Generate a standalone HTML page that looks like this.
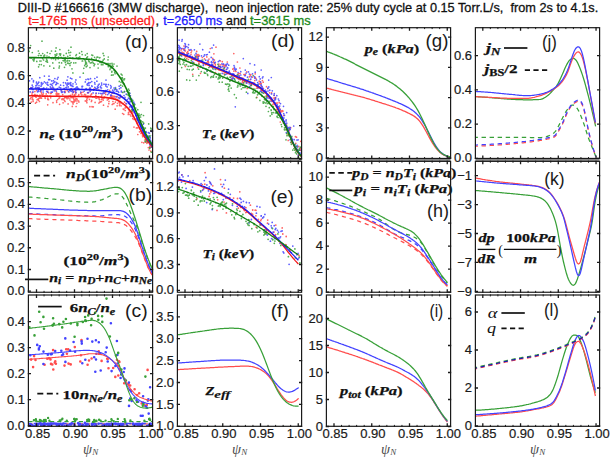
<!DOCTYPE html><html><head><meta charset="utf-8"><style>html,body{margin:0;padding:0;background:#fff;overflow:hidden}svg{display:block}</style></head><body>
<svg width="616" height="458" viewBox="0 0 616 458">
<rect width="616" height="458" fill="#fff"/>
<text x="17.8" y="12.4" font-size="13" textLength="580.4" lengthAdjust="spacingAndGlyphs" fill="#111" stroke="#111" stroke-width="0.3" style='font-family:"Liberation Sans",sans-serif'>DIII-D #166616 (3MW discharge),&#160; neon injection rate: 25% duty cycle at 0.15 Torr.L/s,&#160; from 2s to 4.1s.</text>
<text x="28.2" y="25.3" font-size="13" textLength="126.8" lengthAdjust="spacingAndGlyphs" fill="#ff1a1a" stroke="#ff1a1a" stroke-width="0.3" style='font-family:"Liberation Sans",sans-serif'>t=1765 ms (unseeded)</text>
<text x="155.60" y="25.30" font-size="13.00" text-anchor="start" fill="#111" style='font-family:"Liberation Sans",sans-serif' stroke="#111" stroke-width="0.3">,</text>
<text x="163.3" y="25.3" font-size="13" textLength="59.1" lengthAdjust="spacingAndGlyphs" fill="#1a1aff" stroke="#1a1aff" stroke-width="0.3" style='font-family:"Liberation Sans",sans-serif'>t=2650 ms</text>
<text x="226.0" y="25.3" font-size="13" textLength="20.7" lengthAdjust="spacingAndGlyphs" fill="#111" stroke="#111" stroke-width="0.3" style='font-family:"Liberation Sans",sans-serif'>and</text>
<text x="250.0" y="25.3" font-size="13" textLength="60.8" lengthAdjust="spacingAndGlyphs" fill="#1a8a1a" stroke="#1a8a1a" stroke-width="0.3" style='font-family:"Liberation Sans",sans-serif'>t=3615 ms</text>
<clipPath id="c00"><rect x="28.40" y="27.70" width="124.20" height="130.90"/></clipPath>
<g clip-path="url(#c00)">
<path d="M145.5,142.2h0M73.1,104.0h0M125.8,103.6h0M101.8,95.1h0M65.0,101.4h0M142.9,133.7h0M136.3,118.9h0M73.7,101.6h0M149.2,141.4h0M56.3,94.8h0M128.4,112.8h0M112.9,101.5h0M86.9,100.3h0M32.3,92.4h0M139.5,131.8h0M99.6,99.7h0M76.9,103.3h0M72.5,96.6h0M109.3,97.8h0M71.5,97.1h0M91.4,101.5h0M74.5,94.6h0M35.3,96.3h0M59.6,104.3h0M132.8,118.7h0M130.0,114.3h0M111.2,97.5h0M86.9,100.7h0M148.8,139.2h0M132.7,110.4h0M58.9,93.9h0M98.9,103.1h0M147.0,141.7h0M125.9,103.7h0M74.3,96.2h0M86.8,99.2h0M92.7,106.8h0M140.3,124.9h0M117.1,105.8h0M77.9,100.8h0M85.8,95.1h0M39.9,95.5h0M89.5,99.4h0M56.9,96.2h0M40.0,97.5h0M39.8,89.0h0M55.3,90.7h0M115.2,109.2h0M50.7,97.8h0M99.0,98.8h0M103.2,100.1h0M148.3,147.6h0M85.3,100.9h0M124.5,102.2h0M32.8,96.4h0M108.4,99.2h0M150.1,147.8h0M34.4,94.7h0M141.0,133.4h0M47.8,98.0h0M112.2,104.5h0M31.6,87.8h0M36.1,97.2h0M45.2,98.3h0M140.3,123.7h0M125.6,106.8h0M110.6,96.3h0M109.0,101.4h0M64.9,97.6h0M94.0,88.8h0M88.3,92.7h0M146.4,142.3h0M84.8,94.4h0M121.1,105.8h0M73.0,102.9h0M143.3,136.2h0M134.2,119.4h0M151.5,147.2h0M56.7,102.3h0M136.4,127.9h0M87.6,97.9h0M91.7,100.4h0M95.7,98.0h0M39.9,95.2h0M137.8,134.5h0M103.4,98.0h0M41.6,93.9h0M120.1,97.4h0M42.6,94.7h0M75.8,94.0h0M111.5,95.4h0M86.2,96.6h0M36.6,102.2h0M105.7,92.3h0M74.0,99.7h0M75.8,98.9h0M48.7,92.8h0M51.3,93.1h0M151.6,146.3h0M103.5,105.2h0M101.3,97.2h0M125.3,110.5h0M76.1,100.9h0M47.6,91.4h0M103.8,98.3h0M78.7,101.1h0M78.5,95.7h0M39.4,101.4h0M80.7,93.6h0M34.9,91.6h0M140.3,129.2h0M75.0,99.8h0M117.2,99.7h0M101.5,101.5h0M83.1,92.0h0M70.5,95.3h0M32.5,98.0h0M109.7,90.3h0M40.8,98.1h0M57.6,94.1h0M147.4,138.9h0M75.1,96.3h0M73.4,92.2h0M114.0,103.5h0M61.9,99.4h0M74.2,101.9h0M66.6,98.0h0M114.7,96.9h0M38.1,87.9h0M75.7,92.7h0M152.2,144.3h0M108.0,106.4h0M87.4,97.9h0M64.4,100.3h0M31.3,102.1h0M141.3,131.4h0M142.7,136.7h0M149.8,141.8h0M88.0,96.4h0M102.1,98.5h0M64.3,89.0h0M131.2,111.1h0M100.7,101.9h0M65.3,97.4h0M65.1,91.1h0M72.7,90.3h0M111.7,97.0h0M123.9,109.4h0M41.4,98.0h0M143.7,142.8h0M121.9,96.6h0M128.3,114.4h0M53.0,102.7h0M46.2,93.9h0M119.5,105.0h0M144.9,135.5h0M71.5,88.6h0M40.9,90.5h0M69.0,96.0h0M132.4,116.2h0M130.6,115.8h0M57.6,99.5h0M47.7,104.8h0M89.9,90.6h0M68.2,96.8h0M134.0,127.1h0M86.2,96.5h0M56.6,92.8h0M81.9,94.9h0M56.1,93.8h0M115.8,98.9h0M149.0,150.0h0M103.9,93.3h0M58.0,94.8h0M129.2,109.9h0M73.7,98.6h0M39.4,98.2h0M47.6,95.9h0M74.5,100.9h0M132.0,111.2h0M56.6,100.8h0M125.5,107.3h0M38.7,96.3h0M132.6,116.4h0M117.2,96.7h0M39.4,98.3h0M33.8,95.5h0M59.7,97.8h0M50.7,93.5h0M108.8,103.7h0M86.9,102.7h0M99.6,102.2h0M63.9,98.5h0M149.8,146.7h0M41.2,92.2h0M110.7,98.1h0M94.4,97.0h0M151.2,146.1h0M146.9,143.3h0M88.0,96.1h0M84.1,95.0h0M72.7,101.9h0M49.8,96.2h0M113.0,97.6h0M138.5,119.8h0M87.5,92.8h0M142.3,133.3h0M58.9,98.4h0M61.6,91.0h0M146.9,141.0h0M142.5,135.6h0M92.0,106.7h0M96.8,98.2h0M72.3,106.4h0M32.0,94.2h0M75.0,91.4h0M150.7,144.5h0M91.5,94.6h0M128.6,109.6h0M48.5,99.7h0M119.5,105.6h0M101.7,99.4h0M150.8,151.2h0M67.2,98.7h0M86.3,101.3h0M62.2,98.7h0M119.9,103.7h0M37.0,95.1h0M119.2,102.2h0M132.0,105.7h0M59.3,96.3h0M73.0,97.8h0M71.3,101.6h0M137.2,123.5h0M47.8,99.4h0M141.9,142.3h0M40.0,96.0h0M33.1,101.4h0M129.2,111.8h0M36.6,90.4h0M99.0,97.9h0M92.7,96.9h0M138.3,122.5h0M112.1,93.2h0M150.3,141.9h0M113.0,96.0h0M70.0,100.0h0M144.7,140.0h0M38.3,100.1h0M113.1,103.8h0M41.9,89.2h0M50.7,96.3h0M76.4,98.7h0M90.5,95.3h0M35.1,94.6h0M78.8,94.7h0M95.1,102.4h0M63.1,102.8h0M78.9,102.0h0M125.2,107.9h0M52.1,88.2h0M66.8,97.3h0M62.7,94.6h0M59.4,97.8h0M33.1,99.8h0M147.1,143.0h0M91.6,93.9h0M69.0,92.0h0M137.7,127.9h0M31.2,97.5h0M41.6,98.1h0M30.8,87.8h0M32.3,99.5h0M28.8,100.0h0M104.0,97.5h0M117.5,103.3h0M72.4,94.2h0M143.6,130.8h0M122.2,97.1h0M151.0,145.3h0M123.8,114.3h0M93.3,106.8h0M35.5,103.2h0M43.3,93.8h0M69.0,98.4h0M45.4,98.0h0M107.5,97.5h0M37.1,99.7h0M95.8,95.4h0M73.5,97.8h0M76.1,106.5h0M38.3,98.9h0M117.7,99.7h0M123.2,109.0h0M68.1,103.9h0M75.2,96.7h0M114.4,96.4h0M44.9,96.7h0M104.7,97.0h0M70.9,97.8h0M115.4,102.1h0M107.3,100.0h0M67.2,90.4h0M63.2,99.4h0M77.1,99.2h0M65.2,92.3h0M122.6,113.5h0M126.5,107.5h0M89.9,106.7h0M57.9,93.5h0M89.6,88.7h0M122.3,103.6h0M96.1,93.5h0M30.4,98.7h0M39.4,96.0h0M76.2,99.0h0M133.0,112.7h0M81.5,92.6h0M105.8,94.4h0M98.5,90.2h0" stroke="#ff4d4d" stroke-width="1.70" stroke-linecap="round" opacity="0.85"/>
<path d="M47.5,82.3h0M65.6,82.8h0M121.3,91.1h0M150.4,140.1h0M151.6,131.5h0M63.4,82.6h0M119.2,86.2h0M48.6,89.4h0M36.5,82.2h0M104.5,93.0h0M78.2,88.4h0M101.7,84.9h0M71.9,85.8h0M29.5,80.8h0M53.5,80.7h0M32.4,89.5h0M129.3,103.4h0M38.9,89.1h0M47.7,92.2h0M36.5,85.6h0M129.7,98.8h0M103.4,91.9h0M52.1,85.6h0M54.1,90.8h0M52.8,83.6h0M47.8,85.1h0M82.0,86.4h0M143.3,124.2h0M146.3,135.1h0M148.5,136.0h0M41.3,83.1h0M124.3,92.0h0M71.7,85.4h0M94.8,87.3h0M66.4,87.4h0M114.2,92.4h0M69.1,83.1h0M137.3,119.9h0M54.9,81.8h0M74.5,88.8h0M121.4,91.9h0M43.1,90.0h0M35.9,85.7h0M41.4,82.7h0M114.0,88.0h0M147.8,136.5h0M86.0,79.6h0M82.1,86.9h0M39.8,77.7h0M41.0,86.3h0M53.9,82.5h0M91.8,81.5h0M65.9,83.6h0M71.0,88.8h0M102.6,93.7h0M138.9,117.0h0M40.2,91.3h0M44.4,76.1h0M52.3,92.2h0M130.3,101.7h0M78.9,89.0h0M134.6,104.6h0M90.2,91.3h0M49.0,76.2h0M108.9,93.4h0M51.1,92.2h0M130.0,99.7h0M51.1,88.4h0M54.9,78.6h0M133.3,102.9h0M129.5,95.5h0M104.8,91.1h0M86.1,88.7h0M113.2,91.3h0M58.1,77.4h0M32.8,92.0h0M72.5,89.8h0M105.8,86.0h0M52.0,92.2h0M118.5,97.7h0M135.8,115.4h0M76.2,87.6h0M70.8,82.7h0M43.9,88.0h0M128.5,98.1h0M75.9,79.9h0M148.1,137.1h0M87.5,83.6h0M99.2,84.1h0M68.6,84.1h0M93.1,92.9h0M119.4,88.7h0M61.1,90.7h0M105.7,84.4h0M150.8,143.5h0M75.1,88.5h0M50.9,87.9h0M142.4,127.5h0M38.1,83.3h0M149.0,139.4h0M146.4,136.1h0M71.7,91.3h0M90.5,88.2h0M46.7,88.0h0M101.6,83.1h0M31.9,78.8h0M132.8,106.3h0M42.0,84.4h0M142.6,126.4h0M56.3,84.2h0M73.3,91.9h0M31.9,87.9h0M75.3,82.1h0M36.5,83.0h0M143.5,129.4h0M129.9,93.3h0M149.7,144.8h0M84.2,91.1h0M106.3,90.7h0M92.1,86.3h0M149.4,133.2h0M96.9,88.5h0M127.5,99.7h0M67.9,76.8h0M119.5,98.4h0M120.3,95.2h0M80.7,92.1h0M55.8,84.7h0M47.1,84.3h0M128.7,101.8h0M145.9,131.5h0M53.6,88.0h0M96.1,93.1h0M107.1,86.9h0M43.0,83.3h0M137.2,118.9h0M52.9,87.2h0M110.6,85.5h0M94.8,78.5h0M116.3,96.8h0M101.0,93.5h0M48.1,85.2h0M35.6,87.7h0M112.6,90.2h0M140.5,124.4h0M88.6,92.6h0M140.3,123.8h0M152.4,142.1h0M97.4,88.4h0M68.3,86.9h0M53.8,89.0h0M100.5,86.3h0M141.6,131.3h0M33.1,92.0h0M91.7,89.8h0M150.9,144.0h0M126.6,103.7h0M117.9,91.3h0M63.6,85.5h0M33.5,80.5h0M124.4,91.7h0M131.3,99.4h0M44.4,81.8h0M43.1,88.5h0M49.7,79.7h0M98.4,87.4h0M97.6,86.5h0M76.0,92.4h0M149.4,136.7h0M120.6,96.7h0M93.5,90.1h0M51.3,84.3h0M37.5,91.8h0M88.6,79.3h0M140.4,121.2h0M115.6,89.0h0M141.9,132.1h0M62.1,91.5h0M76.3,84.0h0M87.8,92.6h0M56.4,91.1h0M106.0,80.1h0M46.7,91.4h0M94.7,82.6h0M87.8,92.6h0M67.7,83.2h0M35.3,88.2h0M65.9,87.5h0M77.1,86.9h0M64.1,88.4h0M73.0,86.4h0M70.6,90.9h0M77.5,89.0h0M57.3,79.1h0M39.6,89.5h0M43.1,92.1h0M80.0,77.1h0M116.9,91.1h0M73.0,83.8h0M57.9,83.5h0M106.2,84.4h0M62.2,92.3h0M75.8,90.6h0M131.5,99.0h0M82.0,89.2h0M68.1,87.0h0M64.5,92.4h0M101.5,88.0h0M152.5,135.5h0M98.8,93.3h0M129.8,106.9h0M30.2,91.9h0M151.3,147.1h0M90.5,78.7h0M131.9,99.4h0M150.3,137.9h0M100.6,87.6h0M133.9,105.4h0M37.3,87.6h0M133.8,102.2h0M45.8,82.9h0M33.4,81.8h0M67.1,84.6h0M87.8,79.0h0M107.7,94.6h0M51.7,80.9h0M104.0,84.2h0M32.9,86.8h0M148.4,132.7h0M141.2,127.3h0M79.7,89.3h0M70.8,85.4h0M88.8,82.5h0M147.0,140.4h0M111.3,86.8h0M126.2,94.2h0M110.8,88.1h0M152.1,142.2h0M41.3,84.9h0M138.5,115.1h0M69.6,90.2h0M38.2,90.2h0M64.3,89.0h0M39.0,87.6h0M125.0,97.4h0M110.7,95.2h0M88.8,83.5h0M130.4,95.8h0M70.5,84.9h0M91.8,85.9h0M98.2,85.2h0M87.1,84.7h0M50.4,84.4h0M118.7,92.3h0M56.6,82.6h0M38.5,88.7h0M60.6,85.2h0M76.6,87.8h0M116.1,89.3h0M96.9,81.2h0M143.3,127.7h0M95.0,84.1h0M66.3,87.7h0M138.9,116.4h0M32.2,85.2h0M52.6,89.5h0M124.0,95.5h0M67.1,85.5h0M146.3,132.2h0M38.8,82.2h0M39.2,87.8h0M67.1,80.2h0M115.5,87.5h0M134.4,103.9h0M60.7,87.8h0M73.1,92.4h0M120.9,87.7h0M105.3,90.5h0M97.5,86.6h0M111.4,95.4h0M97.0,77.2h0M40.7,90.5h0M43.4,88.2h0M82.6,86.3h0M31.1,87.5h0M71.9,78.8h0M87.5,85.1h0M150.6,140.7h0M100.7,93.5h0M48.7,79.7h0M89.7,88.2h0M89.1,85.4h0M116.0,96.6h0M116.3,91.2h0M68.5,91.6h0M131.0,98.7h0M90.4,82.5h0M33.2,89.6h0M85.3,81.9h0M47.7,82.6h0M107.8,89.8h0M116.9,89.8h0M108.4,84.6h0M70.5,78.2h0M57.4,88.7h0M39.0,85.6h0M70.4,84.1h0M95.7,88.3h0M37.1,84.7h0M130.0,99.5h0M77.2,87.8h0M38.3,91.4h0M64.2,91.5h0M50.2,86.8h0M61.6,92.3h0M72.5,86.3h0M59.2,87.2h0M36.1,88.5h0M134.0,106.8h0M114.4,89.8h0" stroke="#4343ff" stroke-width="1.70" stroke-linecap="round" opacity="0.85"/>
<path d="M76.5,57.9h0M31.1,58.0h0M53.3,58.6h0M147.7,141.9h0M134.5,104.5h0M134.1,109.8h0M114.1,70.3h0M63.7,55.4h0M108.0,59.8h0M147.1,140.7h0M104.3,58.9h0M64.1,60.9h0M70.2,58.2h0M71.1,62.5h0M141.4,114.5h0M28.7,48.8h0M123.2,83.4h0M85.9,62.0h0M66.0,61.0h0M52.4,57.6h0M144.4,129.5h0M79.6,57.1h0M152.0,146.0h0M87.2,53.6h0M148.7,123.9h0M101.2,62.5h0M65.9,64.7h0M128.9,103.2h0M66.3,53.4h0M132.7,110.1h0M112.0,68.1h0M71.0,47.2h0M97.8,57.2h0M81.7,51.6h0M38.4,55.6h0M151.2,128.9h0M42.0,41.2h0M90.4,63.0h0M122.3,77.5h0M123.5,83.4h0M68.6,50.3h0M114.0,64.0h0M60.3,55.2h0M91.7,58.4h0M65.3,62.5h0M114.7,72.2h0M61.6,62.9h0M115.4,88.7h0M106.3,64.0h0M70.6,52.3h0M59.4,66.1h0M135.8,108.0h0M130.9,99.3h0M145.2,135.1h0M111.6,66.4h0M137.8,109.7h0M42.7,53.5h0M68.9,52.7h0M119.3,81.4h0M43.9,56.1h0M110.3,68.1h0M56.1,47.9h0M131.8,111.3h0M113.1,74.9h0M98.4,60.6h0M134.6,104.4h0M56.5,55.3h0M141.1,120.9h0M82.2,54.6h0M122.6,86.1h0M44.6,56.0h0M106.6,63.5h0M132.7,100.6h0M135.9,113.7h0M70.0,55.3h0M85.4,60.9h0M86.7,64.0h0M140.6,117.0h0M89.2,61.7h0M86.4,62.8h0M148.4,140.1h0M72.9,72.9h0M111.9,71.4h0M138.9,113.8h0M129.4,95.6h0M41.2,55.6h0M151.9,146.3h0M30.6,45.5h0M90.0,67.6h0M122.8,92.4h0M46.0,61.3h0M59.5,53.9h0M147.3,138.1h0M83.3,73.2h0M110.1,63.7h0M120.7,85.2h0M86.2,66.8h0M149.9,136.6h0M121.3,78.1h0M124.6,78.8h0M94.1,65.7h0M46.7,61.6h0M121.0,82.3h0M47.3,52.6h0M131.5,101.2h0M130.3,98.5h0M40.5,55.5h0M72.0,68.8h0M70.0,65.4h0M68.4,63.4h0M103.1,53.4h0M150.0,135.7h0M42.6,58.6h0M133.9,105.9h0M33.0,59.7h0M149.6,148.5h0M101.8,62.6h0M84.7,65.6h0M59.2,62.7h0M64.5,59.1h0M146.9,135.7h0M67.6,61.0h0M36.8,61.4h0M61.1,57.4h0M144.8,128.2h0M108.3,57.0h0M43.9,65.8h0M84.8,59.7h0M144.3,130.6h0M73.8,62.9h0M108.3,66.6h0M99.9,57.5h0M38.6,66.8h0M102.9,64.7h0M85.5,64.2h0M138.4,115.6h0M69.5,58.2h0M115.1,73.7h0M88.6,60.8h0M58.2,58.8h0M75.8,62.8h0M101.4,64.7h0M129.4,92.9h0M143.7,123.2h0M78.8,58.6h0M32.3,52.5h0M91.7,55.0h0M85.4,55.1h0M122.1,75.1h0M58.6,57.2h0M103.9,55.6h0M150.7,128.0h0M79.7,57.6h0M138.5,117.7h0M83.8,68.3h0M51.4,58.6h0M29.0,51.2h0M52.8,62.9h0M49.8,66.1h0M29.2,51.5h0M55.1,54.6h0M78.4,58.3h0M108.4,63.5h0M124.6,91.5h0M97.0,57.2h0M92.6,62.0h0M55.6,59.7h0M56.9,53.9h0M64.9,60.1h0M102.4,61.6h0M109.9,65.3h0M58.6,58.1h0M47.5,62.2h0M34.1,59.7h0M145.1,141.6h0M65.5,57.7h0M122.8,78.8h0M98.0,64.1h0M59.9,49.6h0M131.8,109.3h0M53.8,68.2h0M39.3,64.6h0M91.4,62.7h0M124.2,84.1h0M39.9,61.0h0M94.6,57.3h0M63.1,60.5h0M135.4,111.0h0M33.8,61.0h0M50.0,53.5h0M67.7,60.4h0M92.7,55.4h0M99.5,57.8h0M112.3,65.0h0M34.2,58.7h0M82.2,61.0h0M143.5,115.5h0M87.5,56.8h0M41.3,64.6h0M111.5,75.2h0M82.6,61.0h0M128.3,92.3h0M44.6,55.0h0M145.5,141.4h0M101.2,61.7h0M140.8,126.0h0M67.5,63.1h0M75.9,55.6h0M98.2,68.0h0M93.4,63.4h0M99.9,62.4h0M55.5,51.2h0M128.5,95.6h0M47.1,60.3h0M138.0,120.9h0M79.5,53.2h0M139.9,115.3h0M111.0,67.0h0M136.3,111.9h0M86.7,57.9h0M122.1,78.6h0M67.7,56.4h0M53.3,57.8h0M145.4,128.1h0M43.6,56.0h0M69.5,60.8h0M128.5,89.1h0M107.7,63.6h0M64.5,67.3h0M142.7,121.8h0M113.2,66.3h0M143.8,130.5h0M145.8,139.8h0M76.4,54.6h0M144.7,137.3h0M123.9,79.9h0M64.9,58.4h0M103.1,60.2h0M110.0,69.6h0M141.4,125.0h0M111.8,72.1h0M79.9,57.0h0M126.8,91.1h0M85.6,62.8h0M117.0,66.1h0M46.6,59.1h0M64.5,58.5h0M55.3,56.2h0M129.5,93.5h0M141.0,102.3h0M38.4,51.0h0M72.5,58.1h0M132.8,100.4h0M127.1,94.6h0M60.7,53.9h0M112.0,63.4h0M94.7,64.2h0M138.9,117.5h0M138.4,120.5h0M51.5,51.0h0M129.2,90.4h0M69.9,63.5h0M41.0,61.0h0M121.1,74.1h0M47.0,56.0h0M59.1,67.9h0M65.3,59.2h0M151.3,152.2h0M149.8,147.5h0M145.0,132.2h0M43.6,60.0h0M131.3,106.4h0M122.2,81.3h0M78.2,57.8h0M49.0,56.8h0M96.2,59.2h0M39.2,53.5h0M87.2,65.8h0M140.7,124.8h0M148.9,137.1h0" stroke="#38a038" stroke-width="1.70" stroke-linecap="round" opacity="0.85"/>
<path d="M28.4,95.7 L29.4,95.7 L30.4,95.8 L31.4,95.8 L32.4,95.8 L33.4,95.8 L34.4,95.9 L35.4,95.9 L36.4,95.9 L37.4,95.9 L38.4,96.0 L39.4,96.0 L40.4,96.0 L41.4,96.0 L42.4,96.1 L43.4,96.1 L44.4,96.1 L45.4,96.1 L46.4,96.1 L47.4,96.2 L48.4,96.2 L49.4,96.2 L50.4,96.2 L51.4,96.2 L52.4,96.2 L53.4,96.2 L54.4,96.3 L55.4,96.3 L56.4,96.3 L57.4,96.3 L58.4,96.3 L59.4,96.3 L60.4,96.3 L61.4,96.3 L62.4,96.3 L63.4,96.3 L64.4,96.4 L65.4,96.4 L66.4,96.4 L67.4,96.4 L68.4,96.4 L69.4,96.4 L70.4,96.4 L71.4,96.4 L72.4,96.4 L73.4,96.4 L74.4,96.4 L75.4,96.4 L76.4,96.5 L77.4,96.5 L78.4,96.5 L79.4,96.5 L80.4,96.5 L81.4,96.5 L82.4,96.5 L83.4,96.5 L84.4,96.5 L85.4,96.6 L86.4,96.6 L87.4,96.6 L88.4,96.6 L89.4,96.6 L90.4,96.7 L91.4,96.7 L92.4,96.7 L93.4,96.7 L94.4,96.8 L95.4,96.8 L96.4,96.8 L97.4,96.9 L98.4,96.9 L99.4,97.0 L100.4,97.0 L101.4,97.1 L102.4,97.2 L103.4,97.3 L104.4,97.4 L105.4,97.5 L106.4,97.6 L107.4,97.7 L108.4,97.9 L109.4,98.0 L110.4,98.2 L111.4,98.4 L112.4,98.6 L113.4,98.9 L114.4,99.1 L115.4,99.4 L116.4,99.8 L117.4,100.2 L118.4,100.7 L119.4,101.2 L120.4,101.8 L121.4,102.5 L122.4,103.3 L123.4,104.0 L124.4,104.8 L125.4,105.6 L126.4,106.5 L127.4,107.5 L128.4,108.6 L129.4,109.8 L130.4,111.2 L131.4,112.7 L132.4,114.4 L133.4,116.1 L134.4,118.0 L135.4,119.9 L136.4,121.8 L137.4,123.8 L138.4,125.8 L139.4,127.8 L140.4,129.7 L141.4,131.5 L142.4,133.2 L143.4,134.8 L144.4,136.4 L145.4,137.8 L146.4,139.2 L147.4,140.6 L148.4,141.9 L149.4,143.2 L150.4,144.4 L151.4,145.6 L152.4,146.8 L152.9,147.3" fill="none" stroke="#f21818" stroke-width="1.60" stroke-linejoin="round" opacity="1.00" />
<path d="M28.4,88.9 L29.4,88.9 L30.4,88.9 L31.4,88.9 L32.4,89.0 L33.4,89.0 L34.4,89.0 L35.4,89.0 L36.4,89.0 L37.4,89.0 L38.4,89.0 L39.4,89.1 L40.4,89.1 L41.4,89.1 L42.4,89.1 L43.4,89.1 L44.4,89.1 L45.4,89.1 L46.4,89.2 L47.4,89.2 L48.4,89.2 L49.4,89.2 L50.4,89.2 L51.4,89.2 L52.4,89.2 L53.4,89.2 L54.4,89.2 L55.4,89.3 L56.4,89.3 L57.4,89.3 L58.4,89.3 L59.4,89.3 L60.4,89.3 L61.4,89.3 L62.4,89.3 L63.4,89.3 L64.4,89.3 L65.4,89.3 L66.4,89.3 L67.4,89.3 L68.4,89.4 L69.4,89.4 L70.4,89.4 L71.4,89.4 L72.4,89.4 L73.4,89.4 L74.4,89.4 L75.4,89.4 L76.4,89.4 L77.4,89.4 L78.4,89.4 L79.4,89.5 L80.4,89.5 L81.4,89.5 L82.4,89.5 L83.4,89.5 L84.4,89.5 L85.4,89.6 L86.4,89.6 L87.4,89.6 L88.4,89.6 L89.4,89.7 L90.4,89.7 L91.4,89.7 L92.4,89.8 L93.4,89.9 L94.4,89.9 L95.4,90.0 L96.4,90.1 L97.4,90.2 L98.4,90.3 L99.4,90.4 L100.4,90.5 L101.4,90.6 L102.4,90.7 L103.4,90.8 L104.4,91.0 L105.4,91.1 L106.4,91.3 L107.4,91.5 L108.4,91.7 L109.4,91.9 L110.4,92.1 L111.4,92.4 L112.4,92.6 L113.4,92.9 L114.4,93.2 L115.4,93.5 L116.4,93.8 L117.4,94.2 L118.4,94.7 L119.4,95.2 L120.4,95.8 L121.4,96.5 L122.4,97.3 L123.4,98.0 L124.4,98.8 L125.4,99.7 L126.4,100.6 L127.4,101.5 L128.4,102.5 L129.4,103.7 L130.4,105.0 L131.4,106.5 L132.4,108.2 L133.4,110.0 L134.4,111.9 L135.4,114.0 L136.4,116.2 L137.4,118.5 L138.4,120.8 L139.4,123.1 L140.4,125.4 L141.4,127.6 L142.4,129.7 L143.4,131.7 L144.4,133.5 L145.4,135.2 L146.4,136.9 L147.4,138.5 L148.4,140.0 L149.4,141.4 L150.4,142.9 L151.4,144.3 L152.4,145.7 L152.9,146.4" fill="none" stroke="#1a1af0" stroke-width="1.60" stroke-linejoin="round" opacity="1.00" />
<path d="M28.4,57.6 L29.4,57.6 L30.4,57.6 L31.4,57.6 L32.4,57.6 L33.4,57.6 L34.4,57.6 L35.4,57.6 L36.4,57.6 L37.4,57.7 L38.4,57.7 L39.4,57.7 L40.4,57.7 L41.4,57.7 L42.4,57.7 L43.4,57.7 L44.4,57.7 L45.4,57.7 L46.4,57.8 L47.4,57.8 L48.4,57.8 L49.4,57.8 L50.4,57.8 L51.4,57.8 L52.4,57.8 L53.4,57.9 L54.4,57.9 L55.4,57.9 L56.4,57.9 L57.4,57.9 L58.4,58.0 L59.4,58.0 L60.4,58.0 L61.4,58.0 L62.4,58.1 L63.4,58.1 L64.4,58.1 L65.4,58.2 L66.4,58.2 L67.4,58.2 L68.4,58.2 L69.4,58.3 L70.4,58.3 L71.4,58.3 L72.4,58.4 L73.4,58.4 L74.4,58.5 L75.4,58.5 L76.4,58.5 L77.4,58.6 L78.4,58.6 L79.4,58.7 L80.4,58.7 L81.4,58.8 L82.4,58.8 L83.4,58.9 L84.4,59.0 L85.4,59.0 L86.4,59.1 L87.4,59.2 L88.4,59.3 L89.4,59.4 L90.4,59.5 L91.4,59.6 L92.4,59.7 L93.4,59.9 L94.4,60.1 L95.4,60.3 L96.4,60.5 L97.4,60.7 L98.4,61.0 L99.4,61.2 L100.4,61.5 L101.4,61.9 L102.4,62.2 L103.4,62.7 L104.4,63.1 L105.4,63.5 L106.4,64.0 L107.4,64.5 L108.4,65.0 L109.4,65.6 L110.4,66.3 L111.4,67.0 L112.4,67.8 L113.4,68.8 L114.4,69.8 L115.4,71.0 L116.4,72.3 L117.4,73.7 L118.4,75.1 L119.4,76.5 L120.4,78.1 L121.4,79.7 L122.4,81.3 L123.4,83.1 L124.4,84.9 L125.4,86.8 L126.4,88.9 L127.4,91.0 L128.4,93.2 L129.4,95.5 L130.4,97.9 L131.4,100.2 L132.4,102.6 L133.4,105.0 L134.4,107.4 L135.4,109.7 L136.4,112.0 L137.4,114.4 L138.4,116.7 L139.4,119.1 L140.4,121.6 L141.4,124.0 L142.4,126.4 L143.4,128.7 L144.4,131.0 L145.4,133.1 L146.4,135.1 L147.4,137.0 L148.4,138.7 L149.4,140.4 L150.4,142.0 L151.4,143.6 L152.4,145.1 L152.9,145.8" fill="none" stroke="#118011" stroke-width="1.60" stroke-linejoin="round" opacity="1.00" />
</g>
<text x="125.10" y="47.55" font-size="17.5" textLength="22.80" lengthAdjust="spacingAndGlyphs" fill="#1a1a1a" style='font-family:"Liberation Sans",sans-serif'>(ɑ)</text>
<clipPath id="c10"><rect x="177.40" y="27.70" width="124.20" height="130.90"/></clipPath>
<g clip-path="url(#c10)">
<path d="M197.3,56.4h0M250.2,79.7h0M279.7,111.9h0M214.4,60.1h0M262.4,80.5h0M235.0,76.5h0M288.0,134.7h0M247.5,81.1h0M300.7,149.0h0M207.6,61.8h0M191.1,52.6h0M220.3,60.8h0M274.1,95.4h0M244.4,74.7h0M292.1,140.8h0M300.8,148.0h0M291.9,142.8h0M197.6,57.8h0M250.7,85.4h0M267.5,96.4h0M291.5,137.6h0M195.7,57.5h0M253.5,82.8h0M184.2,53.7h0M269.6,97.7h0M248.5,87.5h0M193.2,59.0h0M191.6,62.6h0M242.5,81.0h0M238.8,73.6h0M244.3,79.7h0M298.7,146.4h0M298.9,154.7h0M214.2,63.1h0M186.8,58.4h0M213.7,61.9h0M278.4,106.6h0M210.2,66.0h0M195.1,57.7h0M252.4,77.1h0M263.2,82.2h0M199.1,56.2h0M184.7,49.5h0M197.8,67.6h0M206.8,56.9h0M222.3,61.7h0M247.2,88.5h0M290.7,127.7h0M220.8,64.8h0M256.1,85.2h0M259.7,86.8h0M212.6,65.4h0M246.2,82.9h0M299.4,162.0h0M301.1,154.6h0M230.2,73.1h0M279.7,108.6h0M218.9,64.2h0M277.1,102.9h0M224.3,67.3h0M274.1,97.8h0M187.2,54.8h0M202.3,57.5h0M255.4,77.4h0M204.5,58.9h0M214.5,63.4h0M261.3,83.7h0M214.1,62.4h0M217.0,67.9h0M279.2,102.7h0M192.1,59.4h0M182.3,48.6h0M280.5,110.5h0M289.3,130.7h0M261.4,90.3h0M255.2,73.8h0M288.0,129.5h0M243.3,82.7h0M191.7,50.8h0M224.1,66.4h0M232.1,78.0h0M283.0,111.1h0M253.3,88.9h0M185.6,46.6h0M259.2,81.2h0M281.8,111.7h0M187.8,51.6h0M291.3,139.6h0M185.4,66.5h0M263.4,88.5h0M223.0,69.0h0M239.9,68.0h0M199.3,55.3h0M199.0,62.9h0M212.7,58.3h0M276.4,109.8h0M281.2,111.8h0M275.6,97.6h0M219.2,69.9h0M219.7,66.6h0M232.8,69.2h0M196.9,54.6h0M225.5,65.2h0M245.4,74.6h0M213.9,53.8h0M198.1,54.6h0M188.4,59.5h0M233.8,53.6h0M243.2,78.3h0M215.5,72.6h0M178.5,50.5h0M236.0,71.5h0M295.8,143.3h0M249.3,76.8h0M236.9,75.6h0M233.8,71.1h0M218.5,69.6h0M251.0,88.1h0M201.3,61.4h0M288.2,140.4h0M233.8,74.4h0M260.1,84.2h0M185.4,50.9h0M222.9,64.8h0M196.2,55.9h0M200.5,73.3h0M256.9,97.3h0M259.2,92.5h0M256.0,78.6h0M218.1,66.9h0M283.5,123.2h0M274.1,98.6h0M251.5,83.2h0M224.0,73.7h0M269.0,102.9h0M210.5,71.5h0M206.6,62.9h0M181.1,50.0h0M269.6,92.8h0M197.4,58.3h0M218.7,65.9h0M237.1,77.9h0M236.6,75.6h0M276.7,103.2h0M193.9,62.9h0M254.8,80.5h0M242.2,79.1h0M205.3,63.1h0M216.0,47.2h0M226.2,69.5h0M192.4,56.7h0M183.7,49.5h0M196.7,51.4h0M227.3,62.0h0M283.6,115.6h0M214.2,63.0h0M279.2,107.6h0M286.6,125.0h0M205.4,64.7h0M279.5,112.9h0M235.5,70.9h0M241.9,77.8h0M274.0,102.7h0M238.1,73.9h0M256.9,88.2h0M195.6,58.0h0M185.3,56.8h0M282.1,110.5h0M243.1,84.8h0M183.7,52.8h0M271.7,98.0h0M271.6,92.9h0M209.0,59.1h0M264.7,90.9h0M296.5,137.2h0M250.1,75.8h0M286.1,129.3h0M191.0,54.6h0M188.7,49.8h0M222.9,69.3h0M193.8,57.8h0M300.7,141.3h0M198.4,56.2h0M239.0,79.5h0M186.8,52.9h0M182.8,53.4h0M271.1,100.4h0M260.2,81.8h0M225.9,66.2h0M280.3,122.0h0M267.8,88.6h0M242.4,82.4h0M272.9,104.4h0M254.5,83.1h0M187.8,53.2h0M208.6,62.7h0M243.9,74.6h0M215.2,65.9h0M246.8,71.9h0M259.8,83.5h0M215.4,64.3h0M251.1,84.8h0M212.9,64.9h0M261.6,86.4h0M178.9,59.6h0M297.6,149.4h0M243.7,80.6h0M224.2,65.1h0M231.9,80.0h0M198.0,60.9h0M291.5,141.9h0M237.4,62.0h0M239.0,79.0h0M192.7,74.3h0M239.4,76.2h0M211.2,66.9h0M233.2,68.7h0M264.6,91.5h0M266.5,86.7h0M208.4,61.7h0M238.4,73.9h0M286.9,127.1h0M250.8,74.7h0M210.3,48.5h0M197.5,59.8h0M198.7,63.8h0M220.8,67.5h0M197.4,60.4h0M274.9,98.9h0M295.4,136.6h0M300.6,150.5h0M264.5,96.9h0M240.1,73.4h0M276.8,111.8h0M231.9,79.1h0M182.0,52.2h0M297.8,149.9h0M189.9,56.8h0M183.9,46.0h0M271.5,105.9h0" stroke="#ff4d4d" stroke-width="1.70" stroke-linecap="round" opacity="0.85"/>
<path d="M241.8,83.5h0M227.4,67.7h0M255.2,72.2h0M200.2,66.9h0M249.7,86.5h0M245.3,70.1h0M276.7,112.8h0M189.8,50.2h0M184.9,43.6h0M226.8,69.3h0M234.9,69.5h0M245.9,81.6h0M286.3,132.7h0M178.3,45.4h0M294.2,139.7h0M284.5,115.3h0M298.8,153.7h0M213.4,59.6h0M271.5,93.9h0M266.3,91.7h0M252.0,82.5h0M204.9,63.3h0M249.4,74.1h0M261.0,85.2h0M280.2,109.5h0M249.4,82.2h0M240.8,71.7h0M292.7,143.1h0M234.8,68.5h0M262.1,86.7h0M272.3,90.8h0M260.4,91.2h0M245.3,75.5h0M214.6,62.8h0M198.3,58.4h0M279.7,106.0h0M268.7,80.1h0M257.2,85.9h0M292.4,139.1h0M274.8,100.2h0M290.2,127.7h0M275.6,99.1h0M229.3,71.2h0M265.4,90.0h0M271.3,77.5h0M228.6,72.4h0M212.6,67.2h0M236.3,69.1h0M188.2,47.7h0M224.7,67.6h0M274.3,93.5h0M252.5,73.8h0M276.8,95.7h0M226.5,74.0h0M297.6,147.0h0M254.6,64.9h0M279.0,100.6h0M190.0,55.6h0M212.9,59.8h0M183.9,48.5h0M180.2,47.9h0M203.8,56.3h0M287.9,127.9h0M227.5,73.4h0M185.4,44.2h0M186.8,46.5h0M258.3,84.2h0M260.2,78.9h0M222.2,73.4h0M298.3,155.0h0M177.8,50.4h0M203.3,63.7h0M246.8,82.4h0M209.7,66.5h0M278.4,106.9h0M192.7,61.8h0M223.6,64.1h0M261.2,70.0h0M192.3,57.2h0M204.5,54.9h0M220.7,66.5h0M254.9,78.2h0M238.1,78.6h0M297.0,149.3h0M293.7,126.0h0M235.4,69.9h0M202.7,49.7h0M214.0,69.1h0M262.4,77.9h0M191.0,49.6h0M185.3,45.9h0M209.4,52.2h0M249.2,83.8h0M296.9,140.0h0M218.6,66.1h0M188.5,53.7h0M275.5,97.9h0M286.0,121.1h0M221.9,63.8h0M240.2,77.9h0M262.5,92.6h0M261.8,91.6h0M267.7,100.5h0M259.3,76.7h0M179.4,46.2h0M220.7,67.5h0M186.8,55.3h0M184.3,50.5h0M211.3,62.2h0M277.7,108.4h0M208.0,60.3h0M238.1,72.5h0M263.0,76.8h0M234.5,78.8h0M262.7,88.2h0M289.1,127.4h0M290.2,129.4h0M211.2,65.7h0M233.0,77.1h0M215.3,62.3h0M278.4,99.0h0M212.2,64.6h0M226.2,64.4h0M196.0,53.4h0M201.4,60.3h0M248.5,71.9h0M181.6,56.0h0M280.5,103.6h0M203.3,65.4h0M211.2,57.4h0M179.3,47.6h0M299.7,150.2h0M298.1,139.8h0M268.8,86.9h0M266.4,98.4h0M178.0,47.6h0M232.1,79.1h0M203.3,63.1h0M261.3,85.0h0M274.1,95.2h0M233.6,74.0h0M227.8,67.9h0M246.1,73.1h0M194.9,55.0h0M183.0,54.2h0M251.2,84.7h0M269.3,98.3h0M244.9,75.7h0M254.4,76.7h0M207.3,54.5h0M256.5,79.9h0M195.4,56.9h0M181.4,48.7h0M212.0,47.9h0M193.6,59.3h0M247.8,93.4h0M286.7,112.6h0M205.7,60.2h0M267.8,88.2h0M242.5,79.8h0M234.0,65.6h0M250.9,79.1h0M232.8,73.9h0M243.3,58.6h0M207.0,70.7h0M283.7,113.7h0M240.8,75.0h0M260.7,82.1h0M201.5,55.9h0M234.5,67.2h0M185.3,47.7h0M181.9,41.1h0M235.3,106.8h0M286.7,123.2h0M247.5,77.2h0M179.2,49.2h0M222.7,66.7h0M211.4,71.7h0M257.7,82.5h0M211.5,61.5h0M258.2,85.1h0M267.9,97.7h0M225.3,74.3h0M227.4,63.9h0M283.5,106.3h0M206.3,54.8h0M289.2,134.6h0M213.6,45.1h0M261.4,88.6h0M219.5,60.6h0M297.0,146.1h0M198.2,56.6h0M258.0,87.9h0M228.7,65.2h0M199.9,44.1h0M250.0,63.6h0M289.0,128.7h0M202.8,68.0h0M182.2,39.6h0M277.2,106.1h0M230.3,74.1h0M277.3,104.8h0M230.6,77.4h0M179.5,51.4h0M268.0,91.0h0M290.1,139.8h0M269.7,90.0h0M274.9,102.5h0M283.9,117.9h0M286.1,119.9h0M251.5,84.4h0M212.1,62.6h0M271.1,99.2h0M292.3,140.4h0M226.9,72.6h0M297.1,145.4h0M242.4,85.2h0M194.4,49.8h0M257.7,84.6h0M246.9,83.1h0M260.5,87.8h0M271.2,101.3h0M288.5,130.8h0M211.7,62.2h0M180.0,55.0h0M188.6,44.7h0M187.3,54.7h0M251.3,76.9h0M223.4,64.1h0M210.9,66.0h0M238.9,75.6h0M233.2,78.1h0M211.7,64.4h0M179.1,40.1h0M226.1,65.4h0M300.0,152.9h0M181.1,53.6h0M269.8,90.3h0M233.9,74.5h0M218.3,61.6h0" stroke="#4343ff" stroke-width="1.70" stroke-linecap="round" opacity="0.85"/>
<path d="M215.8,69.5h0M228.2,89.6h0M281.3,124.5h0M284.8,130.0h0M266.9,101.6h0M291.2,138.2h0M179.7,54.9h0M219.3,66.5h0M189.8,80.3h0M298.2,150.2h0M286.5,125.3h0M241.4,89.0h0M299.5,148.5h0M192.9,65.4h0M213.4,77.2h0M280.3,117.8h0M180.3,64.4h0M261.9,96.0h0M237.9,86.5h0M179.2,56.8h0M269.3,107.7h0M219.3,82.2h0M178.4,59.4h0M297.9,158.2h0M213.5,75.8h0M239.7,84.5h0M198.6,69.2h0M268.2,95.8h0M276.5,112.8h0M291.0,139.5h0M217.9,64.3h0M219.8,75.0h0M266.6,102.0h0M187.2,69.3h0M185.2,59.7h0M286.6,129.6h0M204.6,73.2h0M212.5,72.0h0M183.2,60.0h0M210.8,70.5h0M210.3,70.6h0M220.1,73.9h0M245.0,80.2h0M183.0,64.1h0M299.6,155.1h0M257.3,91.4h0M295.0,144.4h0M196.3,80.1h0M240.1,83.2h0M271.1,109.8h0M277.0,116.4h0M255.8,91.3h0M251.1,85.5h0M244.9,85.4h0M190.7,63.2h0M267.2,103.6h0M206.6,69.2h0M271.2,110.4h0M235.1,80.4h0M204.3,72.4h0M196.8,64.7h0M243.5,85.1h0M299.9,163.6h0M296.1,151.7h0M288.7,133.6h0M179.7,61.8h0M279.1,114.8h0M224.6,74.9h0M207.7,75.4h0M219.4,76.4h0M224.0,70.2h0M228.3,72.9h0M236.3,97.9h0M239.2,83.7h0M229.9,81.2h0M210.8,77.6h0M184.8,65.0h0M186.5,64.7h0M178.9,63.4h0M177.6,60.8h0M284.5,127.8h0M244.7,81.6h0M245.6,87.3h0M214.5,74.3h0M230.0,77.1h0M259.9,100.4h0M287.0,135.7h0M226.6,84.4h0M195.3,59.2h0M272.9,100.5h0M293.9,148.5h0M228.6,88.9h0M188.2,66.3h0M208.9,67.5h0M290.7,139.4h0M231.2,88.1h0M256.4,97.7h0M255.6,91.4h0M286.0,139.8h0M196.0,56.8h0M227.4,77.4h0M263.7,93.2h0M229.5,84.4h0M288.7,135.7h0M279.7,115.0h0M228.0,78.3h0M225.5,84.1h0M284.4,129.6h0M222.7,78.1h0M179.2,60.6h0M192.9,76.1h0M237.6,74.9h0M294.1,159.8h0M286.7,133.6h0M248.3,79.4h0M252.7,92.6h0M286.8,126.7h0M183.9,62.4h0M267.0,101.1h0M271.7,112.8h0M234.4,94.6h0M264.5,99.6h0M228.6,86.7h0M246.4,92.2h0M273.2,112.6h0M180.1,59.6h0M301.1,162.3h0M271.9,114.3h0M282.6,119.3h0M229.1,91.2h0M258.2,93.1h0M298.6,157.1h0M263.1,101.9h0M218.1,78.9h0M239.5,84.0h0M231.7,76.1h0M202.7,60.0h0M288.2,133.0h0M300.3,147.2h0M265.3,103.0h0M266.3,95.9h0M251.4,85.3h0M242.9,87.6h0M298.5,160.5h0M218.6,77.5h0M186.1,60.2h0M189.3,69.6h0M205.8,69.0h0M281.7,118.1h0M261.9,92.6h0M218.7,73.6h0M205.7,73.2h0M266.3,96.9h0M240.4,86.0h0M212.7,68.7h0M219.6,78.4h0M289.3,128.9h0M220.4,77.3h0M237.4,87.0h0M177.8,51.9h0M200.8,66.1h0M234.5,79.2h0M296.0,149.6h0M212.9,76.9h0M277.9,112.1h0M240.4,79.6h0M179.3,71.2h0M284.7,125.0h0M259.0,93.8h0M254.9,92.8h0M270.2,115.9h0M184.5,58.5h0M237.9,85.3h0M253.2,75.6h0M290.7,142.4h0M269.5,101.4h0M238.5,81.8h0M296.8,146.7h0M207.5,74.3h0M287.4,131.1h0M278.8,110.1h0M183.1,60.6h0M198.9,75.6h0M295.2,144.9h0M253.3,91.2h0M263.3,103.2h0M273.3,106.5h0M213.2,76.5h0M292.8,150.1h0M224.0,68.4h0M291.8,136.4h0M278.2,114.9h0M230.1,80.0h0M257.5,94.8h0M296.7,153.9h0M226.1,71.8h0M295.5,152.7h0M216.2,76.9h0M199.0,64.3h0M190.3,66.2h0M291.4,144.3h0M298.3,151.5h0M193.4,62.8h0M275.3,112.8h0M186.7,79.9h0M181.7,67.6h0M191.3,60.7h0M297.8,169.4h0M177.6,56.5h0M281.8,126.6h0M264.0,102.2h0M268.4,111.5h0M181.0,55.3h0M281.7,117.6h0M273.9,109.5h0M222.2,82.2h0M278.3,111.0h0M244.3,87.5h0M207.1,71.2h0M266.0,100.2h0M269.0,103.5h0M278.0,117.5h0M211.3,76.6h0M259.6,92.3h0M193.3,69.2h0M277.3,117.1h0M191.2,66.1h0M243.7,83.0h0M284.9,129.9h0M254.9,89.0h0M246.4,86.0h0M266.0,106.3h0M229.8,85.6h0M201.3,71.6h0M294.7,150.1h0M192.1,70.0h0M254.0,92.9h0M227.9,83.9h0M299.3,150.2h0M257.4,85.4h0" stroke="#38a038" stroke-width="1.70" stroke-linecap="round" opacity="0.85"/>
<path d="M177.4,52.5 L178.4,52.9 L179.4,53.3 L180.4,53.7 L181.4,54.1 L182.4,54.5 L183.4,54.9 L184.4,55.3 L185.4,55.7 L186.4,56.1 L187.4,56.5 L188.4,56.9 L189.4,57.3 L190.4,57.7 L191.4,58.1 L192.4,58.5 L193.4,58.9 L194.4,59.3 L195.4,59.8 L196.4,60.2 L197.4,60.6 L198.4,61.0 L199.4,61.4 L200.4,61.8 L201.4,62.2 L202.4,62.6 L203.4,63.0 L204.4,63.4 L205.4,63.9 L206.4,64.3 L207.4,64.7 L208.4,65.1 L209.4,65.5 L210.4,65.9 L211.4,66.3 L212.4,66.7 L213.4,67.1 L214.4,67.6 L215.4,68.0 L216.4,68.4 L217.4,68.8 L218.4,69.2 L219.4,69.6 L220.4,70.1 L221.4,70.5 L222.4,70.9 L223.4,71.3 L224.4,71.8 L225.4,72.2 L226.4,72.6 L227.4,73.0 L228.4,73.5 L229.4,73.9 L230.4,74.4 L231.4,74.8 L232.4,75.3 L233.4,75.7 L234.4,76.2 L235.4,76.6 L236.4,77.0 L237.4,77.5 L238.4,77.9 L239.4,78.3 L240.4,78.7 L241.4,79.1 L242.4,79.5 L243.4,79.9 L244.4,80.3 L245.4,80.7 L246.4,81.1 L247.4,81.5 L248.4,81.9 L249.4,82.4 L250.4,82.8 L251.4,83.3 L252.4,83.7 L253.4,84.2 L254.4,84.8 L255.4,85.3 L256.4,85.9 L257.4,86.5 L258.4,87.1 L259.4,87.8 L260.4,88.5 L261.4,89.3 L262.4,90.1 L263.4,91.0 L264.4,91.9 L265.4,92.8 L266.4,93.8 L267.4,94.9 L268.4,95.9 L269.4,97.0 L270.4,98.2 L271.4,99.4 L272.4,100.7 L273.4,102.0 L274.4,103.5 L275.4,105.0 L276.4,106.7 L277.4,108.4 L278.4,110.3 L279.4,112.3 L280.4,114.3 L281.4,116.5 L282.4,118.7 L283.4,121.0 L284.4,123.2 L285.4,125.4 L286.4,127.7 L287.4,130.0 L288.4,132.3 L289.4,134.7 L290.4,137.2 L291.4,139.6 L292.4,142.0 L293.4,144.3 L294.4,146.4 L295.4,148.3 L296.4,150.0 L297.4,151.6 L298.4,153.0 L299.4,154.3 L300.4,155.5 L301.4,156.6 L301.9,157.1" fill="none" stroke="#f21818" stroke-width="1.50" stroke-linejoin="round" opacity="1.00" />
<path d="M177.4,51.7 L178.4,52.1 L179.4,52.5 L180.4,52.9 L181.4,53.3 L182.4,53.7 L183.4,54.1 L184.4,54.5 L185.4,54.9 L186.4,55.3 L187.4,55.7 L188.4,56.1 L189.4,56.5 L190.4,56.9 L191.4,57.3 L192.4,57.7 L193.4,58.1 L194.4,58.5 L195.4,59.0 L196.4,59.4 L197.4,59.8 L198.4,60.2 L199.4,60.6 L200.4,61.0 L201.4,61.4 L202.4,61.8 L203.4,62.2 L204.4,62.6 L205.4,63.1 L206.4,63.5 L207.4,63.9 L208.4,64.3 L209.4,64.7 L210.4,65.1 L211.4,65.5 L212.4,65.9 L213.4,66.3 L214.4,66.8 L215.4,67.2 L216.4,67.6 L217.4,68.0 L218.4,68.4 L219.4,68.8 L220.4,69.3 L221.4,69.7 L222.4,70.1 L223.4,70.5 L224.4,71.0 L225.4,71.4 L226.4,71.8 L227.4,72.2 L228.4,72.7 L229.4,73.1 L230.4,73.6 L231.4,74.0 L232.4,74.5 L233.4,74.9 L234.4,75.4 L235.4,75.8 L236.4,76.2 L237.4,76.7 L238.4,77.1 L239.4,77.5 L240.4,77.9 L241.4,78.3 L242.4,78.7 L243.4,79.1 L244.4,79.5 L245.4,79.9 L246.4,80.3 L247.4,80.7 L248.4,81.1 L249.4,81.6 L250.4,82.0 L251.4,82.5 L252.4,82.9 L253.4,83.4 L254.4,84.0 L255.4,84.5 L256.4,85.1 L257.4,85.7 L258.4,86.3 L259.4,87.0 L260.4,87.7 L261.4,88.5 L262.4,89.3 L263.4,90.2 L264.4,91.1 L265.4,92.0 L266.4,93.0 L267.4,94.1 L268.4,95.1 L269.4,96.2 L270.4,97.4 L271.4,98.6 L272.4,99.9 L273.4,101.2 L274.4,102.7 L275.4,104.2 L276.4,105.9 L277.4,107.6 L278.4,109.5 L279.4,111.5 L280.4,113.5 L281.4,115.7 L282.4,117.9 L283.4,120.2 L284.4,122.4 L285.4,124.6 L286.4,126.9 L287.4,129.2 L288.4,131.5 L289.4,133.9 L290.4,136.4 L291.4,138.8 L292.4,141.2 L293.4,143.5 L294.4,145.6 L295.4,147.5 L296.4,149.2 L297.4,150.8 L298.4,152.2 L299.4,153.5 L300.4,154.7 L301.4,155.8 L301.9,156.3" fill="none" stroke="#1a1af0" stroke-width="1.50" stroke-linejoin="round" opacity="1.00" />
<path d="M177.4,57.5 L178.4,57.9 L179.4,58.3 L180.4,58.7 L181.4,59.1 L182.4,59.5 L183.4,59.9 L184.4,60.3 L185.4,60.7 L186.4,61.1 L187.4,61.5 L188.4,61.9 L189.4,62.3 L190.4,62.7 L191.4,63.1 L192.4,63.5 L193.4,63.9 L194.4,64.3 L195.4,64.7 L196.4,65.2 L197.4,65.6 L198.4,66.0 L199.4,66.4 L200.4,66.8 L201.4,67.2 L202.4,67.7 L203.4,68.1 L204.4,68.5 L205.4,68.9 L206.4,69.4 L207.4,69.8 L208.4,70.2 L209.4,70.7 L210.4,71.1 L211.4,71.6 L212.4,72.0 L213.4,72.5 L214.4,72.9 L215.4,73.4 L216.4,73.8 L217.4,74.3 L218.4,74.8 L219.4,75.2 L220.4,75.7 L221.4,76.1 L222.4,76.6 L223.4,77.0 L224.4,77.4 L225.4,77.9 L226.4,78.3 L227.4,78.7 L228.4,79.2 L229.4,79.6 L230.4,80.0 L231.4,80.4 L232.4,80.8 L233.4,81.2 L234.4,81.6 L235.4,82.0 L236.4,82.4 L237.4,82.8 L238.4,83.2 L239.4,83.6 L240.4,84.0 L241.4,84.3 L242.4,84.7 L243.4,85.1 L244.4,85.6 L245.4,86.0 L246.4,86.4 L247.4,86.8 L248.4,87.3 L249.4,87.7 L250.4,88.1 L251.4,88.6 L252.4,89.1 L253.4,89.6 L254.4,90.2 L255.4,90.7 L256.4,91.4 L257.4,92.0 L258.4,92.7 L259.4,93.5 L260.4,94.3 L261.4,95.1 L262.4,96.1 L263.4,97.0 L264.4,98.0 L265.4,99.0 L266.4,100.0 L267.4,101.0 L268.4,102.1 L269.4,103.2 L270.4,104.4 L271.4,105.5 L272.4,106.7 L273.4,107.9 L274.4,109.1 L275.4,110.3 L276.4,111.6 L277.4,112.8 L278.4,114.2 L279.4,115.7 L280.4,117.2 L281.4,118.8 L282.4,120.5 L283.4,122.3 L284.4,124.2 L285.4,126.2 L286.4,128.3 L287.4,130.4 L288.4,132.6 L289.4,134.9 L290.4,137.2 L291.4,139.5 L292.4,141.8 L293.4,144.0 L294.4,146.1 L295.4,148.0 L296.4,149.7 L297.4,151.2 L298.4,152.6 L299.4,153.9 L300.4,155.1 L301.4,156.3 L301.9,156.8" fill="none" stroke="#118011" stroke-width="1.50" stroke-linejoin="round" opacity="1.00" />
</g>
<text x="270.90" y="47.35" font-size="17.5" textLength="23.90" lengthAdjust="spacingAndGlyphs" fill="#1a1a1a" style='font-family:"Liberation Sans",sans-serif'>(d)</text>
<clipPath id="c20"><rect x="326.40" y="27.70" width="124.20" height="130.90"/></clipPath>
<g clip-path="url(#c20)">
<path d="M326.4,88.0 L327.4,88.3 L328.4,88.5 L329.4,88.8 L330.4,89.0 L331.4,89.3 L332.4,89.6 L333.4,89.8 L334.4,90.1 L335.4,90.3 L336.4,90.6 L337.4,90.8 L338.4,91.1 L339.4,91.4 L340.4,91.6 L341.4,91.9 L342.4,92.1 L343.4,92.4 L344.4,92.6 L345.4,92.9 L346.4,93.1 L347.4,93.3 L348.4,93.6 L349.4,93.8 L350.4,94.1 L351.4,94.3 L352.4,94.6 L353.4,94.8 L354.4,95.1 L355.4,95.3 L356.4,95.6 L357.4,95.8 L358.4,96.1 L359.4,96.3 L360.4,96.6 L361.4,96.9 L362.4,97.1 L363.4,97.4 L364.4,97.7 L365.4,98.0 L366.4,98.3 L367.4,98.6 L368.4,98.9 L369.4,99.2 L370.4,99.5 L371.4,99.8 L372.4,100.1 L373.4,100.4 L374.4,100.7 L375.4,101.1 L376.4,101.4 L377.4,101.7 L378.4,102.0 L379.4,102.3 L380.4,102.6 L381.4,102.9 L382.4,103.3 L383.4,103.6 L384.4,103.9 L385.4,104.2 L386.4,104.5 L387.4,104.9 L388.4,105.2 L389.4,105.5 L390.4,105.9 L391.4,106.2 L392.4,106.5 L393.4,106.9 L394.4,107.2 L395.4,107.6 L396.4,108.0 L397.4,108.3 L398.4,108.7 L399.4,109.1 L400.4,109.5 L401.4,109.9 L402.4,110.3 L403.4,110.8 L404.4,111.2 L405.4,111.6 L406.4,112.1 L407.4,112.6 L408.4,113.1 L409.4,113.5 L410.4,114.1 L411.4,114.6 L412.4,115.1 L413.4,115.7 L414.4,116.4 L415.4,117.1 L416.4,117.9 L417.4,118.8 L418.4,119.8 L419.4,120.9 L420.4,122.2 L421.4,123.6 L422.4,125.1 L423.4,126.7 L424.4,128.4 L425.4,130.2 L426.4,132.0 L427.4,133.9 L428.4,135.8 L429.4,137.6 L430.4,139.4 L431.4,141.2 L432.4,142.9 L433.4,144.4 L434.4,145.9 L435.4,147.3 L436.4,148.6 L437.4,149.8 L438.4,150.9 L439.4,151.9 L440.4,152.8 L441.4,153.6 L442.4,154.2 L443.4,154.8 L444.4,155.3 L445.4,155.7 L446.4,156.0 L447.4,156.3 L448.4,156.5 L449.4,156.7 L450.4,156.8" fill="none" stroke="#ff4d4d" stroke-width="1.30" stroke-linejoin="round" opacity="1.00" />
<path d="M326.4,78.4 L327.4,78.7 L328.4,79.0 L329.4,79.3 L330.4,79.6 L331.4,79.9 L332.4,80.2 L333.4,80.5 L334.4,80.8 L335.4,81.1 L336.4,81.4 L337.4,81.7 L338.4,82.0 L339.4,82.4 L340.4,82.7 L341.4,83.0 L342.4,83.3 L343.4,83.6 L344.4,83.9 L345.4,84.2 L346.4,84.5 L347.4,84.8 L348.4,85.1 L349.4,85.4 L350.4,85.7 L351.4,86.0 L352.4,86.3 L353.4,86.6 L354.4,86.9 L355.4,87.2 L356.4,87.5 L357.4,87.8 L358.4,88.1 L359.4,88.4 L360.4,88.8 L361.4,89.1 L362.4,89.4 L363.4,89.7 L364.4,90.1 L365.4,90.4 L366.4,90.8 L367.4,91.1 L368.4,91.4 L369.4,91.8 L370.4,92.1 L371.4,92.5 L372.4,92.8 L373.4,93.2 L374.4,93.6 L375.4,93.9 L376.4,94.3 L377.4,94.6 L378.4,95.0 L379.4,95.4 L380.4,95.7 L381.4,96.1 L382.4,96.5 L383.4,96.9 L384.4,97.2 L385.4,97.6 L386.4,98.0 L387.4,98.4 L388.4,98.8 L389.4,99.2 L390.4,99.6 L391.4,100.0 L392.4,100.4 L393.4,100.8 L394.4,101.2 L395.4,101.6 L396.4,102.0 L397.4,102.4 L398.4,102.8 L399.4,103.3 L400.4,103.7 L401.4,104.2 L402.4,104.6 L403.4,105.1 L404.4,105.6 L405.4,106.1 L406.4,106.6 L407.4,107.2 L408.4,107.7 L409.4,108.3 L410.4,109.0 L411.4,109.6 L412.4,110.3 L413.4,111.0 L414.4,111.8 L415.4,112.7 L416.4,113.6 L417.4,114.6 L418.4,115.7 L419.4,116.9 L420.4,118.2 L421.4,119.6 L422.4,121.1 L423.4,122.8 L424.4,124.5 L425.4,126.3 L426.4,128.2 L427.4,130.2 L428.4,132.1 L429.4,134.1 L430.4,136.1 L431.4,138.1 L432.4,140.0 L433.4,141.9 L434.4,143.7 L435.4,145.3 L436.4,146.9 L437.4,148.3 L438.4,149.7 L439.4,150.9 L440.4,151.9 L441.4,152.8 L442.4,153.6 L443.4,154.3 L444.4,154.9 L445.4,155.4 L446.4,155.8 L447.4,156.1 L448.4,156.4 L449.4,156.6 L450.4,156.8" fill="none" stroke="#4343ff" stroke-width="1.30" stroke-linejoin="round" opacity="1.00" />
<path d="M326.4,51.3 L327.4,51.7 L328.4,52.1 L329.4,52.4 L330.4,52.8 L331.4,53.2 L332.4,53.6 L333.4,54.0 L334.4,54.4 L335.4,54.8 L336.4,55.2 L337.4,55.7 L338.4,56.1 L339.4,56.5 L340.4,57.0 L341.4,57.4 L342.4,57.8 L343.4,58.3 L344.4,58.8 L345.4,59.2 L346.4,59.7 L347.4,60.2 L348.4,60.7 L349.4,61.2 L350.4,61.7 L351.4,62.2 L352.4,62.7 L353.4,63.2 L354.4,63.7 L355.4,64.3 L356.4,64.8 L357.4,65.3 L358.4,65.8 L359.4,66.3 L360.4,66.8 L361.4,67.3 L362.4,67.8 L363.4,68.3 L364.4,68.8 L365.4,69.3 L366.4,69.8 L367.4,70.3 L368.4,70.8 L369.4,71.3 L370.4,71.8 L371.4,72.3 L372.4,72.8 L373.4,73.3 L374.4,73.8 L375.4,74.3 L376.4,74.8 L377.4,75.3 L378.4,75.8 L379.4,76.3 L380.4,76.8 L381.4,77.3 L382.4,77.8 L383.4,78.3 L384.4,78.8 L385.4,79.3 L386.4,79.9 L387.4,80.4 L388.4,81.0 L389.4,81.6 L390.4,82.2 L391.4,82.8 L392.4,83.4 L393.4,84.0 L394.4,84.7 L395.4,85.4 L396.4,86.1 L397.4,86.9 L398.4,87.7 L399.4,88.5 L400.4,89.3 L401.4,90.2 L402.4,91.1 L403.4,92.0 L404.4,93.0 L405.4,94.0 L406.4,95.0 L407.4,96.1 L408.4,97.2 L409.4,98.4 L410.4,99.6 L411.4,100.9 L412.4,102.2 L413.4,103.5 L414.4,104.9 L415.4,106.4 L416.4,108.0 L417.4,109.7 L418.4,111.4 L419.4,113.2 L420.4,115.2 L421.4,117.2 L422.4,119.2 L423.4,121.4 L424.4,123.6 L425.4,125.8 L426.4,128.1 L427.4,130.3 L428.4,132.6 L429.4,134.8 L430.4,136.9 L431.4,138.9 L432.4,140.9 L433.4,142.8 L434.4,144.5 L435.4,146.1 L436.4,147.6 L437.4,148.9 L438.4,150.1 L439.4,151.2 L440.4,152.2 L441.4,153.0 L442.4,153.7 L443.4,154.4 L444.4,154.9 L445.4,155.4 L446.4,155.8 L447.4,156.1 L448.4,156.4 L449.4,156.6 L450.4,156.8" fill="none" stroke="#38a038" stroke-width="1.30" stroke-linejoin="round" opacity="1.00" />
</g>
<text x="425.50" y="47.30" font-size="17.5" textLength="22.90" lengthAdjust="spacingAndGlyphs" fill="#1a1a1a" style='font-family:"Liberation Sans",sans-serif'>(g)</text>
<clipPath id="c30"><rect x="475.40" y="27.70" width="124.20" height="130.90"/></clipPath>
<g clip-path="url(#c30)">
<path d="M475.4,137.3 L476.4,137.3 L477.4,137.3 L478.4,137.3 L479.4,137.3 L480.4,137.3 L481.4,137.3 L482.4,137.3 L483.4,137.3 L484.4,137.3 L485.4,137.3 L486.4,137.3 L487.4,137.3 L488.4,137.3 L489.4,137.3 L490.4,137.3 L491.4,137.3 L492.4,137.3 L493.4,137.3 L494.4,137.3 L495.4,137.3 L496.4,137.3 L497.4,137.3 L498.4,137.3 L499.4,137.3 L500.4,137.3 L501.4,137.3 L502.4,137.3 L503.4,137.3 L504.4,137.3 L505.4,137.3 L506.4,137.3 L507.4,137.3 L508.4,137.3 L509.4,137.3 L510.4,137.3 L511.4,137.3 L512.4,137.3 L513.4,137.3 L514.4,137.3 L515.4,137.3 L516.4,137.3 L517.4,137.3 L518.4,137.3 L519.4,137.3 L520.4,137.4 L521.4,137.4 L522.4,137.4 L523.4,137.4 L524.4,137.4 L525.4,137.4 L526.4,137.4 L527.4,137.4 L528.4,137.4 L529.4,137.4 L530.4,137.5 L531.4,137.5 L532.4,137.5 L533.4,137.5 L534.4,137.5 L535.4,137.5 L536.4,137.5 L537.4,137.5 L538.4,137.5 L539.4,137.5 L540.4,137.5 L541.4,137.5 L542.4,137.4 L543.4,137.3 L544.4,137.2 L545.4,137.0 L546.4,136.7 L547.4,136.3 L548.4,135.9 L549.4,135.5 L550.4,135.0 L551.4,134.5 L552.4,133.9 L553.4,133.2 L554.4,132.4 L555.4,131.4 L556.4,130.0 L557.4,128.2 L558.4,126.3 L559.4,124.4 L560.4,122.4 L561.4,120.3 L562.4,118.2 L563.4,116.2 L564.4,114.3 L565.4,112.6 L566.4,110.9 L567.4,109.5 L568.4,108.2 L569.4,107.1 L570.4,106.1 L571.4,105.4 L572.4,105.0 L573.4,105.0 L574.4,105.5 L575.4,106.3 L576.4,107.4 L577.4,108.7 L578.4,110.4 L579.4,112.4 L580.4,114.7 L581.4,117.2 L582.4,119.7 L583.4,122.5 L584.4,125.4 L585.4,128.5 L586.4,131.7 L587.4,134.8 L588.4,137.7 L589.4,140.5 L590.4,143.0 L591.4,145.5 L592.4,147.9 L593.4,150.4 L594.4,152.9 L595.4,155.5 L595.6,156.1" fill="none" stroke="#38a038" stroke-width="1.25" stroke-dasharray="4.4,3.65" stroke-linejoin="round" opacity="1.00" stroke-dashoffset="1.9"/>
<path d="M475.4,146.2 L476.4,146.2 L477.4,146.1 L478.4,146.1 L479.4,146.1 L480.4,146.0 L481.4,146.0 L482.4,145.9 L483.4,145.9 L484.4,145.8 L485.4,145.8 L486.4,145.7 L487.4,145.7 L488.4,145.6 L489.4,145.6 L490.4,145.5 L491.4,145.4 L492.4,145.4 L493.4,145.3 L494.4,145.3 L495.4,145.2 L496.4,145.1 L497.4,145.1 L498.4,145.0 L499.4,144.9 L500.4,144.8 L501.4,144.8 L502.4,144.7 L503.4,144.6 L504.4,144.5 L505.4,144.5 L506.4,144.4 L507.4,144.3 L508.4,144.2 L509.4,144.1 L510.4,144.1 L511.4,144.0 L512.4,143.9 L513.4,143.8 L514.4,143.7 L515.4,143.6 L516.4,143.5 L517.4,143.4 L518.4,143.3 L519.4,143.2 L520.4,143.1 L521.4,143.0 L522.4,142.9 L523.4,142.8 L524.4,142.7 L525.4,142.6 L526.4,142.4 L527.4,142.3 L528.4,142.2 L529.4,142.1 L530.4,141.9 L531.4,141.8 L532.4,141.7 L533.4,141.5 L534.4,141.4 L535.4,141.2 L536.4,141.1 L537.4,140.9 L538.4,140.8 L539.4,140.6 L540.4,140.5 L541.4,140.3 L542.4,140.1 L543.4,139.9 L544.4,139.7 L545.4,139.5 L546.4,139.3 L547.4,139.0 L548.4,138.8 L549.4,138.6 L550.4,138.3 L551.4,138.1 L552.4,137.8 L553.4,137.4 L554.4,136.9 L555.4,136.1 L556.4,134.9 L557.4,133.3 L558.4,131.5 L559.4,129.7 L560.4,128.0 L561.4,126.2 L562.4,124.3 L563.4,122.2 L564.4,119.8 L565.4,117.2 L566.4,114.8 L567.4,112.6 L568.4,110.7 L569.4,108.9 L570.4,107.2 L571.4,105.8 L572.4,104.7 L573.4,103.8 L574.4,103.1 L575.4,102.5 L576.4,101.9 L577.4,101.5 L578.4,101.2 L579.4,101.3 L580.4,101.9 L581.4,103.2 L582.4,105.1 L583.4,107.9 L584.4,111.5 L585.4,116.0 L586.4,120.9 L587.4,125.9 L588.4,130.7 L589.4,135.0 L590.4,139.0 L591.4,142.7 L592.4,146.1 L593.4,149.4 L594.4,152.6 L595.4,155.8 L595.6,156.5" fill="none" stroke="#ff4d4d" stroke-width="1.25" stroke-dasharray="4.4,3.65" stroke-linejoin="round" opacity="1.00" stroke-dashoffset="1.9"/>
<path d="M475.4,145.0 L476.4,145.0 L477.4,144.9 L478.4,144.9 L479.4,144.9 L480.4,144.8 L481.4,144.8 L482.4,144.7 L483.4,144.7 L484.4,144.6 L485.4,144.6 L486.4,144.5 L487.4,144.5 L488.4,144.4 L489.4,144.4 L490.4,144.3 L491.4,144.2 L492.4,144.2 L493.4,144.1 L494.4,144.1 L495.4,144.0 L496.4,143.9 L497.4,143.9 L498.4,143.8 L499.4,143.7 L500.4,143.6 L501.4,143.6 L502.4,143.5 L503.4,143.4 L504.4,143.3 L505.4,143.3 L506.4,143.2 L507.4,143.1 L508.4,143.0 L509.4,142.9 L510.4,142.9 L511.4,142.8 L512.4,142.7 L513.4,142.6 L514.4,142.5 L515.4,142.4 L516.4,142.3 L517.4,142.2 L518.4,142.1 L519.4,142.0 L520.4,141.9 L521.4,141.8 L522.4,141.7 L523.4,141.6 L524.4,141.5 L525.4,141.4 L526.4,141.2 L527.4,141.1 L528.4,141.0 L529.4,140.9 L530.4,140.7 L531.4,140.6 L532.4,140.5 L533.4,140.3 L534.4,140.2 L535.4,140.0 L536.4,139.9 L537.4,139.7 L538.4,139.6 L539.4,139.4 L540.4,139.3 L541.4,139.1 L542.4,138.9 L543.4,138.7 L544.4,138.5 L545.4,138.3 L546.4,138.1 L547.4,137.8 L548.4,137.6 L549.4,137.4 L550.4,137.1 L551.4,136.9 L552.4,136.6 L553.4,136.2 L554.4,135.7 L555.4,134.9 L556.4,133.7 L557.4,132.1 L558.4,130.3 L559.4,128.5 L560.4,126.8 L561.4,125.0 L562.4,123.1 L563.4,121.0 L564.4,118.6 L565.4,116.0 L566.4,113.6 L567.4,111.4 L568.4,109.5 L569.4,107.8 L570.4,106.2 L571.4,104.8 L572.4,103.7 L573.4,102.8 L574.4,102.0 L575.4,101.4 L576.4,100.8 L577.4,100.3 L578.4,100.1 L579.4,100.1 L580.4,100.7 L581.4,102.1 L582.4,104.1 L583.4,106.9 L584.4,110.6 L585.4,115.2 L586.4,120.3 L587.4,125.4 L588.4,130.2 L589.4,134.5 L590.4,138.5 L591.4,142.2 L592.4,145.7 L593.4,149.1 L594.4,152.3 L595.4,155.5 L595.6,156.3" fill="none" stroke="#4343ff" stroke-width="1.25" stroke-dasharray="4.4,3.65" stroke-linejoin="round" opacity="1.00" stroke-dashoffset="1.9"/>
<path d="M475.4,96.6 L476.4,96.7 L477.4,96.7 L478.4,96.8 L479.4,96.9 L480.4,96.9 L481.4,97.0 L482.4,97.1 L483.4,97.1 L484.4,97.2 L485.4,97.3 L486.4,97.4 L487.4,97.4 L488.4,97.5 L489.4,97.6 L490.4,97.6 L491.4,97.7 L492.4,97.8 L493.4,97.9 L494.4,98.0 L495.4,98.0 L496.4,98.1 L497.4,98.2 L498.4,98.3 L499.4,98.4 L500.4,98.5 L501.4,98.6 L502.4,98.7 L503.4,98.7 L504.4,98.8 L505.4,98.9 L506.4,99.0 L507.4,99.1 L508.4,99.1 L509.4,99.2 L510.4,99.2 L511.4,99.3 L512.4,99.3 L513.4,99.4 L514.4,99.4 L515.4,99.5 L516.4,99.5 L517.4,99.6 L518.4,99.6 L519.4,99.6 L520.4,99.7 L521.4,99.7 L522.4,99.7 L523.4,99.8 L524.4,99.8 L525.4,99.8 L526.4,99.8 L527.4,99.8 L528.4,99.8 L529.4,99.8 L530.4,99.8 L531.4,99.8 L532.4,99.8 L533.4,99.7 L534.4,99.7 L535.4,99.7 L536.4,99.6 L537.4,99.6 L538.4,99.6 L539.4,99.5 L540.4,99.4 L541.4,99.2 L542.4,98.8 L543.4,98.4 L544.4,97.8 L545.4,97.2 L546.4,96.5 L547.4,95.8 L548.4,95.0 L549.4,94.1 L550.4,93.1 L551.4,92.0 L552.4,90.9 L553.4,89.8 L554.4,88.7 L555.4,87.6 L556.4,86.3 L557.4,84.7 L558.4,82.9 L559.4,80.9 L560.4,78.8 L561.4,76.6 L562.4,74.3 L563.4,71.9 L564.4,69.5 L565.4,67.3 L566.4,65.3 L567.4,63.4 L568.4,61.7 L569.4,60.4 L570.4,59.4 L571.4,58.7 L572.4,58.3 L573.4,58.3 L574.4,58.7 L575.4,59.5 L576.4,60.7 L577.4,62.3 L578.4,64.5 L579.4,66.8 L580.4,69.3 L581.4,72.0 L582.4,74.9 L583.4,78.0 L584.4,81.3 L585.4,84.8 L586.4,88.5 L587.4,92.3 L588.4,96.2 L589.4,100.1 L590.4,104.1 L591.4,108.2 L592.4,112.4 L593.4,116.6 L594.4,120.9 L595.4,125.3 L595.6,126.4" fill="none" stroke="#38a038" stroke-width="1.25" stroke-linejoin="round" opacity="1.00" />
<path d="M475.4,96.6 L476.4,96.7 L477.4,96.7 L478.4,96.8 L479.4,96.8 L480.4,96.9 L481.4,96.9 L482.4,97.0 L483.4,97.0 L484.4,97.1 L485.4,97.1 L486.4,97.2 L487.4,97.2 L488.4,97.3 L489.4,97.3 L490.4,97.4 L491.4,97.4 L492.4,97.5 L493.4,97.5 L494.4,97.6 L495.4,97.7 L496.4,97.7 L497.4,97.8 L498.4,97.8 L499.4,97.9 L500.4,98.0 L501.4,98.0 L502.4,98.1 L503.4,98.1 L504.4,98.2 L505.4,98.2 L506.4,98.2 L507.4,98.3 L508.4,98.3 L509.4,98.3 L510.4,98.3 L511.4,98.3 L512.4,98.3 L513.4,98.3 L514.4,98.3 L515.4,98.3 L516.4,98.3 L517.4,98.3 L518.4,98.3 L519.4,98.3 L520.4,98.3 L521.4,98.3 L522.4,98.3 L523.4,98.3 L524.4,98.3 L525.4,98.3 L526.4,98.3 L527.4,98.3 L528.4,98.3 L529.4,98.2 L530.4,98.1 L531.4,97.9 L532.4,97.7 L533.4,97.5 L534.4,97.3 L535.4,97.0 L536.4,96.7 L537.4,96.5 L538.4,96.2 L539.4,95.9 L540.4,95.6 L541.4,95.3 L542.4,94.9 L543.4,94.5 L544.4,94.1 L545.4,93.7 L546.4,93.2 L547.4,92.7 L548.4,92.2 L549.4,91.7 L550.4,91.1 L551.4,90.5 L552.4,89.9 L553.4,89.3 L554.4,88.7 L555.4,88.0 L556.4,87.3 L557.4,86.5 L558.4,85.7 L559.4,84.8 L560.4,83.7 L561.4,82.6 L562.4,81.4 L563.4,80.0 L564.4,78.5 L565.4,76.8 L566.4,74.9 L567.4,72.8 L568.4,70.4 L569.4,67.5 L570.4,64.6 L571.4,61.8 L572.4,59.3 L573.4,57.1 L574.4,55.3 L575.4,53.8 L576.4,52.7 L577.4,52.0 L578.4,51.9 L579.4,52.4 L580.4,53.6 L581.4,55.3 L582.4,57.8 L583.4,61.1 L584.4,65.0 L585.4,69.3 L586.4,74.1 L587.4,79.1 L588.4,84.4 L589.4,89.9 L590.4,95.5 L591.4,101.2 L592.4,106.8 L593.4,112.4 L594.4,117.9 L595.4,123.4" fill="none" stroke="#ff4d4d" stroke-width="1.25" stroke-linejoin="round" opacity="1.00" />
<path d="M475.4,91.4 L476.4,91.5 L477.4,91.5 L478.4,91.6 L479.4,91.6 L480.4,91.7 L481.4,91.8 L482.4,91.8 L483.4,91.9 L484.4,92.0 L485.4,92.1 L486.4,92.1 L487.4,92.2 L488.4,92.3 L489.4,92.4 L490.4,92.4 L491.4,92.5 L492.4,92.6 L493.4,92.7 L494.4,92.8 L495.4,92.9 L496.4,93.0 L497.4,93.0 L498.4,93.1 L499.4,93.3 L500.4,93.4 L501.4,93.5 L502.4,93.6 L503.4,93.7 L504.4,93.8 L505.4,93.9 L506.4,94.0 L507.4,94.1 L508.4,94.2 L509.4,94.3 L510.4,94.3 L511.4,94.4 L512.4,94.5 L513.4,94.6 L514.4,94.7 L515.4,94.9 L516.4,95.0 L517.4,95.1 L518.4,95.2 L519.4,95.3 L520.4,95.4 L521.4,95.4 L522.4,95.5 L523.4,95.6 L524.4,95.6 L525.4,95.7 L526.4,95.7 L527.4,95.7 L528.4,95.7 L529.4,95.6 L530.4,95.6 L531.4,95.5 L532.4,95.4 L533.4,95.3 L534.4,95.1 L535.4,95.0 L536.4,94.8 L537.4,94.7 L538.4,94.5 L539.4,94.3 L540.4,94.1 L541.4,93.9 L542.4,93.6 L543.4,93.4 L544.4,93.1 L545.4,92.7 L546.4,92.4 L547.4,92.0 L548.4,91.5 L549.4,91.1 L550.4,90.5 L551.4,89.9 L552.4,89.3 L553.4,88.7 L554.4,87.9 L555.4,87.2 L556.4,86.4 L557.4,85.5 L558.4,84.6 L559.4,83.5 L560.4,82.4 L561.4,81.1 L562.4,79.8 L563.4,78.3 L564.4,76.6 L565.4,74.8 L566.4,72.8 L567.4,70.5 L568.4,68.0 L569.4,65.1 L570.4,62.0 L571.4,58.9 L572.4,56.0 L573.4,53.2 L574.4,50.8 L575.4,49.0 L576.4,47.7 L577.4,46.9 L578.4,46.8 L579.4,47.4 L580.4,48.7 L581.4,50.9 L582.4,54.2 L583.4,58.1 L584.4,62.7 L585.4,67.8 L586.4,73.2 L587.4,78.7 L588.4,84.1 L589.4,89.6 L590.4,95.0 L591.4,100.3 L592.4,105.7 L593.4,111.1 L594.4,116.7 L595.4,122.4" fill="none" stroke="#4343ff" stroke-width="1.25" stroke-linejoin="round" opacity="1.00" />
</g>
<text x="542.00" y="48.00" font-size="17.5" textLength="15.00" lengthAdjust="spacingAndGlyphs" fill="#1a1a1a" style='font-family:"Liberation Sans",sans-serif'>(j)</text>
<clipPath id="c01"><rect x="28.40" y="161.20" width="124.20" height="131.20"/></clipPath>
<g clip-path="url(#c01)">
<path d="M28.4,218.6 L29.4,218.6 L30.4,218.7 L31.4,218.7 L32.4,218.8 L33.4,218.8 L34.4,218.8 L35.4,218.9 L36.4,218.9 L37.4,219.0 L38.4,219.0 L39.4,219.0 L40.4,219.1 L41.4,219.1 L42.4,219.1 L43.4,219.2 L44.4,219.2 L45.4,219.3 L46.4,219.3 L47.4,219.3 L48.4,219.4 L49.4,219.4 L50.4,219.5 L51.4,219.5 L52.4,219.5 L53.4,219.6 L54.4,219.6 L55.4,219.7 L56.4,219.7 L57.4,219.7 L58.4,219.8 L59.4,219.8 L60.4,219.8 L61.4,219.9 L62.4,219.9 L63.4,219.9 L64.4,220.0 L65.4,220.0 L66.4,220.0 L67.4,220.1 L68.4,220.1 L69.4,220.1 L70.4,220.2 L71.4,220.2 L72.4,220.2 L73.4,220.3 L74.4,220.3 L75.4,220.4 L76.4,220.4 L77.4,220.4 L78.4,220.5 L79.4,220.5 L80.4,220.5 L81.4,220.6 L82.4,220.6 L83.4,220.6 L84.4,220.7 L85.4,220.7 L86.4,220.8 L87.4,220.8 L88.4,220.8 L89.4,220.9 L90.4,220.9 L91.4,221.0 L92.4,221.0 L93.4,221.1 L94.4,221.1 L95.4,221.2 L96.4,221.2 L97.4,221.3 L98.4,221.3 L99.4,221.4 L100.4,221.4 L101.4,221.5 L102.4,221.6 L103.4,221.7 L104.4,221.7 L105.4,221.8 L106.4,221.9 L107.4,222.0 L108.4,222.0 L109.4,222.1 L110.4,222.2 L111.4,222.2 L112.4,222.3 L113.4,222.4 L114.4,222.4 L115.4,222.5 L116.4,222.6 L117.4,222.6 L118.4,222.7 L119.4,222.9 L120.4,223.1 L121.4,223.3 L122.4,223.6 L123.4,224.0 L124.4,224.5 L125.4,225.1 L126.4,225.8 L127.4,226.7 L128.4,227.7 L129.4,228.7 L130.4,229.9 L131.4,231.2 L132.4,232.5 L133.4,234.0 L134.4,235.5 L135.4,237.2 L136.4,238.9 L137.4,240.8 L138.4,242.9 L139.4,245.3 L140.4,247.8 L141.4,250.5 L142.4,253.2 L143.4,255.8 L144.4,258.4 L145.4,261.0 L146.4,263.5 L147.4,265.9 L148.4,268.2 L149.4,270.3 L150.4,272.2 L151.4,273.8 L152.4,275.2 L152.9,275.8" fill="none" stroke="#ff4d4d" stroke-width="1.25" stroke-dasharray="4.1,3.9" stroke-linejoin="round" opacity="1.00" />
<path d="M28.4,213.4 L29.4,213.5 L30.4,213.5 L31.4,213.6 L32.4,213.6 L33.4,213.7 L34.4,213.7 L35.4,213.8 L36.4,213.9 L37.4,213.9 L38.4,214.0 L39.4,214.0 L40.4,214.1 L41.4,214.1 L42.4,214.2 L43.4,214.2 L44.4,214.3 L45.4,214.3 L46.4,214.4 L47.4,214.4 L48.4,214.5 L49.4,214.5 L50.4,214.5 L51.4,214.6 L52.4,214.6 L53.4,214.7 L54.4,214.7 L55.4,214.8 L56.4,214.8 L57.4,214.8 L58.4,214.9 L59.4,214.9 L60.4,215.0 L61.4,215.0 L62.4,215.0 L63.4,215.1 L64.4,215.1 L65.4,215.2 L66.4,215.2 L67.4,215.2 L68.4,215.3 L69.4,215.3 L70.4,215.3 L71.4,215.4 L72.4,215.4 L73.4,215.4 L74.4,215.4 L75.4,215.5 L76.4,215.5 L77.4,215.5 L78.4,215.6 L79.4,215.6 L80.4,215.6 L81.4,215.6 L82.4,215.7 L83.4,215.7 L84.4,215.7 L85.4,215.7 L86.4,215.8 L87.4,215.8 L88.4,215.8 L89.4,215.8 L90.4,215.9 L91.4,215.9 L92.4,215.9 L93.4,215.9 L94.4,215.9 L95.4,216.0 L96.4,216.0 L97.4,216.0 L98.4,216.0 L99.4,216.0 L100.4,215.9 L101.4,215.9 L102.4,215.8 L103.4,215.7 L104.4,215.6 L105.4,215.4 L106.4,215.3 L107.4,215.2 L108.4,215.0 L109.4,214.9 L110.4,214.8 L111.4,214.8 L112.4,214.7 L113.4,214.7 L114.4,214.7 L115.4,214.7 L116.4,214.7 L117.4,214.7 L118.4,214.7 L119.4,214.8 L120.4,214.9 L121.4,215.1 L122.4,215.3 L123.4,215.6 L124.4,216.0 L125.4,216.5 L126.4,217.2 L127.4,218.0 L128.4,218.9 L129.4,220.0 L130.4,221.3 L131.4,222.7 L132.4,224.2 L133.4,225.9 L134.4,227.7 L135.4,229.7 L136.4,232.0 L137.4,234.5 L138.4,237.1 L139.4,239.9 L140.4,242.8 L141.4,245.7 L142.4,248.7 L143.4,251.6 L144.4,254.4 L145.4,257.1 L146.4,259.8 L147.4,262.4 L148.4,264.8 L149.4,267.2 L150.4,269.4 L151.4,271.5 L152.4,273.4 L152.9,274.3" fill="none" stroke="#4343ff" stroke-width="1.25" stroke-dasharray="4.1,3.9" stroke-linejoin="round" opacity="1.00" />
<path d="M28.4,197.0 L29.4,197.1 L30.4,197.2 L31.4,197.2 L32.4,197.3 L33.4,197.4 L34.4,197.5 L35.4,197.6 L36.4,197.6 L37.4,197.7 L38.4,197.8 L39.4,197.9 L40.4,198.0 L41.4,198.1 L42.4,198.2 L43.4,198.2 L44.4,198.3 L45.4,198.4 L46.4,198.5 L47.4,198.6 L48.4,198.7 L49.4,198.8 L50.4,198.9 L51.4,199.0 L52.4,199.1 L53.4,199.1 L54.4,199.2 L55.4,199.3 L56.4,199.4 L57.4,199.6 L58.4,199.7 L59.4,199.8 L60.4,199.9 L61.4,200.0 L62.4,200.1 L63.4,200.2 L64.4,200.4 L65.4,200.5 L66.4,200.6 L67.4,200.7 L68.4,200.8 L69.4,201.0 L70.4,201.1 L71.4,201.2 L72.4,201.3 L73.4,201.4 L74.4,201.5 L75.4,201.6 L76.4,201.6 L77.4,201.7 L78.4,201.8 L79.4,201.9 L80.4,201.9 L81.4,202.0 L82.4,202.0 L83.4,202.1 L84.4,202.1 L85.4,202.2 L86.4,202.2 L87.4,202.2 L88.4,202.3 L89.4,202.3 L90.4,202.2 L91.4,202.2 L92.4,202.1 L93.4,201.9 L94.4,201.8 L95.4,201.6 L96.4,201.3 L97.4,201.1 L98.4,200.8 L99.4,200.5 L100.4,200.2 L101.4,199.9 L102.4,199.6 L103.4,199.2 L104.4,198.8 L105.4,198.3 L106.4,197.8 L107.4,197.3 L108.4,196.8 L109.4,196.2 L110.4,195.7 L111.4,195.2 L112.4,194.8 L113.4,194.5 L114.4,194.1 L115.4,193.9 L116.4,193.8 L117.4,193.8 L118.4,193.9 L119.4,194.3 L120.4,194.9 L121.4,195.7 L122.4,196.8 L123.4,198.2 L124.4,199.8 L125.4,201.6 L126.4,203.7 L127.4,205.8 L128.4,208.0 L129.4,210.3 L130.4,212.6 L131.4,214.8 L132.4,217.0 L133.4,219.1 L134.4,221.2 L135.4,223.4 L136.4,225.7 L137.4,228.2 L138.4,231.0 L139.4,234.0 L140.4,237.1 L141.4,240.2 L142.4,243.4 L143.4,246.5 L144.4,249.5 L145.4,252.4 L146.4,255.2 L147.4,257.9 L148.4,260.4 L149.4,262.9 L150.4,265.3 L151.4,267.6 L152.4,269.8 L152.9,270.9" fill="none" stroke="#38a038" stroke-width="1.25" stroke-dasharray="4.1,3.9" stroke-linejoin="round" opacity="1.00" />
<path d="M28.4,214.1 L29.4,214.1 L30.4,214.2 L31.4,214.2 L32.4,214.2 L33.4,214.3 L34.4,214.3 L35.4,214.3 L36.4,214.4 L37.4,214.4 L38.4,214.4 L39.4,214.5 L40.4,214.5 L41.4,214.5 L42.4,214.6 L43.4,214.6 L44.4,214.7 L45.4,214.7 L46.4,214.7 L47.4,214.8 L48.4,214.8 L49.4,214.8 L50.4,214.9 L51.4,214.9 L52.4,214.9 L53.4,215.0 L54.4,215.0 L55.4,215.0 L56.4,215.1 L57.4,215.1 L58.4,215.2 L59.4,215.2 L60.4,215.2 L61.4,215.3 L62.4,215.3 L63.4,215.3 L64.4,215.3 L65.4,215.4 L66.4,215.4 L67.4,215.4 L68.4,215.5 L69.4,215.5 L70.4,215.5 L71.4,215.6 L72.4,215.6 L73.4,215.6 L74.4,215.7 L75.4,215.7 L76.4,215.7 L77.4,215.8 L78.4,215.8 L79.4,215.8 L80.4,215.9 L81.4,215.9 L82.4,216.0 L83.4,216.0 L84.4,216.0 L85.4,216.1 L86.4,216.1 L87.4,216.2 L88.4,216.2 L89.4,216.2 L90.4,216.3 L91.4,216.3 L92.4,216.4 L93.4,216.4 L94.4,216.5 L95.4,216.6 L96.4,216.6 L97.4,216.7 L98.4,216.7 L99.4,216.8 L100.4,216.9 L101.4,217.0 L102.4,217.1 L103.4,217.2 L104.4,217.3 L105.4,217.4 L106.4,217.5 L107.4,217.6 L108.4,217.7 L109.4,217.8 L110.4,217.9 L111.4,218.0 L112.4,218.1 L113.4,218.2 L114.4,218.3 L115.4,218.3 L116.4,218.4 L117.4,218.5 L118.4,218.6 L119.4,218.8 L120.4,219.0 L121.4,219.3 L122.4,219.7 L123.4,220.1 L124.4,220.6 L125.4,221.3 L126.4,222.1 L127.4,222.9 L128.4,223.9 L129.4,225.1 L130.4,226.3 L131.4,227.7 L132.4,229.2 L133.4,230.8 L134.4,232.5 L135.4,234.4 L136.4,236.6 L137.4,238.9 L138.4,241.4 L139.4,244.1 L140.4,246.8 L141.4,249.6 L142.4,252.4 L143.4,255.2 L144.4,257.9 L145.4,260.5 L146.4,263.1 L147.4,265.5 L148.4,267.9 L149.4,270.0 L150.4,272.0 L151.4,273.6 L152.4,275.0 L152.9,275.6" fill="none" stroke="#ff4d4d" stroke-width="1.25" stroke-linejoin="round" opacity="1.00" />
<path d="M28.4,208.2 L29.4,208.2 L30.4,208.3 L31.4,208.3 L32.4,208.4 L33.4,208.4 L34.4,208.5 L35.4,208.5 L36.4,208.6 L37.4,208.6 L38.4,208.6 L39.4,208.7 L40.4,208.7 L41.4,208.8 L42.4,208.8 L43.4,208.9 L44.4,208.9 L45.4,208.9 L46.4,209.0 L47.4,209.0 L48.4,209.1 L49.4,209.1 L50.4,209.2 L51.4,209.2 L52.4,209.2 L53.4,209.3 L54.4,209.3 L55.4,209.4 L56.4,209.4 L57.4,209.4 L58.4,209.5 L59.4,209.5 L60.4,209.6 L61.4,209.6 L62.4,209.7 L63.4,209.7 L64.4,209.8 L65.4,209.8 L66.4,209.8 L67.4,209.9 L68.4,209.9 L69.4,210.0 L70.4,210.0 L71.4,210.0 L72.4,210.1 L73.4,210.1 L74.4,210.1 L75.4,210.2 L76.4,210.2 L77.4,210.2 L78.4,210.3 L79.4,210.3 L80.4,210.3 L81.4,210.3 L82.4,210.4 L83.4,210.4 L84.4,210.4 L85.4,210.4 L86.4,210.4 L87.4,210.5 L88.4,210.5 L89.4,210.5 L90.4,210.5 L91.4,210.5 L92.4,210.5 L93.4,210.6 L94.4,210.6 L95.4,210.6 L96.4,210.6 L97.4,210.6 L98.4,210.6 L99.4,210.6 L100.4,210.6 L101.4,210.6 L102.4,210.6 L103.4,210.6 L104.4,210.6 L105.4,210.6 L106.4,210.5 L107.4,210.5 L108.4,210.5 L109.4,210.5 L110.4,210.5 L111.4,210.5 L112.4,210.5 L113.4,210.5 L114.4,210.5 L115.4,210.5 L116.4,210.5 L117.4,210.5 L118.4,210.5 L119.4,210.6 L120.4,210.7 L121.4,210.8 L122.4,211.1 L123.4,211.4 L124.4,211.9 L125.4,212.4 L126.4,213.1 L127.4,214.0 L128.4,215.0 L129.4,216.2 L130.4,217.5 L131.4,218.9 L132.4,220.6 L133.4,222.4 L134.4,224.4 L135.4,226.8 L136.4,229.3 L137.4,232.2 L138.4,235.2 L139.4,238.3 L140.4,241.5 L141.4,244.6 L142.4,247.7 L143.4,250.7 L144.4,253.7 L145.4,256.5 L146.4,259.3 L147.4,261.9 L148.4,264.4 L149.4,266.8 L150.4,269.1 L151.4,271.2 L152.4,273.2 L152.9,274.1" fill="none" stroke="#4343ff" stroke-width="1.25" stroke-linejoin="round" opacity="1.00" />
<path d="M28.4,186.5 L29.4,186.6 L30.4,186.7 L31.4,186.8 L32.4,186.9 L33.4,187.0 L34.4,187.1 L35.4,187.1 L36.4,187.2 L37.4,187.3 L38.4,187.4 L39.4,187.5 L40.4,187.6 L41.4,187.7 L42.4,187.8 L43.4,187.9 L44.4,188.0 L45.4,188.0 L46.4,188.1 L47.4,188.2 L48.4,188.3 L49.4,188.4 L50.4,188.5 L51.4,188.6 L52.4,188.7 L53.4,188.7 L54.4,188.8 L55.4,188.9 L56.4,189.0 L57.4,189.1 L58.4,189.2 L59.4,189.3 L60.4,189.4 L61.4,189.5 L62.4,189.6 L63.4,189.7 L64.4,189.8 L65.4,189.9 L66.4,190.0 L67.4,190.1 L68.4,190.2 L69.4,190.3 L70.4,190.4 L71.4,190.4 L72.4,190.5 L73.4,190.6 L74.4,190.7 L75.4,190.7 L76.4,190.8 L77.4,190.9 L78.4,190.9 L79.4,191.0 L80.4,191.0 L81.4,191.1 L82.4,191.1 L83.4,191.1 L84.4,191.2 L85.4,191.2 L86.4,191.2 L87.4,191.3 L88.4,191.3 L89.4,191.3 L90.4,191.2 L91.4,191.2 L92.4,191.1 L93.4,191.0 L94.4,190.9 L95.4,190.8 L96.4,190.6 L97.4,190.5 L98.4,190.3 L99.4,190.1 L100.4,189.9 L101.4,189.7 L102.4,189.6 L103.4,189.4 L104.4,189.2 L105.4,189.0 L106.4,188.8 L107.4,188.6 L108.4,188.4 L109.4,188.2 L110.4,188.0 L111.4,187.8 L112.4,187.7 L113.4,187.5 L114.4,187.4 L115.4,187.3 L116.4,187.3 L117.4,187.4 L118.4,187.6 L119.4,187.9 L120.4,188.4 L121.4,189.0 L122.4,189.9 L123.4,190.9 L124.4,192.2 L125.4,193.7 L126.4,195.5 L127.4,197.6 L128.4,199.8 L129.4,202.2 L130.4,204.8 L131.4,207.5 L132.4,210.3 L133.4,213.2 L134.4,216.2 L135.4,219.3 L136.4,222.4 L137.4,225.7 L138.4,228.9 L139.4,232.2 L140.4,235.5 L141.4,238.8 L142.4,242.1 L143.4,245.3 L144.4,248.4 L145.4,251.4 L146.4,254.3 L147.4,257.0 L148.4,259.6 L149.4,262.1 L150.4,264.5 L151.4,266.8 L152.4,269.1 L152.9,270.2" fill="none" stroke="#38a038" stroke-width="1.25" stroke-linejoin="round" opacity="1.00" />
</g>
<text x="128.50" y="201.00" font-size="17.5" textLength="23.70" lengthAdjust="spacingAndGlyphs" fill="#1a1a1a" style='font-family:"Liberation Sans",sans-serif'>(b)</text>
<clipPath id="c11"><rect x="177.40" y="161.20" width="124.20" height="131.20"/></clipPath>
<g clip-path="url(#c11)">
<path d="M255.9,215.8h0M299.0,255.5h0M189.8,180.6h0M239.8,204.3h0M226.4,212.9h0M203.1,189.4h0M285.8,244.7h0M243.9,209.5h0M252.7,214.8h0M212.8,185.8h0M245.8,212.6h0M267.5,223.2h0M202.3,184.6h0M210.3,183.1h0M217.7,199.8h0M240.7,207.3h0M233.6,198.1h0M238.3,208.2h0M251.4,213.4h0M274.0,232.1h0M267.7,220.1h0M251.9,213.9h0M275.8,225.1h0M224.4,188.2h0M220.9,184.3h0M204.8,184.2h0M266.3,233.3h0M224.0,202.1h0M224.0,195.1h0M256.0,210.3h0M220.5,179.6h0M260.7,220.7h0M252.7,210.0h0M239.8,191.8h0M256.2,227.2h0M255.2,210.2h0M219.2,193.9h0M258.4,219.3h0M205.1,172.7h0M209.8,193.8h0M245.9,207.7h0M198.3,184.9h0M250.4,205.2h0M282.8,234.0h0M282.2,227.9h0M217.0,210.4h0M197.0,198.8h0M210.9,192.0h0M261.3,219.3h0M246.7,212.1h0M244.4,210.5h0M275.7,234.6h0M181.9,174.8h0M286.2,236.5h0M237.5,198.5h0M229.8,197.6h0M266.4,230.4h0M209.1,196.4h0M290.2,250.9h0M252.5,214.2h0" stroke="#ff4d4d" stroke-width="1.80" stroke-linecap="round" opacity="0.85"/>
<path d="M272.2,222.4h0M240.0,198.2h0M223.3,199.7h0M251.4,219.5h0M261.2,216.0h0M243.4,201.3h0M298.1,253.3h0M241.0,199.3h0M232.4,200.0h0M200.7,191.9h0M289.7,249.3h0M237.2,206.3h0M249.3,202.8h0M296.7,254.7h0M283.1,251.8h0M180.5,179.6h0M188.2,175.9h0M248.9,222.9h0M211.3,184.5h0M230.3,194.3h0M181.5,182.1h0M274.2,225.7h0M277.4,230.3h0M220.1,151.8h0M260.8,224.9h0M178.1,180.9h0M222.3,186.7h0M208.5,190.9h0M204.3,180.6h0M225.9,198.1h0M182.8,140.7h0M275.2,229.5h0M214.9,192.8h0M232.4,205.3h0M210.4,182.9h0M225.3,180.1h0M280.0,243.3h0M280.5,236.8h0M275.2,236.2h0M289.1,264.3h0M201.1,183.7h0M298.8,258.1h0M278.5,232.1h0M193.1,180.7h0M271.2,225.8h0M236.6,202.8h0M242.3,206.5h0M179.5,177.4h0M257.0,206.4h0M181.9,175.0h0M259.9,207.1h0M241.2,202.4h0M221.6,193.3h0M263.7,216.9h0M268.6,224.1h0M244.5,206.9h0M246.4,202.5h0M264.4,230.5h0M291.3,252.6h0M256.4,213.2h0M206.7,202.6h0M205.9,177.5h0M292.8,246.1h0M274.8,238.5h0M213.8,193.4h0M262.7,218.0h0M273.1,232.2h0M279.7,237.9h0M267.3,235.0h0M209.3,186.9h0M283.8,246.2h0M261.1,215.9h0M283.8,252.9h0M206.9,185.0h0M278.7,237.8h0M264.9,214.4h0M214.5,168.9h0M270.4,241.2h0M192.4,187.1h0M186.1,188.4h0M275.8,228.5h0M179.2,172.1h0M209.6,181.6h0M183.0,176.8h0M281.0,231.3h0M212.2,209.6h0M266.2,229.8h0M271.7,227.8h0M271.6,238.7h0M202.5,190.3h0M178.7,172.8h0M228.6,189.2h0M223.6,184.4h0M203.9,188.7h0M282.1,230.9h0" stroke="#4343ff" stroke-width="1.80" stroke-linecap="round" opacity="0.85"/>
<path d="M225.8,206.2h0M201.7,198.0h0M286.1,245.3h0M232.5,203.8h0M274.3,243.3h0M266.0,233.9h0M274.9,241.1h0M248.8,219.6h0M257.9,231.8h0M193.4,194.1h0M247.3,223.3h0M254.1,224.5h0M268.1,239.3h0M202.0,200.9h0M224.0,206.2h0M279.0,241.0h0M263.9,235.1h0M193.7,192.7h0M248.0,224.8h0M194.1,201.2h0M249.1,225.4h0M294.9,248.9h0M234.2,217.5h0M225.6,203.9h0M220.3,205.0h0M260.0,224.8h0M236.7,212.7h0M196.3,199.7h0M188.7,198.2h0M299.9,262.9h0M179.3,188.8h0M204.3,201.0h0M182.3,187.6h0M199.4,196.9h0M207.9,198.8h0M200.4,200.8h0M191.3,190.6h0M263.6,230.1h0M220.2,206.4h0M183.0,193.2h0M214.2,199.6h0M178.3,187.1h0M236.7,209.1h0M272.8,239.8h0M254.4,223.8h0M179.0,189.1h0M295.3,257.8h0M200.2,201.7h0M218.3,206.1h0M202.5,196.2h0M210.1,204.0h0M178.6,191.6h0M284.9,245.9h0M221.9,202.4h0M288.4,256.7h0M246.0,221.3h0M192.2,194.5h0M283.0,244.4h0M187.4,195.6h0M185.4,183.6h0M234.6,218.8h0M215.7,202.6h0M220.8,203.5h0M259.7,230.7h0M186.9,195.0h0M286.5,247.2h0M222.1,204.3h0M231.8,214.8h0M264.5,232.3h0M191.3,190.1h0M264.6,229.8h0M193.3,195.4h0M222.3,201.9h0M185.6,195.2h0M194.5,194.8h0M272.9,239.3h0M235.8,214.5h0M223.0,209.1h0M265.4,233.0h0M230.7,211.4h0M224.3,204.4h0M212.4,205.6h0M266.6,232.2h0M221.1,203.2h0M217.1,197.3h0M241.7,216.2h0M228.2,192.8h0M239.9,211.3h0M189.3,195.0h0M219.3,205.3h0M204.8,197.7h0M226.1,208.0h0M210.1,199.0h0M194.4,196.2h0M287.4,246.9h0M188.1,195.9h0M274.1,236.0h0M263.9,232.1h0M249.2,222.4h0M213.4,197.6h0M198.2,205.2h0M196.5,197.3h0M257.0,227.9h0M280.8,245.4h0M272.5,228.5h0M212.5,208.7h0M226.5,203.1h0M187.6,192.5h0M203.5,198.8h0M277.9,233.9h0M184.1,192.4h0M211.0,202.5h0M251.8,228.7h0M299.4,257.1h0M241.4,218.5h0M237.3,210.3h0M200.7,190.8h0M242.9,214.4h0M268.6,233.8h0M264.8,234.0h0" stroke="#38a038" stroke-width="1.80" stroke-linecap="round" opacity="0.85"/>
<path d="M177.4,179.8 L178.4,180.0 L179.4,180.2 L180.4,180.4 L181.4,180.6 L182.4,180.9 L183.4,181.1 L184.4,181.3 L185.4,181.6 L186.4,181.8 L187.4,182.1 L188.4,182.3 L189.4,182.6 L190.4,182.9 L191.4,183.2 L192.4,183.4 L193.4,183.7 L194.4,184.0 L195.4,184.4 L196.4,184.7 L197.4,185.0 L198.4,185.3 L199.4,185.7 L200.4,186.0 L201.4,186.4 L202.4,186.8 L203.4,187.1 L204.4,187.5 L205.4,187.9 L206.4,188.3 L207.4,188.7 L208.4,189.1 L209.4,189.5 L210.4,189.9 L211.4,190.3 L212.4,190.7 L213.4,191.2 L214.4,191.6 L215.4,192.0 L216.4,192.5 L217.4,193.0 L218.4,193.4 L219.4,193.9 L220.4,194.4 L221.4,194.9 L222.4,195.4 L223.4,195.9 L224.4,196.5 L225.4,197.0 L226.4,197.6 L227.4,198.1 L228.4,198.7 L229.4,199.3 L230.4,199.9 L231.4,200.5 L232.4,201.1 L233.4,201.7 L234.4,202.4 L235.4,203.0 L236.4,203.7 L237.4,204.4 L238.4,205.0 L239.4,205.7 L240.4,206.5 L241.4,207.2 L242.4,207.9 L243.4,208.7 L244.4,209.5 L245.4,210.3 L246.4,211.1 L247.4,211.9 L248.4,212.8 L249.4,213.7 L250.4,214.6 L251.4,215.5 L252.4,216.4 L253.4,217.3 L254.4,218.3 L255.4,219.2 L256.4,220.1 L257.4,221.0 L258.4,221.9 L259.4,222.8 L260.4,223.7 L261.4,224.6 L262.4,225.5 L263.4,226.3 L264.4,227.2 L265.4,228.1 L266.4,229.0 L267.4,229.9 L268.4,230.8 L269.4,231.7 L270.4,232.5 L271.4,233.4 L272.4,234.3 L273.4,235.3 L274.4,236.2 L275.4,237.2 L276.4,238.2 L277.4,239.2 L278.4,240.3 L279.4,241.4 L280.4,242.5 L281.4,243.7 L282.4,244.9 L283.4,246.1 L284.4,247.3 L285.4,248.6 L286.4,249.9 L287.4,251.2 L288.4,252.5 L289.4,253.7 L290.4,254.9 L291.4,256.1 L292.4,257.3 L293.4,258.5 L294.4,259.6 L295.4,260.8 L296.4,261.9 L297.4,263.0 L298.4,264.1" fill="none" stroke="#f21818" stroke-width="1.25" stroke-linejoin="round" opacity="1.00" />
<path d="M177.4,179.0 L178.4,179.2 L179.4,179.4 L180.4,179.6 L181.4,179.8 L182.4,180.1 L183.4,180.3 L184.4,180.5 L185.4,180.8 L186.4,181.0 L187.4,181.3 L188.4,181.5 L189.4,181.8 L190.4,182.1 L191.4,182.4 L192.4,182.6 L193.4,182.9 L194.4,183.2 L195.4,183.6 L196.4,183.9 L197.4,184.2 L198.4,184.5 L199.4,184.9 L200.4,185.2 L201.4,185.6 L202.4,186.0 L203.4,186.3 L204.4,186.7 L205.4,187.1 L206.4,187.5 L207.4,187.9 L208.4,188.3 L209.4,188.7 L210.4,189.1 L211.4,189.5 L212.4,189.9 L213.4,190.4 L214.4,190.8 L215.4,191.2 L216.4,191.7 L217.4,192.2 L218.4,192.6 L219.4,193.1 L220.4,193.6 L221.4,194.1 L222.4,194.6 L223.4,195.1 L224.4,195.7 L225.4,196.2 L226.4,196.8 L227.4,197.3 L228.4,197.9 L229.4,198.5 L230.4,199.1 L231.4,199.7 L232.4,200.3 L233.4,200.9 L234.4,201.6 L235.4,202.2 L236.4,202.9 L237.4,203.6 L238.4,204.2 L239.4,204.9 L240.4,205.7 L241.4,206.4 L242.4,207.1 L243.4,207.9 L244.4,208.7 L245.4,209.5 L246.4,210.3 L247.4,211.1 L248.4,212.0 L249.4,212.9 L250.4,213.8 L251.4,214.7 L252.4,215.6 L253.4,216.5 L254.4,217.5 L255.4,218.4 L256.4,219.3 L257.4,220.2 L258.4,221.1 L259.4,222.0 L260.4,222.9 L261.4,223.8 L262.4,224.7 L263.4,225.5 L264.4,226.4 L265.4,227.3 L266.4,228.2 L267.4,229.1 L268.4,230.0 L269.4,230.9 L270.4,231.8 L271.4,232.7 L272.4,233.6 L273.4,234.5 L274.4,235.4 L275.4,236.4 L276.4,237.4 L277.4,238.4 L278.4,239.4 L279.4,240.5 L280.4,241.6 L281.4,242.6 L282.4,243.7 L283.4,244.8 L284.4,245.8 L285.4,246.8 L286.4,247.9 L287.4,248.9 L288.4,249.9 L289.4,251.0 L290.4,252.0 L291.4,253.0 L292.4,254.1 L293.4,255.1 L294.4,256.1 L295.4,257.1 L296.4,258.2 L297.4,259.2 L298.4,260.2" fill="none" stroke="#1a1af0" stroke-width="1.25" stroke-linejoin="round" opacity="1.00" />
<path d="M177.4,188.7 L178.4,189.1 L179.4,189.4 L180.4,189.8 L181.4,190.1 L182.4,190.5 L183.4,190.8 L184.4,191.2 L185.4,191.5 L186.4,191.9 L187.4,192.3 L188.4,192.6 L189.4,193.0 L190.4,193.3 L191.4,193.7 L192.4,194.0 L193.4,194.4 L194.4,194.7 L195.4,195.1 L196.4,195.4 L197.4,195.8 L198.4,196.1 L199.4,196.5 L200.4,196.8 L201.4,197.2 L202.4,197.5 L203.4,197.9 L204.4,198.3 L205.4,198.6 L206.4,199.0 L207.4,199.4 L208.4,199.7 L209.4,200.1 L210.4,200.5 L211.4,200.9 L212.4,201.2 L213.4,201.6 L214.4,202.0 L215.4,202.4 L216.4,202.8 L217.4,203.2 L218.4,203.6 L219.4,204.0 L220.4,204.4 L221.4,204.9 L222.4,205.4 L223.4,205.8 L224.4,206.3 L225.4,206.9 L226.4,207.4 L227.4,208.0 L228.4,208.6 L229.4,209.2 L230.4,209.8 L231.4,210.4 L232.4,211.0 L233.4,211.6 L234.4,212.3 L235.4,212.9 L236.4,213.5 L237.4,214.1 L238.4,214.7 L239.4,215.2 L240.4,215.8 L241.4,216.4 L242.4,217.0 L243.4,217.5 L244.4,218.1 L245.4,218.7 L246.4,219.3 L247.4,219.9 L248.4,220.4 L249.4,221.0 L250.4,221.6 L251.4,222.2 L252.4,222.8 L253.4,223.4 L254.4,224.0 L255.4,224.7 L256.4,225.3 L257.4,225.9 L258.4,226.6 L259.4,227.3 L260.4,228.0 L261.4,228.6 L262.4,229.3 L263.4,230.0 L264.4,230.7 L265.4,231.4 L266.4,232.1 L267.4,232.8 L268.4,233.5 L269.4,234.2 L270.4,234.9 L271.4,235.7 L272.4,236.4 L273.4,237.1 L274.4,237.8 L275.4,238.5 L276.4,239.2 L277.4,239.8 L278.4,240.5 L279.4,241.2 L280.4,241.9 L281.4,242.6 L282.4,243.3 L283.4,244.0 L284.4,244.8 L285.4,245.5 L286.4,246.3 L287.4,247.0 L288.4,247.8 L289.4,248.5 L290.4,249.3 L291.4,250.0 L292.4,250.7 L293.4,251.4 L294.4,252.2 L295.4,252.9 L296.4,253.6 L297.4,254.3 L298.4,255.0" fill="none" stroke="#118011" stroke-width="1.25" stroke-linejoin="round" opacity="1.00" />
</g>
<text x="270.40" y="202.95" font-size="17.5" textLength="23.60" lengthAdjust="spacingAndGlyphs" fill="#1a1a1a" style='font-family:"Liberation Sans",sans-serif'>(e)</text>
<clipPath id="c21"><rect x="326.40" y="161.20" width="124.20" height="131.20"/></clipPath>
<g clip-path="url(#c21)">
<path d="M326.4,212.3 L327.4,212.5 L328.4,212.8 L329.4,213.0 L330.4,213.2 L331.4,213.5 L332.4,213.7 L333.4,214.0 L334.4,214.2 L335.4,214.5 L336.4,214.7 L337.4,215.0 L338.4,215.2 L339.4,215.5 L340.4,215.8 L341.4,216.0 L342.4,216.3 L343.4,216.6 L344.4,216.9 L345.4,217.1 L346.4,217.4 L347.4,217.7 L348.4,218.0 L349.4,218.3 L350.4,218.6 L351.4,218.9 L352.4,219.2 L353.4,219.5 L354.4,219.8 L355.4,220.1 L356.4,220.4 L357.4,220.7 L358.4,221.1 L359.4,221.4 L360.4,221.8 L361.4,222.1 L362.4,222.5 L363.4,222.9 L364.4,223.3 L365.4,223.7 L366.4,224.1 L367.4,224.5 L368.4,224.9 L369.4,225.4 L370.4,225.8 L371.4,226.3 L372.4,226.7 L373.4,227.2 L374.4,227.6 L375.4,228.1 L376.4,228.6 L377.4,229.1 L378.4,229.5 L379.4,230.0 L380.4,230.5 L381.4,231.0 L382.4,231.5 L383.4,232.0 L384.4,232.5 L385.4,233.1 L386.4,233.6 L387.4,234.1 L388.4,234.6 L389.4,235.2 L390.4,235.7 L391.4,236.2 L392.4,236.7 L393.4,237.2 L394.4,237.8 L395.4,238.3 L396.4,238.8 L397.4,239.3 L398.4,239.8 L399.4,240.3 L400.4,240.8 L401.4,241.3 L402.4,241.9 L403.4,242.4 L404.4,242.9 L405.4,243.5 L406.4,244.1 L407.4,244.6 L408.4,245.2 L409.4,245.8 L410.4,246.4 L411.4,247.0 L412.4,247.6 L413.4,248.2 L414.4,248.9 L415.4,249.6 L416.4,250.3 L417.4,251.1 L418.4,251.9 L419.4,252.8 L420.4,253.7 L421.4,254.6 L422.4,255.6 L423.4,256.7 L424.4,257.7 L425.4,258.9 L426.4,260.1 L427.4,261.3 L428.4,262.6 L429.4,263.9 L430.4,265.2 L431.4,266.6 L432.4,268.0 L433.4,269.4 L434.4,270.9 L435.4,272.3 L436.4,273.7 L437.4,275.1 L438.4,276.5 L439.4,277.8 L440.4,279.1 L441.4,280.4 L442.4,281.5 L443.4,282.7 L444.4,283.7 L445.4,284.6 L446.4,285.5 L447.4,286.3" fill="none" stroke="#ff4d4d" stroke-width="1.25" stroke-dasharray="4.1,3.9" stroke-linejoin="round" opacity="1.00" />
<path d="M326.4,207.6 L327.4,207.8 L328.4,208.0 L329.4,208.2 L330.4,208.4 L331.4,208.6 L332.4,208.8 L333.4,209.0 L334.4,209.3 L335.4,209.5 L336.4,209.7 L337.4,209.9 L338.4,210.2 L339.4,210.4 L340.4,210.6 L341.4,210.9 L342.4,211.1 L343.4,211.4 L344.4,211.7 L345.4,211.9 L346.4,212.2 L347.4,212.5 L348.4,212.7 L349.4,213.0 L350.4,213.3 L351.4,213.6 L352.4,213.9 L353.4,214.2 L354.4,214.5 L355.4,214.8 L356.4,215.1 L357.4,215.4 L358.4,215.8 L359.4,216.1 L360.4,216.5 L361.4,216.8 L362.4,217.2 L363.4,217.6 L364.4,218.0 L365.4,218.4 L366.4,218.8 L367.4,219.2 L368.4,219.6 L369.4,220.1 L370.4,220.5 L371.4,221.0 L372.4,221.4 L373.4,221.9 L374.4,222.4 L375.4,222.9 L376.4,223.4 L377.4,223.9 L378.4,224.4 L379.4,224.9 L380.4,225.5 L381.4,226.1 L382.4,226.6 L383.4,227.2 L384.4,227.8 L385.4,228.5 L386.4,229.1 L387.4,229.7 L388.4,230.3 L389.4,230.9 L390.4,231.5 L391.4,232.1 L392.4,232.7 L393.4,233.2 L394.4,233.8 L395.4,234.3 L396.4,234.8 L397.4,235.3 L398.4,235.7 L399.4,236.2 L400.4,236.6 L401.4,237.1 L402.4,237.5 L403.4,237.9 L404.4,238.4 L405.4,238.8 L406.4,239.2 L407.4,239.7 L408.4,240.2 L409.4,240.6 L410.4,241.1 L411.4,241.6 L412.4,242.2 L413.4,242.7 L414.4,243.3 L415.4,244.0 L416.4,244.7 L417.4,245.5 L418.4,246.4 L419.4,247.3 L420.4,248.3 L421.4,249.4 L422.4,250.6 L423.4,251.9 L424.4,253.2 L425.4,254.6 L426.4,256.0 L427.4,257.5 L428.4,259.0 L429.4,260.4 L430.4,261.9 L431.4,263.5 L432.4,265.0 L433.4,266.6 L434.4,268.2 L435.4,269.8 L436.4,271.4 L437.4,272.9 L438.4,274.5 L439.4,276.0 L440.4,277.4 L441.4,278.8 L442.4,280.1 L443.4,281.3 L444.4,282.4 L445.4,283.4 L446.4,284.4 L447.4,285.2" fill="none" stroke="#4343ff" stroke-width="1.25" stroke-dasharray="4.1,3.9" stroke-linejoin="round" opacity="1.00" />
<path d="M326.4,198.3 L327.4,198.6 L328.4,198.9 L329.4,199.2 L330.4,199.4 L331.4,199.7 L332.4,200.0 L333.4,200.3 L334.4,200.6 L335.4,200.9 L336.4,201.3 L337.4,201.6 L338.4,201.9 L339.4,202.2 L340.4,202.6 L341.4,202.9 L342.4,203.3 L343.4,203.6 L344.4,204.0 L345.4,204.3 L346.4,204.7 L347.4,205.1 L348.4,205.4 L349.4,205.8 L350.4,206.2 L351.4,206.6 L352.4,207.0 L353.4,207.4 L354.4,207.8 L355.4,208.2 L356.4,208.6 L357.4,209.0 L358.4,209.5 L359.4,209.9 L360.4,210.3 L361.4,210.7 L362.4,211.1 L363.4,211.6 L364.4,212.0 L365.4,212.4 L366.4,212.9 L367.4,213.3 L368.4,213.7 L369.4,214.2 L370.4,214.6 L371.4,215.1 L372.4,215.6 L373.4,216.0 L374.4,216.5 L375.4,217.0 L376.4,217.6 L377.4,218.1 L378.4,218.7 L379.4,219.3 L380.4,219.9 L381.4,220.5 L382.4,221.2 L383.4,221.9 L384.4,222.6 L385.4,223.4 L386.4,224.1 L387.4,224.9 L388.4,225.6 L389.4,226.4 L390.4,227.1 L391.4,227.8 L392.4,228.5 L393.4,229.2 L394.4,229.8 L395.4,230.4 L396.4,230.9 L397.4,231.4 L398.4,231.9 L399.4,232.3 L400.4,232.7 L401.4,233.0 L402.4,233.3 L403.4,233.6 L404.4,233.8 L405.4,234.1 L406.4,234.3 L407.4,234.6 L408.4,234.9 L409.4,235.2 L410.4,235.5 L411.4,235.9 L412.4,236.3 L413.4,236.7 L414.4,237.2 L415.4,237.8 L416.4,238.4 L417.4,239.1 L418.4,239.9 L419.4,240.8 L420.4,241.9 L421.4,243.1 L422.4,244.4 L423.4,245.9 L424.4,247.5 L425.4,249.2 L426.4,250.9 L427.4,252.6 L428.4,254.4 L429.4,256.1 L430.4,257.9 L431.4,259.6 L432.4,261.4 L433.4,263.1 L434.4,264.8 L435.4,266.5 L436.4,268.2 L437.4,269.8 L438.4,271.4 L439.4,272.9 L440.4,274.4 L441.4,275.8 L442.4,277.2 L443.4,278.5 L444.4,279.8 L445.4,281.0 L446.4,282.1 L447.4,283.2" fill="none" stroke="#38a038" stroke-width="1.25" stroke-dasharray="4.1,3.9" stroke-linejoin="round" opacity="1.00" />
<path d="M326.4,208.8 L327.4,209.0 L328.4,209.2 L329.4,209.3 L330.4,209.5 L331.4,209.7 L332.4,209.9 L333.4,210.1 L334.4,210.3 L335.4,210.5 L336.4,210.7 L337.4,210.9 L338.4,211.1 L339.4,211.4 L340.4,211.6 L341.4,211.8 L342.4,212.1 L343.4,212.3 L344.4,212.6 L345.4,212.8 L346.4,213.1 L347.4,213.3 L348.4,213.6 L349.4,213.9 L350.4,214.2 L351.4,214.4 L352.4,214.7 L353.4,215.0 L354.4,215.4 L355.4,215.7 L356.4,216.0 L357.4,216.3 L358.4,216.7 L359.4,217.0 L360.4,217.4 L361.4,217.8 L362.4,218.1 L363.4,218.5 L364.4,218.9 L365.4,219.4 L366.4,219.8 L367.4,220.2 L368.4,220.7 L369.4,221.1 L370.4,221.6 L371.4,222.1 L372.4,222.6 L373.4,223.0 L374.4,223.5 L375.4,224.0 L376.4,224.5 L377.4,225.0 L378.4,225.5 L379.4,226.0 L380.4,226.6 L381.4,227.1 L382.4,227.6 L383.4,228.1 L384.4,228.7 L385.4,229.2 L386.4,229.8 L387.4,230.3 L388.4,230.9 L389.4,231.4 L390.4,232.0 L391.4,232.6 L392.4,233.1 L393.4,233.7 L394.4,234.3 L395.4,234.9 L396.4,235.4 L397.4,236.0 L398.4,236.6 L399.4,237.2 L400.4,237.8 L401.4,238.5 L402.4,239.1 L403.4,239.7 L404.4,240.4 L405.4,241.1 L406.4,241.7 L407.4,242.4 L408.4,243.1 L409.4,243.9 L410.4,244.6 L411.4,245.3 L412.4,246.1 L413.4,246.8 L414.4,247.5 L415.4,248.3 L416.4,249.1 L417.4,249.9 L418.4,250.7 L419.4,251.5 L420.4,252.4 L421.4,253.4 L422.4,254.4 L423.4,255.5 L424.4,256.6 L425.4,257.8 L426.4,259.1 L427.4,260.4 L428.4,261.7 L429.4,263.1 L430.4,264.5 L431.4,265.9 L432.4,267.4 L433.4,268.8 L434.4,270.3 L435.4,271.8 L436.4,273.2 L437.4,274.6 L438.4,276.0 L439.4,277.4 L440.4,278.7 L441.4,280.0 L442.4,281.2 L443.4,282.3 L444.4,283.3 L445.4,284.3 L446.4,285.2 L447.4,286.0" fill="none" stroke="#ff4d4d" stroke-width="1.25" stroke-linejoin="round" opacity="1.00" />
<path d="M326.4,201.8 L327.4,202.0 L328.4,202.3 L329.4,202.5 L330.4,202.7 L331.4,203.0 L332.4,203.2 L333.4,203.5 L334.4,203.7 L335.4,204.0 L336.4,204.2 L337.4,204.5 L338.4,204.8 L339.4,205.0 L340.4,205.3 L341.4,205.6 L342.4,205.9 L343.4,206.2 L344.4,206.5 L345.4,206.8 L346.4,207.1 L347.4,207.4 L348.4,207.8 L349.4,208.1 L350.4,208.4 L351.4,208.8 L352.4,209.1 L353.4,209.5 L354.4,209.8 L355.4,210.2 L356.4,210.6 L357.4,211.0 L358.4,211.4 L359.4,211.7 L360.4,212.1 L361.4,212.6 L362.4,213.0 L363.4,213.4 L364.4,213.8 L365.4,214.3 L366.4,214.7 L367.4,215.2 L368.4,215.6 L369.4,216.1 L370.4,216.6 L371.4,217.0 L372.4,217.5 L373.4,218.0 L374.4,218.5 L375.4,219.0 L376.4,219.5 L377.4,220.0 L378.4,220.5 L379.4,221.1 L380.4,221.6 L381.4,222.2 L382.4,222.7 L383.4,223.3 L384.4,223.8 L385.4,224.4 L386.4,225.0 L387.4,225.5 L388.4,226.1 L389.4,226.7 L390.4,227.2 L391.4,227.8 L392.4,228.3 L393.4,228.9 L394.4,229.4 L395.4,229.9 L396.4,230.5 L397.4,231.0 L398.4,231.5 L399.4,232.0 L400.4,232.5 L401.4,233.1 L402.4,233.6 L403.4,234.1 L404.4,234.7 L405.4,235.3 L406.4,235.8 L407.4,236.4 L408.4,237.0 L409.4,237.6 L410.4,238.3 L411.4,239.0 L412.4,239.6 L413.4,240.4 L414.4,241.1 L415.4,241.9 L416.4,242.8 L417.4,243.7 L418.4,244.6 L419.4,245.7 L420.4,246.8 L421.4,248.0 L422.4,249.3 L423.4,250.7 L424.4,252.1 L425.4,253.6 L426.4,255.1 L427.4,256.6 L428.4,258.1 L429.4,259.6 L430.4,261.2 L431.4,262.7 L432.4,264.3 L433.4,265.9 L434.4,267.5 L435.4,269.1 L436.4,270.7 L437.4,272.3 L438.4,273.9 L439.4,275.4 L440.4,276.9 L441.4,278.3 L442.4,279.6 L443.4,280.8 L444.4,281.9 L445.4,283.0 L446.4,283.9 L447.4,284.8" fill="none" stroke="#4343ff" stroke-width="1.25" stroke-linejoin="round" opacity="1.00" />
<path d="M326.4,187.9 L327.4,188.4 L328.4,188.9 L329.4,189.4 L330.4,189.9 L331.4,190.4 L332.4,190.9 L333.4,191.4 L334.4,191.9 L335.4,192.4 L336.4,192.9 L337.4,193.4 L338.4,193.9 L339.4,194.5 L340.4,195.0 L341.4,195.5 L342.4,196.0 L343.4,196.6 L344.4,197.1 L345.4,197.7 L346.4,198.2 L347.4,198.7 L348.4,199.3 L349.4,199.8 L350.4,200.4 L351.4,201.0 L352.4,201.5 L353.4,202.1 L354.4,202.6 L355.4,203.2 L356.4,203.7 L357.4,204.3 L358.4,204.8 L359.4,205.4 L360.4,205.9 L361.4,206.4 L362.4,206.9 L363.4,207.5 L364.4,208.0 L365.4,208.5 L366.4,209.0 L367.4,209.5 L368.4,210.0 L369.4,210.4 L370.4,210.9 L371.4,211.4 L372.4,211.9 L373.4,212.4 L374.4,212.9 L375.4,213.4 L376.4,213.9 L377.4,214.4 L378.4,214.9 L379.4,215.5 L380.4,216.0 L381.4,216.5 L382.4,217.0 L383.4,217.6 L384.4,218.1 L385.4,218.7 L386.4,219.2 L387.4,219.7 L388.4,220.3 L389.4,220.8 L390.4,221.3 L391.4,221.8 L392.4,222.3 L393.4,222.9 L394.4,223.3 L395.4,223.8 L396.4,224.3 L397.4,224.8 L398.4,225.2 L399.4,225.7 L400.4,226.1 L401.4,226.6 L402.4,227.0 L403.4,227.4 L404.4,227.9 L405.4,228.3 L406.4,228.8 L407.4,229.2 L408.4,229.7 L409.4,230.2 L410.4,230.8 L411.4,231.4 L412.4,232.0 L413.4,232.8 L414.4,233.6 L415.4,234.6 L416.4,235.6 L417.4,236.7 L418.4,237.9 L419.4,239.2 L420.4,240.6 L421.4,242.1 L422.4,243.6 L423.4,245.2 L424.4,246.8 L425.4,248.5 L426.4,250.2 L427.4,251.9 L428.4,253.6 L429.4,255.4 L430.4,257.1 L431.4,258.9 L432.4,260.6 L433.4,262.3 L434.4,264.0 L435.4,265.7 L436.4,267.4 L437.4,269.0 L438.4,270.6 L439.4,272.1 L440.4,273.6 L441.4,275.1 L442.4,276.4 L443.4,277.7 L444.4,279.0 L445.4,280.2 L446.4,281.4 L447.4,282.5" fill="none" stroke="#38a038" stroke-width="1.25" stroke-linejoin="round" opacity="1.00" />
</g>
<text x="426.90" y="216.70" font-size="17.5" textLength="22.00" lengthAdjust="spacingAndGlyphs" fill="#1a1a1a" style='font-family:"Liberation Sans",sans-serif'>(h)</text>
<clipPath id="c31"><rect x="475.40" y="161.20" width="124.20" height="131.20"/></clipPath>
<g clip-path="url(#c31)">
<path d="M475.4,190.5 L476.4,190.6 L477.4,190.7 L478.4,190.7 L479.4,190.8 L480.4,190.9 L481.4,191.0 L482.4,191.1 L483.4,191.1 L484.4,191.2 L485.4,191.3 L486.4,191.4 L487.4,191.5 L488.4,191.6 L489.4,191.7 L490.4,191.7 L491.4,191.8 L492.4,191.9 L493.4,192.0 L494.4,192.1 L495.4,192.2 L496.4,192.3 L497.4,192.4 L498.4,192.4 L499.4,192.5 L500.4,192.6 L501.4,192.7 L502.4,192.8 L503.4,192.9 L504.4,193.0 L505.4,193.1 L506.4,193.2 L507.4,193.3 L508.4,193.4 L509.4,193.4 L510.4,193.5 L511.4,193.6 L512.4,193.7 L513.4,193.8 L514.4,193.9 L515.4,194.0 L516.4,194.1 L517.4,194.2 L518.4,194.3 L519.4,194.4 L520.4,194.5 L521.4,194.6 L522.4,194.7 L523.4,194.8 L524.4,194.9 L525.4,195.0 L526.4,195.1 L527.4,195.2 L528.4,195.3 L529.4,195.4 L530.4,195.5 L531.4,195.7 L532.4,195.8 L533.4,196.0 L534.4,196.1 L535.4,196.3 L536.4,196.5 L537.4,196.8 L538.4,197.1 L539.4,197.5 L540.4,197.9 L541.4,198.4 L542.4,199.0 L543.4,199.6 L544.4,200.4 L545.4,201.3 L546.4,202.4 L547.4,203.7 L548.4,205.2 L549.4,206.8 L550.4,208.6 L551.4,210.7 L552.4,212.9 L553.4,215.5 L554.4,218.3 L555.4,221.4 L556.4,225.1 L557.4,229.6 L558.4,235.0 L559.4,240.8 L560.4,246.5 L561.4,251.9 L562.4,256.9 L563.4,261.5 L564.4,265.7 L565.4,269.6 L566.4,273.3 L567.4,276.5 L568.4,279.2 L569.4,281.3 L570.4,283.0 L571.4,284.2 L572.4,285.0 L573.4,285.3 L574.4,284.8 L575.4,283.6 L576.4,281.6 L577.4,279.0 L578.4,275.9 L579.4,272.6 L580.4,269.2 L581.4,265.6 L582.4,262.0 L583.4,258.3 L584.4,254.5 L585.4,250.6 L586.4,246.6 L587.4,242.6 L588.4,238.6 L589.4,234.7 L590.4,230.7 L591.4,226.1 L592.4,220.3 L593.4,213.3 L594.4,206.2 L595.4,200.1 L596.4,195.2 L597.4,191.1 L598.4,187.5 L599.4,184.2 L600.4,181.3" fill="none" stroke="#38a038" stroke-width="1.25" stroke-linejoin="round" opacity="1.00" />
<path d="M475.4,178.0 L476.4,178.2 L477.4,178.4 L478.4,178.6 L479.4,178.7 L480.4,178.9 L481.4,179.1 L482.4,179.3 L483.4,179.5 L484.4,179.6 L485.4,179.8 L486.4,180.0 L487.4,180.1 L488.4,180.3 L489.4,180.4 L490.4,180.6 L491.4,180.7 L492.4,180.9 L493.4,181.0 L494.4,181.2 L495.4,181.3 L496.4,181.5 L497.4,181.6 L498.4,181.7 L499.4,181.8 L500.4,182.0 L501.4,182.1 L502.4,182.2 L503.4,182.3 L504.4,182.4 L505.4,182.5 L506.4,182.6 L507.4,182.7 L508.4,182.8 L509.4,182.9 L510.4,183.0 L511.4,183.1 L512.4,183.2 L513.4,183.3 L514.4,183.4 L515.4,183.5 L516.4,183.6 L517.4,183.7 L518.4,183.8 L519.4,183.9 L520.4,184.0 L521.4,184.2 L522.4,184.3 L523.4,184.4 L524.4,184.5 L525.4,184.6 L526.4,184.7 L527.4,184.8 L528.4,184.9 L529.4,185.0 L530.4,185.1 L531.4,185.2 L532.4,185.4 L533.4,185.5 L534.4,185.6 L535.4,185.8 L536.4,186.0 L537.4,186.2 L538.4,186.4 L539.4,186.7 L540.4,187.0 L541.4,187.3 L542.4,187.7 L543.4,188.1 L544.4,188.6 L545.4,189.2 L546.4,189.8 L547.4,190.5 L548.4,191.3 L549.4,192.2 L550.4,193.2 L551.4,194.3 L552.4,195.6 L553.4,197.0 L554.4,198.5 L555.4,200.0 L556.4,201.6 L557.4,203.3 L558.4,205.1 L559.4,207.0 L560.4,209.0 L561.4,211.1 L562.4,213.4 L563.4,216.0 L564.4,218.9 L565.4,222.2 L566.4,225.8 L567.4,229.7 L568.4,233.6 L569.4,237.3 L570.4,241.0 L571.4,244.5 L572.4,248.0 L573.4,251.5 L574.4,255.0 L575.4,258.3 L576.4,261.2 L577.4,263.2 L578.4,264.0 L579.4,263.5 L580.4,261.7 L581.4,258.3 L582.4,254.0 L583.4,249.8 L584.4,245.7 L585.4,241.8 L586.4,237.8 L587.4,233.9 L588.4,229.9 L589.4,225.7 L590.4,221.1 L591.4,215.9 L592.4,210.2 L593.4,204.5 L594.4,199.4 L595.4,195.1 L596.4,191.2 L597.4,187.9 L598.4,184.9 L599.4,182.2 L600.4,179.8" fill="none" stroke="#ff4d4d" stroke-width="1.25" stroke-linejoin="round" opacity="1.00" />
<path d="M475.4,180.9 L476.4,181.0 L477.4,181.1 L478.4,181.2 L479.4,181.3 L480.4,181.4 L481.4,181.5 L482.4,181.6 L483.4,181.7 L484.4,181.8 L485.4,181.9 L486.4,182.0 L487.4,182.1 L488.4,182.2 L489.4,182.3 L490.4,182.4 L491.4,182.5 L492.4,182.6 L493.4,182.7 L494.4,182.8 L495.4,182.9 L496.4,183.0 L497.4,183.1 L498.4,183.1 L499.4,183.2 L500.4,183.3 L501.4,183.4 L502.4,183.5 L503.4,183.6 L504.4,183.6 L505.4,183.7 L506.4,183.8 L507.4,183.9 L508.4,183.9 L509.4,184.0 L510.4,184.1 L511.4,184.1 L512.4,184.2 L513.4,184.3 L514.4,184.4 L515.4,184.4 L516.4,184.5 L517.4,184.6 L518.4,184.7 L519.4,184.8 L520.4,184.8 L521.4,184.9 L522.4,185.0 L523.4,185.1 L524.4,185.1 L525.4,185.2 L526.4,185.3 L527.4,185.3 L528.4,185.4 L529.4,185.5 L530.4,185.6 L531.4,185.7 L532.4,185.8 L533.4,185.9 L534.4,186.0 L535.4,186.1 L536.4,186.3 L537.4,186.5 L538.4,186.7 L539.4,187.0 L540.4,187.3 L541.4,187.7 L542.4,188.1 L543.4,188.5 L544.4,189.0 L545.4,189.6 L546.4,190.2 L547.4,190.9 L548.4,191.7 L549.4,192.6 L550.4,193.7 L551.4,194.8 L552.4,196.1 L553.4,197.5 L554.4,199.0 L555.4,200.5 L556.4,202.2 L557.4,203.9 L558.4,205.7 L559.4,207.6 L560.4,209.7 L561.4,211.8 L562.4,214.2 L563.4,216.9 L564.4,220.3 L565.4,224.4 L566.4,228.6 L567.4,232.7 L568.4,236.8 L569.4,241.1 L570.4,245.5 L571.4,249.9 L572.4,254.5 L573.4,259.0 L574.4,263.4 L575.4,267.7 L576.4,271.5 L577.4,274.4 L578.4,275.7 L579.4,275.2 L580.4,272.9 L581.4,269.0 L582.4,264.5 L583.4,259.9 L584.4,255.4 L585.4,251.0 L586.4,246.6 L587.4,242.1 L588.4,237.5 L589.4,232.9 L590.4,228.1 L591.4,222.4 L592.4,215.6 L593.4,208.4 L594.4,201.8 L595.4,196.4 L596.4,192.0 L597.4,188.4 L598.4,185.2 L599.4,182.6 L600.4,180.3" fill="none" stroke="#4343ff" stroke-width="1.25" stroke-linejoin="round" opacity="1.00" />
</g>
<text x="544.20" y="184.85" font-size="17.5" textLength="20.40" lengthAdjust="spacingAndGlyphs" fill="#1a1a1a" style='font-family:"Liberation Sans",sans-serif'>(k)</text>
<clipPath id="c02"><rect x="28.40" y="295.20" width="124.20" height="131.10"/></clipPath>
<g clip-path="url(#c02)">
<path d="M28.40,421.60 L153.00,421.60" fill="none" stroke="#38a038" stroke-width="1.30" stroke-dasharray="4.2,3" stroke-linejoin="round" opacity="1.00" />
<path d="M28.40,423.80 L153.00,423.80" fill="none" stroke="#ff4d4d" stroke-width="1.30" stroke-dasharray="4.2,3" stroke-linejoin="round" opacity="1.00" />
<path d="M28.40,423.50 L153.00,423.50" fill="none" stroke="#4343ff" stroke-width="1.30" stroke-dasharray="4.2,3" stroke-linejoin="round" opacity="1.00" stroke-dashoffset="2"/>
<path d="M67.5,425.6h0M56.6,424.0h0M51.4,423.5h0M134.8,424.7h0M134.5,426.1h0M41.7,425.0h0M64.6,426.0h0M110.4,425.7h0M115.3,423.6h0M83.0,424.7h0M88.2,424.5h0M120.0,424.7h0M83.0,425.8h0M147.1,425.9h0M67.1,425.3h0M42.8,425.7h0M60.1,424.1h0M35.9,425.4h0M142.4,423.7h0M108.8,424.3h0M53.1,423.5h0M33.5,425.8h0M133.2,424.3h0M74.6,425.4h0M54.7,423.5h0M79.0,424.9h0M49.0,425.4h0M37.8,424.8h0M31.7,424.9h0M30.1,424.8h0M105.0,424.6h0M69.6,424.4h0M60.6,423.9h0M85.5,425.6h0M106.5,424.7h0M58.7,424.8h0M44.8,425.0h0M111.5,423.6h0M63.4,423.5h0M133.1,423.5h0M91.9,426.3h0M149.9,424.4h0M51.3,425.3h0M44.5,423.0h0M48.5,424.3h0M149.1,424.8h0M112.9,424.2h0M102.5,425.7h0M71.1,424.4h0M47.6,424.6h0M31.4,425.7h0M127.6,426.2h0M86.4,425.0h0M150.7,424.3h0M30.9,424.4h0M134.1,425.8h0M49.2,423.7h0M150.4,423.8h0M47.6,423.8h0M56.9,425.6h0M86.1,425.1h0M92.9,423.9h0M49.2,424.0h0M118.1,424.6h0M140.6,424.2h0M38.7,423.7h0M50.3,423.9h0M123.4,424.5h0M36.4,424.1h0M112.5,424.6h0M119.9,424.3h0M139.4,424.0h0M95.5,425.0h0M74.5,425.1h0M40.4,422.8h0M62.0,424.9h0M47.8,424.2h0M92.3,423.7h0M32.2,425.3h0M122.1,424.8h0M150.9,425.1h0M46.9,424.1h0M109.2,426.2h0M139.0,425.1h0M56.4,424.1h0M141.0,426.3h0M118.2,423.9h0M122.1,426.0h0M60.4,424.3h0M115.6,424.0h0M126.6,423.9h0M139.3,423.7h0M98.5,423.8h0M41.1,424.9h0M108.2,424.5h0M78.3,423.1h0M137.2,424.8h0M71.8,423.2h0M103.7,425.1h0M95.7,424.2h0M44.7,424.4h0M119.0,425.7h0M84.9,422.7h0M94.1,426.6h0M81.8,427.4h0M32.6,425.6h0M43.2,425.1h0M91.8,424.0h0M79.9,425.6h0M80.3,424.4h0" stroke="#4343ff" stroke-width="2.60" stroke-linecap="round" opacity="1.00"/>
<path d="M105.6,420.6h0M94.2,419.9h0M150.2,419.9h0M49.4,420.8h0M99.1,419.8h0M39.9,419.9h0M144.4,420.6h0M117.8,418.9h0M125.1,420.7h0M74.1,419.0h0M130.4,420.4h0M36.3,421.0h0M59.7,420.5h0M45.6,420.8h0M61.6,419.6h0M76.7,419.2h0M39.8,421.0h0M111.7,419.9h0M124.6,419.1h0M75.8,419.5h0M111.4,419.3h0M66.8,420.7h0M96.4,420.6h0M43.4,421.4h0M149.1,418.9h0M45.7,420.0h0M87.2,419.9h0M48.1,417.9h0M44.1,419.9h0M100.6,420.6h0M149.1,419.2h0M62.4,418.7h0M125.3,422.3h0M149.6,418.6h0M94.6,421.5h0M33.9,420.3h0M75.3,420.4h0M88.6,419.5h0M74.6,419.0h0M74.7,421.4h0M93.0,421.9h0M35.9,419.2h0M113.7,421.2h0M89.2,420.0h0M41.3,420.8h0" stroke="#38a038" stroke-width="2.40" stroke-linecap="round" opacity="1.00"/>
<path d="M31.1,359.6h0M54.8,362.6h0M115.3,376.9h0M124.2,383.2h0M53.3,369.5h0M98.7,351.4h0M74.8,347.1h0M142.6,402.7h0M80.3,361.5h0M52.3,364.5h0M81.5,340.0h0M141.7,403.4h0M51.0,363.9h0M118.9,361.4h0M55.3,361.4h0M107.7,358.9h0M139.2,393.3h0M119.7,369.2h0M66.9,353.8h0M144.8,405.5h0M137.1,395.0h0M129.5,389.7h0M146.8,404.9h0M87.6,364.7h0M147.6,369.9h0M44.6,364.7h0M101.6,360.9h0M50.5,359.4h0M89.0,360.5h0M35.5,360.0h0M128.4,384.0h0M66.2,349.2h0M107.2,358.7h0M91.6,358.5h0M130.2,385.5h0M34.1,356.1h0M113.2,368.0h0M118.9,366.0h0M47.3,358.8h0M108.5,368.3h0M70.7,364.4h0M68.2,349.4h0M119.4,361.9h0M33.1,367.1h0M80.9,355.3h0M53.1,350.1h0M117.0,359.7h0M99.1,353.7h0M55.9,363.8h0M49.1,358.3h0M64.5,365.6h0M68.5,363.6h0M134.6,389.2h0M51.3,353.8h0M118.3,375.5h0" stroke="#ff4d4d" stroke-width="2.60" stroke-linecap="round" opacity="1.00"/>
<path d="M131.7,401.0h0M43.5,351.6h0M81.8,343.6h0M124.9,379.6h0M115.4,366.0h0M140.8,415.7h0M96.4,353.8h0M148.3,399.2h0M130.2,398.5h0M65.3,338.4h0M142.7,415.7h0M145.7,406.2h0M85.3,359.7h0M43.4,364.0h0M95.9,340.2h0M143.1,396.2h0M117.4,354.9h0M150.1,387.3h0M131.2,391.3h0M65.4,361.9h0M96.0,359.5h0M81.6,341.4h0M61.3,350.7h0M62.0,355.3h0M38.9,349.5h0M124.8,379.7h0M98.8,342.2h0M63.1,354.4h0M136.5,400.2h0M50.7,354.3h0M95.3,371.8h0M107.7,361.5h0M51.7,354.1h0M129.0,405.9h0M147.1,407.8h0M124.5,368.4h0M87.5,338.7h0M128.9,382.6h0M148.7,413.6h0M130.5,390.3h0M47.8,354.7h0M147.9,400.6h0M138.2,401.7h0M94.2,357.2h0M100.3,353.3h0M143.2,402.9h0M37.2,344.9h0M105.7,352.3h0M55.2,351.1h0M100.7,370.5h0M75.1,351.8h0M106.7,347.6h0M116.9,341.0h0M38.9,348.2h0M39.8,346.2h0M92.3,341.6h0M117.6,363.5h0M110.9,323.3h0M30.3,355.2h0M123.7,372.0h0M120.6,378.0h0M73.6,342.0h0M82.3,363.3h0M111.6,371.1h0M70.1,350.6h0" stroke="#4343ff" stroke-width="2.60" stroke-linecap="round" opacity="1.00"/>
<path d="M53.1,318.3h0M29.4,327.4h0M91.6,318.9h0M129.3,400.3h0M121.2,374.4h0M77.4,323.5h0M82.8,322.0h0M85.9,320.9h0M52.5,325.3h0M137.0,402.0h0M98.1,315.9h0M34.5,335.4h0M116.0,355.5h0M59.2,324.1h0M85.1,317.0h0M43.4,316.9h0M145.4,376.6h0M70.8,323.5h0M143.4,404.1h0M74.6,336.7h0M39.2,311.8h0M59.5,289.3h0M85.3,320.4h0M98.3,319.8h0M106.5,298.6h0M65.9,319.0h0M52.7,325.6h0M125.9,380.5h0M121.4,369.6h0M109.9,336.5h0M134.4,398.2h0M95.1,312.8h0M118.2,352.9h0M77.4,325.1h0M62.2,327.4h0M40.6,322.2h0M53.9,323.7h0M63.4,321.7h0M44.0,328.7h0M142.8,405.7h0M131.2,399.3h0M88.2,315.4h0M91.1,325.3h0M102.1,316.3h0M102.3,321.9h0" stroke="#38a038" stroke-width="2.60" stroke-linecap="round" opacity="1.00"/>
<path d="M28.4,359.3 L29.4,359.2 L30.4,359.2 L31.4,359.1 L32.4,359.1 L33.4,359.0 L34.4,358.9 L35.4,358.9 L36.4,358.8 L37.4,358.7 L38.4,358.7 L39.4,358.6 L40.4,358.5 L41.4,358.4 L42.4,358.4 L43.4,358.3 L44.4,358.2 L45.4,358.2 L46.4,358.1 L47.4,358.0 L48.4,357.9 L49.4,357.8 L50.4,357.8 L51.4,357.7 L52.4,357.6 L53.4,357.5 L54.4,357.5 L55.4,357.4 L56.4,357.3 L57.4,357.2 L58.4,357.1 L59.4,357.0 L60.4,357.0 L61.4,356.9 L62.4,356.8 L63.4,356.7 L64.4,356.6 L65.4,356.6 L66.4,356.5 L67.4,356.4 L68.4,356.3 L69.4,356.2 L70.4,356.2 L71.4,356.1 L72.4,356.0 L73.4,355.9 L74.4,355.8 L75.4,355.7 L76.4,355.6 L77.4,355.5 L78.4,355.4 L79.4,355.3 L80.4,355.2 L81.4,355.1 L82.4,354.9 L83.4,354.8 L84.4,354.6 L85.4,354.5 L86.4,354.3 L87.4,354.1 L88.4,353.9 L89.4,353.8 L90.4,353.7 L91.4,353.7 L92.4,353.7 L93.4,353.7 L94.4,353.8 L95.4,353.9 L96.4,353.9 L97.4,354.0 L98.4,354.2 L99.4,354.3 L100.4,354.4 L101.4,354.6 L102.4,354.8 L103.4,355.1 L104.4,355.4 L105.4,355.9 L106.4,356.4 L107.4,357.1 L108.4,357.7 L109.4,358.4 L110.4,359.2 L111.4,359.9 L112.4,360.6 L113.4,361.4 L114.4,362.1 L115.4,363.0 L116.4,364.0 L117.4,365.1 L118.4,366.4 L119.4,368.0 L120.4,369.9 L121.4,372.0 L122.4,374.2 L123.4,376.4 L124.4,378.5 L125.4,380.4 L126.4,382.2 L127.4,383.9 L128.4,385.5 L129.4,387.1 L130.4,388.5 L131.4,389.8 L132.4,391.1 L133.4,392.2 L134.4,393.3 L135.4,394.2 L136.4,395.0 L137.4,395.7 L138.4,396.3 L139.4,396.9 L140.4,397.4 L141.4,397.8 L142.4,398.2 L143.4,398.6 L144.4,399.0 L145.4,399.3 L146.4,399.6 L147.4,399.9 L148.4,400.2 L149.4,400.5 L150.4,400.7 L151.4,400.9 L152.4,401.2 L152.9,401.3" fill="none" stroke="#ff4d4d" stroke-width="1.10" stroke-linejoin="round" opacity="1.00" />
<path d="M28.4,354.9 L29.4,354.8 L30.4,354.8 L31.4,354.7 L32.4,354.6 L33.4,354.5 L34.4,354.5 L35.4,354.4 L36.4,354.3 L37.4,354.2 L38.4,354.2 L39.4,354.1 L40.4,354.0 L41.4,353.9 L42.4,353.9 L43.4,353.8 L44.4,353.7 L45.4,353.6 L46.4,353.6 L47.4,353.5 L48.4,353.4 L49.4,353.3 L50.4,353.3 L51.4,353.2 L52.4,353.1 L53.4,353.0 L54.4,352.9 L55.4,352.9 L56.4,352.8 L57.4,352.7 L58.4,352.6 L59.4,352.5 L60.4,352.5 L61.4,352.4 L62.4,352.3 L63.4,352.2 L64.4,352.1 L65.4,352.0 L66.4,351.9 L67.4,351.8 L68.4,351.7 L69.4,351.5 L70.4,351.4 L71.4,351.3 L72.4,351.2 L73.4,351.1 L74.4,351.0 L75.4,350.9 L76.4,350.8 L77.4,350.8 L78.4,350.7 L79.4,350.6 L80.4,350.6 L81.4,350.5 L82.4,350.5 L83.4,350.4 L84.4,350.4 L85.4,350.4 L86.4,350.4 L87.4,350.4 L88.4,350.4 L89.4,350.4 L90.4,350.5 L91.4,350.5 L92.4,350.6 L93.4,350.7 L94.4,350.9 L95.4,351.1 L96.4,351.3 L97.4,351.6 L98.4,351.9 L99.4,352.2 L100.4,352.5 L101.4,352.9 L102.4,353.3 L103.4,353.8 L104.4,354.3 L105.4,355.0 L106.4,355.6 L107.4,356.4 L108.4,357.1 L109.4,357.9 L110.4,358.8 L111.4,359.7 L112.4,360.7 L113.4,361.8 L114.4,363.0 L115.4,364.2 L116.4,365.6 L117.4,367.0 L118.4,368.6 L119.4,370.4 L120.4,372.2 L121.4,374.1 L122.4,376.2 L123.4,378.2 L124.4,380.3 L125.4,382.3 L126.4,384.3 L127.4,386.2 L128.4,388.0 L129.4,389.7 L130.4,391.2 L131.4,392.6 L132.4,393.9 L133.4,395.1 L134.4,396.1 L135.4,397.1 L136.4,398.0 L137.4,398.9 L138.4,399.6 L139.4,400.3 L140.4,400.9 L141.4,401.4 L142.4,401.9 L143.4,402.3 L144.4,402.6 L145.4,402.9 L146.4,403.2 L147.4,403.4 L148.4,403.5 L149.4,403.7 L150.4,403.8 L151.4,403.9 L152.4,403.9 L152.9,404.0" fill="none" stroke="#4343ff" stroke-width="1.10" stroke-linejoin="round" opacity="1.00" />
<path d="M28.4,328.4 L29.4,328.3 L30.4,328.2 L31.4,328.1 L32.4,327.9 L33.4,327.8 L34.4,327.7 L35.4,327.6 L36.4,327.5 L37.4,327.3 L38.4,327.2 L39.4,327.1 L40.4,327.0 L41.4,326.9 L42.4,326.7 L43.4,326.6 L44.4,326.5 L45.4,326.4 L46.4,326.2 L47.4,326.1 L48.4,326.0 L49.4,325.9 L50.4,325.7 L51.4,325.6 L52.4,325.5 L53.4,325.4 L54.4,325.2 L55.4,325.1 L56.4,325.0 L57.4,324.8 L58.4,324.7 L59.4,324.6 L60.4,324.4 L61.4,324.3 L62.4,324.2 L63.4,324.0 L64.4,323.9 L65.4,323.7 L66.4,323.6 L67.4,323.5 L68.4,323.3 L69.4,323.2 L70.4,323.0 L71.4,322.9 L72.4,322.7 L73.4,322.6 L74.4,322.4 L75.4,322.3 L76.4,322.1 L77.4,322.0 L78.4,321.8 L79.4,321.7 L80.4,321.6 L81.4,321.4 L82.4,321.3 L83.4,321.2 L84.4,321.1 L85.4,320.9 L86.4,320.8 L87.4,320.7 L88.4,320.6 L89.4,320.5 L90.4,320.4 L91.4,320.3 L92.4,320.3 L93.4,320.4 L94.4,320.6 L95.4,320.8 L96.4,321.2 L97.4,321.7 L98.4,322.2 L99.4,323.0 L100.4,323.8 L101.4,324.8 L102.4,325.9 L103.4,327.1 L104.4,328.5 L105.4,330.1 L106.4,331.9 L107.4,333.9 L108.4,336.0 L109.4,338.4 L110.4,340.9 L111.4,343.7 L112.4,346.5 L113.4,349.4 L114.4,352.3 L115.4,355.0 L116.4,357.7 L117.4,360.3 L118.4,362.9 L119.4,365.5 L120.4,368.2 L121.4,371.0 L122.4,373.8 L123.4,376.7 L124.4,379.7 L125.4,382.7 L126.4,385.6 L127.4,388.4 L128.4,391.1 L129.4,393.6 L130.4,395.9 L131.4,398.0 L132.4,399.8 L133.4,401.5 L134.4,402.8 L135.4,404.0 L136.4,404.9 L137.4,405.7 L138.4,406.3 L139.4,406.8 L140.4,407.2 L141.4,407.5 L142.4,407.7 L143.4,407.9 L144.4,408.0 L145.4,408.1 L146.4,408.1 L147.4,408.1 L148.4,408.0 L149.4,407.8 L150.4,407.6 L151.4,407.4 L152.4,407.1 L152.9,407.0" fill="none" stroke="#38a038" stroke-width="1.10" stroke-linejoin="round" opacity="1.00" />
</g>
<text x="125.10" y="316.80" font-size="17.5" textLength="22.60" lengthAdjust="spacingAndGlyphs" fill="#1a1a1a" style='font-family:"Liberation Sans",sans-serif'>(c)</text>
<clipPath id="c12"><rect x="177.40" y="295.20" width="124.20" height="131.10"/></clipPath>
<g clip-path="url(#c12)">
<path d="M177.4,369.6 L178.4,369.5 L179.4,369.5 L180.4,369.4 L181.4,369.4 L182.4,369.3 L183.4,369.3 L184.4,369.2 L185.4,369.1 L186.4,369.1 L187.4,369.0 L188.4,369.0 L189.4,368.9 L190.4,368.8 L191.4,368.8 L192.4,368.7 L193.4,368.7 L194.4,368.6 L195.4,368.6 L196.4,368.5 L197.4,368.4 L198.4,368.4 L199.4,368.3 L200.4,368.3 L201.4,368.2 L202.4,368.2 L203.4,368.1 L204.4,368.0 L205.4,368.0 L206.4,367.9 L207.4,367.9 L208.4,367.8 L209.4,367.8 L210.4,367.7 L211.4,367.6 L212.4,367.6 L213.4,367.5 L214.4,367.5 L215.4,367.4 L216.4,367.4 L217.4,367.3 L218.4,367.2 L219.4,367.2 L220.4,367.1 L221.4,367.1 L222.4,367.0 L223.4,367.0 L224.4,366.9 L225.4,366.9 L226.4,366.8 L227.4,366.8 L228.4,366.7 L229.4,366.7 L230.4,366.6 L231.4,366.6 L232.4,366.6 L233.4,366.5 L234.4,366.5 L235.4,366.4 L236.4,366.4 L237.4,366.4 L238.4,366.3 L239.4,366.3 L240.4,366.2 L241.4,366.2 L242.4,366.2 L243.4,366.2 L244.4,366.1 L245.4,366.1 L246.4,366.1 L247.4,366.2 L248.4,366.2 L249.4,366.3 L250.4,366.4 L251.4,366.5 L252.4,366.7 L253.4,366.9 L254.4,367.2 L255.4,367.5 L256.4,367.8 L257.4,368.2 L258.4,368.6 L259.4,369.0 L260.4,369.5 L261.4,370.1 L262.4,370.7 L263.4,371.4 L264.4,372.1 L265.4,372.9 L266.4,373.8 L267.4,374.8 L268.4,375.9 L269.4,377.0 L270.4,378.3 L271.4,379.7 L272.4,381.1 L273.4,382.6 L274.4,384.2 L275.4,385.7 L276.4,387.3 L277.4,389.0 L278.4,390.6 L279.4,392.1 L280.4,393.6 L281.4,395.1 L282.4,396.4 L283.4,397.7 L284.4,398.8 L285.4,399.7 L286.4,400.6 L287.4,401.2 L288.4,401.7 L289.4,402.1 L290.4,402.2 L291.4,402.3 L292.4,402.1 L293.4,401.9 L294.4,401.5 L295.4,400.9 L296.4,400.2 L297.4,399.4 L298.4,398.6 L298.6,398.3" fill="none" stroke="#ff4d4d" stroke-width="1.25" stroke-linejoin="round" opacity="1.00" />
<path d="M177.4,363.1 L178.4,363.0 L179.4,362.9 L180.4,362.9 L181.4,362.8 L182.4,362.7 L183.4,362.6 L184.4,362.6 L185.4,362.5 L186.4,362.4 L187.4,362.3 L188.4,362.3 L189.4,362.2 L190.4,362.1 L191.4,362.1 L192.4,362.0 L193.4,361.9 L194.4,361.9 L195.4,361.8 L196.4,361.7 L197.4,361.7 L198.4,361.6 L199.4,361.5 L200.4,361.5 L201.4,361.4 L202.4,361.3 L203.4,361.3 L204.4,361.2 L205.4,361.1 L206.4,361.1 L207.4,361.0 L208.4,360.9 L209.4,360.9 L210.4,360.8 L211.4,360.7 L212.4,360.7 L213.4,360.6 L214.4,360.6 L215.4,360.5 L216.4,360.4 L217.4,360.4 L218.4,360.3 L219.4,360.3 L220.4,360.2 L221.4,360.2 L222.4,360.2 L223.4,360.1 L224.4,360.1 L225.4,360.1 L226.4,360.1 L227.4,360.0 L228.4,360.0 L229.4,360.0 L230.4,360.0 L231.4,360.0 L232.4,360.0 L233.4,360.0 L234.4,360.1 L235.4,360.1 L236.4,360.1 L237.4,360.1 L238.4,360.1 L239.4,360.2 L240.4,360.2 L241.4,360.3 L242.4,360.3 L243.4,360.4 L244.4,360.5 L245.4,360.6 L246.4,360.8 L247.4,361.0 L248.4,361.2 L249.4,361.4 L250.4,361.7 L251.4,362.0 L252.4,362.4 L253.4,362.8 L254.4,363.2 L255.4,363.7 L256.4,364.2 L257.4,364.8 L258.4,365.4 L259.4,366.1 L260.4,366.8 L261.4,367.6 L262.4,368.4 L263.4,369.3 L264.4,370.2 L265.4,371.2 L266.4,372.3 L267.4,373.4 L268.4,374.5 L269.4,375.6 L270.4,376.8 L271.4,378.0 L272.4,379.2 L273.4,380.5 L274.4,381.7 L275.4,382.9 L276.4,384.0 L277.4,385.2 L278.4,386.3 L279.4,387.3 L280.4,388.2 L281.4,389.1 L282.4,389.8 L283.4,390.5 L284.4,391.0 L285.4,391.5 L286.4,391.8 L287.4,392.0 L288.4,392.1 L289.4,392.1 L290.4,391.9 L291.4,391.7 L292.4,391.4 L293.4,390.9 L294.4,390.4 L295.4,389.8 L296.4,389.1 L297.4,388.4 L298.4,387.7 L298.6,387.5" fill="none" stroke="#4343ff" stroke-width="1.25" stroke-linejoin="round" opacity="1.00" />
<path d="M177.4,334.9 L178.4,334.7 L179.4,334.6 L180.4,334.4 L181.4,334.3 L182.4,334.1 L183.4,333.9 L184.4,333.8 L185.4,333.6 L186.4,333.5 L187.4,333.3 L188.4,333.2 L189.4,333.0 L190.4,332.9 L191.4,332.7 L192.4,332.6 L193.4,332.4 L194.4,332.3 L195.4,332.1 L196.4,332.0 L197.4,331.9 L198.4,331.7 L199.4,331.6 L200.4,331.4 L201.4,331.3 L202.4,331.2 L203.4,331.0 L204.4,330.9 L205.4,330.7 L206.4,330.6 L207.4,330.4 L208.4,330.3 L209.4,330.1 L210.4,330.0 L211.4,329.8 L212.4,329.7 L213.4,329.6 L214.4,329.4 L215.4,329.3 L216.4,329.2 L217.4,329.0 L218.4,328.9 L219.4,328.8 L220.4,328.7 L221.4,328.6 L222.4,328.5 L223.4,328.5 L224.4,328.4 L225.4,328.4 L226.4,328.3 L227.4,328.3 L228.4,328.3 L229.4,328.2 L230.4,328.2 L231.4,328.2 L232.4,328.2 L233.4,328.2 L234.4,328.3 L235.4,328.3 L236.4,328.3 L237.4,328.3 L238.4,328.4 L239.4,328.5 L240.4,328.6 L241.4,328.8 L242.4,329.1 L243.4,329.4 L244.4,329.7 L245.4,330.2 L246.4,330.8 L247.4,331.4 L248.4,332.1 L249.4,332.9 L250.4,333.8 L251.4,334.8 L252.4,335.9 L253.4,337.1 L254.4,338.4 L255.4,339.8 L256.4,341.4 L257.4,343.1 L258.4,345.0 L259.4,346.9 L260.4,349.0 L261.4,351.2 L262.4,353.6 L263.4,356.0 L264.4,358.5 L265.4,361.1 L266.4,363.8 L267.4,366.4 L268.4,369.1 L269.4,371.8 L270.4,374.4 L271.4,377.0 L272.4,379.5 L273.4,381.9 L274.4,384.2 L275.4,386.4 L276.4,388.5 L277.4,390.4 L278.4,392.2 L279.4,393.9 L280.4,395.4 L281.4,396.8 L282.4,398.1 L283.4,399.3 L284.4,400.4 L285.4,401.3 L286.4,402.2 L287.4,402.9 L288.4,403.6 L289.4,404.2 L290.4,404.7 L291.4,405.1 L292.4,405.5 L293.4,405.8 L294.4,406.0 L295.4,406.1 L296.4,406.1 L297.4,406.1 L298.4,406.0 L298.6,406.0" fill="none" stroke="#38a038" stroke-width="1.25" stroke-linejoin="round" opacity="1.00" />
</g>
<text x="270.70" y="316.80" font-size="17.5" textLength="18.20" lengthAdjust="spacingAndGlyphs" fill="#1a1a1a" style='font-family:"Liberation Sans",sans-serif'>(f)</text>
<clipPath id="c22"><rect x="326.40" y="295.20" width="124.20" height="131.10"/></clipPath>
<g clip-path="url(#c22)">
<path d="M326.4,346.9 L327.4,347.2 L328.4,347.5 L329.4,347.8 L330.4,348.1 L331.4,348.4 L332.4,348.7 L333.4,349.0 L334.4,349.3 L335.4,349.6 L336.4,349.9 L337.4,350.2 L338.4,350.5 L339.4,350.9 L340.4,351.2 L341.4,351.5 L342.4,351.8 L343.4,352.1 L344.4,352.4 L345.4,352.8 L346.4,353.1 L347.4,353.4 L348.4,353.7 L349.4,354.1 L350.4,354.4 L351.4,354.7 L352.4,355.0 L353.4,355.4 L354.4,355.7 L355.4,356.0 L356.4,356.4 L357.4,356.7 L358.4,357.1 L359.4,357.4 L360.4,357.8 L361.4,358.1 L362.4,358.5 L363.4,358.8 L364.4,359.2 L365.4,359.6 L366.4,359.9 L367.4,360.3 L368.4,360.7 L369.4,361.1 L370.4,361.4 L371.4,361.8 L372.4,362.2 L373.4,362.6 L374.4,363.0 L375.4,363.4 L376.4,363.8 L377.4,364.2 L378.4,364.6 L379.4,365.0 L380.4,365.3 L381.4,365.7 L382.4,366.1 L383.4,366.5 L384.4,366.9 L385.4,367.3 L386.4,367.7 L387.4,368.1 L388.4,368.4 L389.4,368.8 L390.4,369.2 L391.4,369.6 L392.4,370.0 L393.4,370.4 L394.4,370.8 L395.4,371.2 L396.4,371.7 L397.4,372.1 L398.4,372.6 L399.4,373.1 L400.4,373.6 L401.4,374.2 L402.4,374.8 L403.4,375.4 L404.4,376.0 L405.4,376.6 L406.4,377.2 L407.4,377.8 L408.4,378.4 L409.4,379.0 L410.4,379.6 L411.4,380.2 L412.4,380.9 L413.4,381.5 L414.4,382.2 L415.4,382.9 L416.4,383.6 L417.4,384.4 L418.4,385.1 L419.4,385.9 L420.4,386.6 L421.4,387.4 L422.4,388.3 L423.4,389.1 L424.4,390.0 L425.4,391.0 L426.4,392.0 L427.4,393.1 L428.4,394.2 L429.4,395.5 L430.4,396.8 L431.4,398.2 L432.4,399.7 L433.4,401.2 L434.4,402.8 L435.4,404.4 L436.4,406.0 L437.4,407.6 L438.4,409.2 L439.4,410.8 L440.4,412.4 L441.4,413.9 L442.4,415.4 L443.4,416.8 L444.4,418.2 L445.4,419.5 L446.4,420.8 L447.4,422.1" fill="none" stroke="#ff4d4d" stroke-width="1.25" stroke-linejoin="round" opacity="1.00" />
<path d="M326.4,338.7 L327.4,339.0 L328.4,339.4 L329.4,339.7 L330.4,340.1 L331.4,340.4 L332.4,340.8 L333.4,341.1 L334.4,341.5 L335.4,341.8 L336.4,342.2 L337.4,342.5 L338.4,342.9 L339.4,343.3 L340.4,343.6 L341.4,344.0 L342.4,344.3 L343.4,344.7 L344.4,345.1 L345.4,345.4 L346.4,345.8 L347.4,346.2 L348.4,346.5 L349.4,346.9 L350.4,347.3 L351.4,347.7 L352.4,348.0 L353.4,348.4 L354.4,348.8 L355.4,349.2 L356.4,349.5 L357.4,349.9 L358.4,350.3 L359.4,350.7 L360.4,351.1 L361.4,351.5 L362.4,351.9 L363.4,352.3 L364.4,352.7 L365.4,353.2 L366.4,353.6 L367.4,354.0 L368.4,354.5 L369.4,354.9 L370.4,355.4 L371.4,355.8 L372.4,356.3 L373.4,356.7 L374.4,357.2 L375.4,357.6 L376.4,358.1 L377.4,358.5 L378.4,359.0 L379.4,359.4 L380.4,359.9 L381.4,360.3 L382.4,360.7 L383.4,361.2 L384.4,361.6 L385.4,362.0 L386.4,362.5 L387.4,362.9 L388.4,363.3 L389.4,363.7 L390.4,364.1 L391.4,364.5 L392.4,364.9 L393.4,365.3 L394.4,365.7 L395.4,366.2 L396.4,366.6 L397.4,367.0 L398.4,367.5 L399.4,368.0 L400.4,368.5 L401.4,369.0 L402.4,369.5 L403.4,370.1 L404.4,370.6 L405.4,371.2 L406.4,371.7 L407.4,372.3 L408.4,372.8 L409.4,373.4 L410.4,374.0 L411.4,374.6 L412.4,375.2 L413.4,375.9 L414.4,376.6 L415.4,377.4 L416.4,378.2 L417.4,379.2 L418.4,380.1 L419.4,381.2 L420.4,382.3 L421.4,383.5 L422.4,384.8 L423.4,386.0 L424.4,387.4 L425.4,388.7 L426.4,390.1 L427.4,391.5 L428.4,393.0 L429.4,394.4 L430.4,395.9 L431.4,397.5 L432.4,399.1 L433.4,400.7 L434.4,402.3 L435.4,403.9 L436.4,405.6 L437.4,407.2 L438.4,408.8 L439.4,410.4 L440.4,412.0 L441.4,413.5 L442.4,414.9 L443.4,416.3 L444.4,417.6 L445.4,418.9 L446.4,420.2 L447.4,421.4" fill="none" stroke="#4343ff" stroke-width="1.25" stroke-linejoin="round" opacity="1.00" />
<path d="M326.4,318.9 L327.4,319.4 L328.4,319.9 L329.4,320.4 L330.4,320.9 L331.4,321.4 L332.4,321.9 L333.4,322.4 L334.4,322.9 L335.4,323.4 L336.4,323.8 L337.4,324.3 L338.4,324.8 L339.4,325.3 L340.4,325.8 L341.4,326.3 L342.4,326.8 L343.4,327.3 L344.4,327.8 L345.4,328.3 L346.4,328.8 L347.4,329.3 L348.4,329.8 L349.4,330.2 L350.4,330.7 L351.4,331.2 L352.4,331.7 L353.4,332.2 L354.4,332.7 L355.4,333.2 L356.4,333.7 L357.4,334.2 L358.4,334.6 L359.4,335.1 L360.4,335.6 L361.4,336.1 L362.4,336.7 L363.4,337.2 L364.4,337.7 L365.4,338.3 L366.4,338.8 L367.4,339.4 L368.4,340.0 L369.4,340.6 L370.4,341.2 L371.4,341.8 L372.4,342.4 L373.4,343.1 L374.4,343.7 L375.4,344.3 L376.4,344.9 L377.4,345.5 L378.4,346.1 L379.4,346.7 L380.4,347.3 L381.4,347.8 L382.4,348.4 L383.4,349.0 L384.4,349.5 L385.4,350.1 L386.4,350.6 L387.4,351.1 L388.4,351.7 L389.4,352.2 L390.4,352.7 L391.4,353.3 L392.4,353.8 L393.4,354.3 L394.4,354.8 L395.4,355.4 L396.4,355.9 L397.4,356.5 L398.4,357.0 L399.4,357.6 L400.4,358.2 L401.4,358.9 L402.4,359.6 L403.4,360.2 L404.4,361.0 L405.4,361.7 L406.4,362.4 L407.4,363.2 L408.4,364.0 L409.4,364.9 L410.4,365.8 L411.4,366.7 L412.4,367.7 L413.4,368.7 L414.4,369.8 L415.4,371.0 L416.4,372.3 L417.4,373.7 L418.4,375.2 L419.4,376.8 L420.4,378.4 L421.4,380.1 L422.4,381.9 L423.4,383.6 L424.4,385.4 L425.4,387.2 L426.4,388.9 L427.4,390.6 L428.4,392.3 L429.4,393.9 L430.4,395.6 L431.4,397.2 L432.4,398.8 L433.4,400.4 L434.4,402.1 L435.4,403.7 L436.4,405.3 L437.4,407.0 L438.4,408.6 L439.4,410.1 L440.4,411.6 L441.4,413.1 L442.4,414.5 L443.4,415.8 L444.4,417.1 L445.4,418.3 L446.4,419.5 L447.4,420.6" fill="none" stroke="#38a038" stroke-width="1.25" stroke-linejoin="round" opacity="1.00" />
</g>
<text x="429.50" y="316.80" font-size="17.5" textLength="13.80" lengthAdjust="spacingAndGlyphs" fill="#1a1a1a" style='font-family:"Liberation Sans",sans-serif'>(i)</text>
<clipPath id="c32"><rect x="475.40" y="295.20" width="124.20" height="131.10"/></clipPath>
<g clip-path="url(#c32)">
<path d="M475.4,410.3 L476.4,410.2 L477.4,410.2 L478.4,410.1 L479.4,410.1 L480.4,410.0 L481.4,410.0 L482.4,409.9 L483.4,409.8 L484.4,409.8 L485.4,409.7 L486.4,409.6 L487.4,409.5 L488.4,409.5 L489.4,409.4 L490.4,409.3 L491.4,409.2 L492.4,409.1 L493.4,409.0 L494.4,409.0 L495.4,408.9 L496.4,408.8 L497.4,408.7 L498.4,408.6 L499.4,408.5 L500.4,408.4 L501.4,408.3 L502.4,408.2 L503.4,408.1 L504.4,408.0 L505.4,407.9 L506.4,407.8 L507.4,407.7 L508.4,407.6 L509.4,407.5 L510.4,407.3 L511.4,407.2 L512.4,407.1 L513.4,407.0 L514.4,406.8 L515.4,406.7 L516.4,406.6 L517.4,406.4 L518.4,406.3 L519.4,406.1 L520.4,405.9 L521.4,405.8 L522.4,405.6 L523.4,405.4 L524.4,405.2 L525.4,405.0 L526.4,404.7 L527.4,404.5 L528.4,404.3 L529.4,404.0 L530.4,403.8 L531.4,403.5 L532.4,403.2 L533.4,403.0 L534.4,402.7 L535.4,402.4 L536.4,402.1 L537.4,401.8 L538.4,401.5 L539.4,401.1 L540.4,400.8 L541.4,400.4 L542.4,400.0 L543.4,399.6 L544.4,399.1 L545.4,398.5 L546.4,397.9 L547.4,397.2 L548.4,396.3 L549.4,395.3 L550.4,394.1 L551.4,392.6 L552.4,390.9 L553.4,388.7 L554.4,386.2 L555.4,383.5 L556.4,380.6 L557.4,377.5 L558.4,374.2 L559.4,370.6 L560.4,367.0 L561.4,363.4 L562.4,359.9 L563.4,356.6 L564.4,353.3 L565.4,350.2 L566.4,347.3 L567.4,344.7 L568.4,342.5 L569.4,340.3 L570.4,338.4 L571.4,336.8 L572.4,335.7 L573.4,335.2 L574.4,335.1 L575.4,335.2 L576.4,335.4 L577.4,335.8 L578.4,336.8 L579.4,338.6 L580.4,340.9 L581.4,343.5 L582.4,346.4 L583.4,349.6 L584.4,353.1 L585.4,356.8 L586.4,360.6 L587.4,364.5 L588.4,368.5 L589.4,372.6 L590.4,376.5 L591.4,380.2 L592.4,383.6 L593.4,386.8 L594.4,389.8 L595.4,392.7" fill="none" stroke="#38a038" stroke-width="1.25" stroke-linejoin="round" opacity="1.00" />
<path d="M475.4,416.2 L476.4,416.1 L477.4,416.0 L478.4,415.9 L479.4,415.8 L480.4,415.8 L481.4,415.7 L482.4,415.6 L483.4,415.5 L484.4,415.4 L485.4,415.3 L486.4,415.2 L487.4,415.1 L488.4,415.0 L489.4,414.9 L490.4,414.8 L491.4,414.8 L492.4,414.7 L493.4,414.6 L494.4,414.5 L495.4,414.4 L496.4,414.3 L497.4,414.2 L498.4,414.1 L499.4,414.0 L500.4,413.9 L501.4,413.8 L502.4,413.7 L503.4,413.6 L504.4,413.6 L505.4,413.5 L506.4,413.4 L507.4,413.3 L508.4,413.2 L509.4,413.1 L510.4,413.0 L511.4,412.9 L512.4,412.8 L513.4,412.7 L514.4,412.6 L515.4,412.5 L516.4,412.4 L517.4,412.3 L518.4,412.2 L519.4,412.1 L520.4,411.9 L521.4,411.8 L522.4,411.7 L523.4,411.5 L524.4,411.4 L525.4,411.2 L526.4,411.0 L527.4,410.9 L528.4,410.7 L529.4,410.5 L530.4,410.3 L531.4,410.1 L532.4,409.9 L533.4,409.7 L534.4,409.5 L535.4,409.3 L536.4,409.1 L537.4,408.9 L538.4,408.8 L539.4,408.6 L540.4,408.4 L541.4,408.2 L542.4,408.0 L543.4,407.8 L544.4,407.5 L545.4,407.3 L546.4,407.0 L547.4,406.7 L548.4,406.4 L549.4,406.0 L550.4,405.5 L551.4,405.0 L552.4,404.2 L553.4,403.1 L554.4,401.8 L555.4,400.1 L556.4,398.2 L557.4,396.2 L558.4,394.1 L559.4,391.9 L560.4,389.4 L561.4,386.7 L562.4,383.7 L563.4,380.6 L564.4,377.3 L565.4,374.1 L566.4,370.8 L567.4,367.5 L568.4,364.1 L569.4,360.8 L570.4,357.6 L571.4,354.4 L572.4,351.1 L573.4,348.0 L574.4,345.4 L575.4,343.4 L576.4,342.2 L577.4,341.5 L578.4,341.3 L579.4,341.8 L580.4,343.0 L581.4,344.8 L582.4,347.0 L583.4,349.4 L584.4,352.1 L585.4,355.3 L586.4,358.7 L587.4,362.2 L588.4,365.9 L589.4,369.7 L590.4,373.7 L591.4,377.8 L592.4,382.1 L593.4,386.6 L594.4,391.3 L595.4,396.0" fill="none" stroke="#ff4d4d" stroke-width="1.25" stroke-linejoin="round" opacity="1.00" />
<path d="M475.4,414.7 L476.4,414.6 L477.4,414.6 L478.4,414.5 L479.4,414.5 L480.4,414.4 L481.4,414.3 L482.4,414.3 L483.4,414.2 L484.4,414.1 L485.4,414.1 L486.4,414.0 L487.4,413.9 L488.4,413.9 L489.4,413.8 L490.4,413.7 L491.4,413.6 L492.4,413.6 L493.4,413.5 L494.4,413.4 L495.4,413.3 L496.4,413.3 L497.4,413.2 L498.4,413.1 L499.4,413.0 L500.4,412.9 L501.4,412.8 L502.4,412.8 L503.4,412.7 L504.4,412.6 L505.4,412.5 L506.4,412.4 L507.4,412.3 L508.4,412.2 L509.4,412.1 L510.4,412.0 L511.4,411.9 L512.4,411.8 L513.4,411.7 L514.4,411.6 L515.4,411.5 L516.4,411.4 L517.4,411.3 L518.4,411.2 L519.4,411.1 L520.4,411.0 L521.4,410.8 L522.4,410.7 L523.4,410.6 L524.4,410.5 L525.4,410.3 L526.4,410.2 L527.4,410.1 L528.4,409.9 L529.4,409.8 L530.4,409.6 L531.4,409.4 L532.4,409.3 L533.4,409.1 L534.4,408.9 L535.4,408.7 L536.4,408.5 L537.4,408.3 L538.4,408.1 L539.4,407.9 L540.4,407.7 L541.4,407.5 L542.4,407.2 L543.4,406.9 L544.4,406.6 L545.4,406.3 L546.4,406.0 L547.4,405.6 L548.4,405.2 L549.4,404.7 L550.4,404.2 L551.4,403.6 L552.4,402.8 L553.4,401.7 L554.4,400.3 L555.4,398.6 L556.4,396.8 L557.4,394.8 L558.4,392.7 L559.4,390.5 L560.4,388.0 L561.4,385.3 L562.4,382.4 L563.4,379.2 L564.4,376.0 L565.4,372.6 L566.4,369.2 L567.4,365.6 L568.4,362.0 L569.4,358.4 L570.4,355.0 L571.4,351.6 L572.4,348.2 L573.4,345.0 L574.4,342.1 L575.4,339.6 L576.4,337.7 L577.4,336.3 L578.4,335.5 L579.4,335.6 L580.4,336.3 L581.4,337.5 L582.4,339.1 L583.4,341.1 L584.4,343.6 L585.4,346.7 L586.4,350.2 L587.4,353.9 L588.4,357.7 L589.4,361.7 L590.4,365.9 L591.4,370.4 L592.4,375.1 L593.4,380.0 L594.4,385.2 L595.4,390.5" fill="none" stroke="#4343ff" stroke-width="1.25" stroke-linejoin="round" opacity="1.00" />
<path d="M475.4,368.9 L476.4,368.7 L477.4,368.4 L478.4,368.2 L479.4,368.0 L480.4,367.8 L481.4,367.5 L482.4,367.3 L483.4,367.1 L484.4,366.8 L485.4,366.6 L486.4,366.4 L487.4,366.2 L488.4,365.9 L489.4,365.7 L490.4,365.5 L491.4,365.3 L492.4,365.1 L493.4,364.8 L494.4,364.6 L495.4,364.4 L496.4,364.2 L497.4,364.0 L498.4,363.7 L499.4,363.5 L500.4,363.3 L501.4,363.1 L502.4,362.9 L503.4,362.6 L504.4,362.4 L505.4,362.2 L506.4,362.0 L507.4,361.8 L508.4,361.6 L509.4,361.3 L510.4,361.1 L511.4,360.9 L512.4,360.7 L513.4,360.5 L514.4,360.3 L515.4,360.1 L516.4,359.9 L517.4,359.7 L518.4,359.5 L519.4,359.3 L520.4,359.2 L521.4,359.0 L522.4,358.8 L523.4,358.7 L524.4,358.5 L525.4,358.4 L526.4,358.2 L527.4,358.1 L528.4,357.9 L529.4,357.7 L530.4,357.6 L531.4,357.4 L532.4,357.2 L533.4,357.0 L534.4,356.8 L535.4,356.6 L536.4,356.4 L537.4,356.1 L538.4,355.9 L539.4,355.6 L540.4,355.3 L541.4,355.0 L542.4,354.7 L543.4,354.4 L544.4,354.1 L545.4,353.8 L546.4,353.5 L547.4,353.1 L548.4,352.8 L549.4,352.4 L550.4,352.1 L551.4,351.8 L552.4,351.4 L553.4,351.0 L554.4,350.7 L555.4,350.3 L556.4,350.0 L557.4,349.6 L558.4,349.2 L559.4,348.8 L560.4,348.4 L561.4,348.0 L562.4,347.6 L563.4,347.2 L564.4,346.8 L565.4,346.4 L566.4,346.0 L567.4,345.5 L568.4,345.1 L569.4,344.7 L570.4,344.2 L571.4,343.8 L572.4,343.3 L573.4,342.9 L574.4,342.4 L575.4,342.0 L576.4,341.5 L577.4,341.0 L578.4,340.6 L579.4,340.1 L580.4,339.5 L581.4,339.0 L582.4,338.3 L583.4,337.7 L584.4,336.9 L585.4,336.1 L586.4,335.1 L587.4,334.0 L588.4,332.8 L589.4,331.4 L590.4,329.8 L591.4,327.9 L592.4,325.8 L593.4,323.3 L594.4,320.4 L595.4,317.2 L595.9,315.5" fill="none" stroke="#ff4d4d" stroke-width="1.20" stroke-dasharray="4.3,3.6" stroke-linejoin="round" opacity="1.00" stroke-dashoffset="2.6"/>
<path d="M475.4,367.5 L476.4,367.3 L477.4,367.0 L478.4,366.8 L479.4,366.6 L480.4,366.4 L481.4,366.1 L482.4,365.9 L483.4,365.7 L484.4,365.4 L485.4,365.2 L486.4,365.0 L487.4,364.8 L488.4,364.5 L489.4,364.3 L490.4,364.1 L491.4,363.9 L492.4,363.7 L493.4,363.4 L494.4,363.2 L495.4,363.0 L496.4,362.8 L497.4,362.6 L498.4,362.3 L499.4,362.1 L500.4,361.9 L501.4,361.7 L502.4,361.5 L503.4,361.2 L504.4,361.0 L505.4,360.8 L506.4,360.6 L507.4,360.4 L508.4,360.2 L509.4,359.9 L510.4,359.7 L511.4,359.5 L512.4,359.3 L513.4,359.1 L514.4,358.9 L515.4,358.7 L516.4,358.5 L517.4,358.3 L518.4,358.1 L519.4,357.9 L520.4,357.8 L521.4,357.6 L522.4,357.4 L523.4,357.3 L524.4,357.1 L525.4,357.0 L526.4,356.8 L527.4,356.7 L528.4,356.5 L529.4,356.3 L530.4,356.2 L531.4,356.0 L532.4,355.8 L533.4,355.6 L534.4,355.4 L535.4,355.2 L536.4,355.0 L537.4,354.7 L538.4,354.5 L539.4,354.2 L540.4,353.9 L541.4,353.6 L542.4,353.3 L543.4,353.0 L544.4,352.7 L545.4,352.4 L546.4,352.1 L547.4,351.7 L548.4,351.4 L549.4,351.0 L550.4,350.7 L551.4,350.4 L552.4,350.0 L553.4,349.6 L554.4,349.3 L555.4,348.9 L556.4,348.6 L557.4,348.2 L558.4,347.8 L559.4,347.4 L560.4,347.0 L561.4,346.6 L562.4,346.2 L563.4,345.8 L564.4,345.4 L565.4,345.0 L566.4,344.6 L567.4,344.1 L568.4,343.7 L569.4,343.3 L570.4,342.8 L571.4,342.4 L572.4,341.9 L573.4,341.5 L574.4,341.0 L575.4,340.6 L576.4,340.1 L577.4,339.6 L578.4,339.2 L579.4,338.7 L580.4,338.1 L581.4,337.6 L582.4,336.9 L583.4,336.3 L584.4,335.5 L585.4,334.7 L586.4,333.7 L587.4,332.6 L588.4,331.4 L589.4,330.0 L590.4,328.4 L591.4,326.5 L592.4,324.4 L593.4,321.9 L594.4,319.0 L595.4,315.8 L595.9,314.1" fill="none" stroke="#38a038" stroke-width="1.20" stroke-dasharray="4.3,3.6" stroke-linejoin="round" opacity="1.00" stroke-dashoffset="2.6"/>
<path d="M475.4,368.2 L476.4,368.0 L477.4,367.7 L478.4,367.5 L479.4,367.3 L480.4,367.1 L481.4,366.8 L482.4,366.6 L483.4,366.4 L484.4,366.1 L485.4,365.9 L486.4,365.7 L487.4,365.5 L488.4,365.2 L489.4,365.0 L490.4,364.8 L491.4,364.6 L492.4,364.4 L493.4,364.1 L494.4,363.9 L495.4,363.7 L496.4,363.5 L497.4,363.3 L498.4,363.0 L499.4,362.8 L500.4,362.6 L501.4,362.4 L502.4,362.2 L503.4,361.9 L504.4,361.7 L505.4,361.5 L506.4,361.3 L507.4,361.1 L508.4,360.9 L509.4,360.6 L510.4,360.4 L511.4,360.2 L512.4,360.0 L513.4,359.8 L514.4,359.6 L515.4,359.4 L516.4,359.2 L517.4,359.0 L518.4,358.8 L519.4,358.6 L520.4,358.5 L521.4,358.3 L522.4,358.1 L523.4,358.0 L524.4,357.8 L525.4,357.7 L526.4,357.5 L527.4,357.4 L528.4,357.2 L529.4,357.0 L530.4,356.9 L531.4,356.7 L532.4,356.5 L533.4,356.3 L534.4,356.1 L535.4,355.9 L536.4,355.7 L537.4,355.4 L538.4,355.2 L539.4,354.9 L540.4,354.6 L541.4,354.3 L542.4,354.0 L543.4,353.7 L544.4,353.4 L545.4,353.1 L546.4,352.8 L547.4,352.4 L548.4,352.1 L549.4,351.7 L550.4,351.4 L551.4,351.1 L552.4,350.7 L553.4,350.3 L554.4,350.0 L555.4,349.6 L556.4,349.3 L557.4,348.9 L558.4,348.5 L559.4,348.1 L560.4,347.7 L561.4,347.3 L562.4,346.9 L563.4,346.5 L564.4,346.1 L565.4,345.7 L566.4,345.3 L567.4,344.8 L568.4,344.4 L569.4,344.0 L570.4,343.5 L571.4,343.1 L572.4,342.6 L573.4,342.2 L574.4,341.7 L575.4,341.3 L576.4,340.8 L577.4,340.3 L578.4,339.9 L579.4,339.4 L580.4,338.8 L581.4,338.3 L582.4,337.6 L583.4,337.0 L584.4,336.2 L585.4,335.4 L586.4,334.4 L587.4,333.3 L588.4,332.1 L589.4,330.7 L590.4,329.1 L591.4,327.2 L592.4,325.1 L593.4,322.6 L594.4,319.7 L595.4,316.5 L595.9,314.8" fill="none" stroke="#1c1cb0" stroke-width="1.20" stroke-dasharray="4.3,3.6" stroke-linejoin="round" opacity="1.00" stroke-dashoffset="2.6"/>
</g>
<text x="543.90" y="315.65" font-size="17.5" textLength="15.00" lengthAdjust="spacingAndGlyphs" fill="#1a1a1a" style='font-family:"Liberation Sans",sans-serif'>(l)</text>
<text x="39.50" y="137.50" font-size="13.00" font-weight="bold" fill="#111" stroke="#111" stroke-width="0.25" textLength="83.50" lengthAdjust="spacingAndGlyphs" style='font-family:"Liberation Serif",serif'><tspan font-style="italic">n</tspan><tspan dy="2.86" font-size="9.36" font-style="italic">e</tspan><tspan dy="-2.86">&#160;(10</tspan><tspan dy="-5.20" font-size="9.10">20</tspan><tspan dy="5.20">/</tspan><tspan font-style="italic">m</tspan><tspan dy="-5.20" font-size="9.10">3</tspan><tspan dy="5.20">)</tspan></text>
<text x="201.70" y="137.50" font-size="13.00" font-weight="bold" fill="#111" stroke="#111" stroke-width="0.25" textLength="52.60" lengthAdjust="spacingAndGlyphs" style='font-family:"Liberation Serif",serif'><tspan font-style="italic">T</tspan><tspan dy="2.86" font-size="9.36" font-style="italic">e</tspan><tspan dy="-2.86">&#160;(</tspan><tspan font-style="italic">keV</tspan><tspan>)</tspan></text>
<text x="364.70" y="52.50" font-size="13.00" font-weight="bold" fill="#111" stroke="#111" stroke-width="0.25" textLength="54.50" lengthAdjust="spacingAndGlyphs" style='font-family:"Liberation Serif",serif'><tspan font-style="italic">p</tspan><tspan dy="2.86" font-size="9.36" font-style="italic">e</tspan><tspan dy="-2.86">&#160;(</tspan><tspan font-style="italic">kPa</tspan><tspan>)</tspan></text>
<text x="486.00" y="51.90" font-size="13.00" font-weight="bold" fill="#111" stroke="#111" stroke-width="0.25" textLength="14.50" lengthAdjust="spacingAndGlyphs" style='font-family:"Liberation Serif",serif'><tspan font-style="italic">j</tspan><tspan dy="2.86" font-size="9.36" font-style="italic">N</tspan></text>
<path d="M504.00,48.00H527.40" stroke="#111" stroke-width="1.70"/>
<text x="484.50" y="72.70" font-size="13.00" font-weight="bold" fill="#111" stroke="#111" stroke-width="0.25" textLength="33.20" lengthAdjust="spacingAndGlyphs" style='font-family:"Liberation Serif",serif'><tspan font-style="italic">j</tspan><tspan dy="2.86" font-size="9.36">BS</tspan><tspan dy="-2.86">/2</tspan></text>
<path d="M524.80,70.10H548.20" stroke="#111" stroke-width="1.70" stroke-dasharray="5.2,3.4"/>
<path d="M34.10,175.60H57.40" stroke="#111" stroke-width="1.70" stroke-dasharray="6,3.5,6,3.5,2,10"/>
<text x="66.10" y="178.40" font-size="13.00" font-weight="bold" fill="#111" stroke="#111" stroke-width="0.25" textLength="84.60" lengthAdjust="spacingAndGlyphs" style='font-family:"Liberation Serif",serif'><tspan font-style="italic">n</tspan><tspan dy="2.86" font-size="9.36" font-style="italic">D</tspan><tspan dy="-2.86">(10</tspan><tspan dy="-5.20" font-size="9.10">20</tspan><tspan dy="5.20">/</tspan><tspan font-style="italic">m</tspan><tspan dy="-5.20" font-size="9.10">3</tspan><tspan dy="5.20">)</tspan></text>
<text x="63.50" y="265.20" font-size="13.00" font-weight="bold" fill="#111" stroke="#111" stroke-width="0.25" textLength="65.90" lengthAdjust="spacingAndGlyphs" style='font-family:"Liberation Serif",serif'><tspan>(10</tspan><tspan dy="-5.20" font-size="9.10">20</tspan><tspan dy="5.20">/</tspan><tspan font-style="italic">m</tspan><tspan dy="-5.20" font-size="9.10">3</tspan><tspan dy="5.20">)</tspan></text>
<path d="M25.00,279.40H48.30" stroke="#111" stroke-width="1.70"/>
<text x="49.30" y="281.50" font-size="13.00" font-weight="bold" fill="#111" stroke="#111" stroke-width="0.25" textLength="102.80" lengthAdjust="spacingAndGlyphs" style='font-family:"Liberation Serif",serif'><tspan font-style="italic">n</tspan><tspan dy="2.86" font-size="9.36" font-style="italic">i</tspan><tspan dy="-2.86">&#160;=&#160;</tspan><tspan font-style="italic">n</tspan><tspan dy="2.86" font-size="9.36" font-style="italic">D</tspan><tspan dy="-2.86">+</tspan><tspan font-style="italic">n</tspan><tspan dy="2.86" font-size="9.36" font-style="italic">C</tspan><tspan dy="-2.86">+</tspan><tspan font-style="italic">n</tspan><tspan dy="2.86" font-size="9.36" font-style="italic">Ne</tspan></text>
<text x="202.40" y="257.60" font-size="13.00" font-weight="bold" fill="#111" stroke="#111" stroke-width="0.25" textLength="51.70" lengthAdjust="spacingAndGlyphs" style='font-family:"Liberation Serif",serif'><tspan font-style="italic">T</tspan><tspan dy="2.86" font-size="9.36" font-style="italic">i</tspan><tspan dy="-2.86">&#160;(</tspan><tspan font-style="italic">keV</tspan><tspan>)</tspan></text>
<path d="M329.30,172.90H352.30" stroke="#111" stroke-width="1.70" stroke-dasharray="5.5,3.5"/>
<text x="352.30" y="177.20" font-size="13.00" font-weight="bold" fill="#111" stroke="#111" stroke-width="0.25" textLength="104.10" lengthAdjust="spacingAndGlyphs" style='font-family:"Liberation Serif",serif'><tspan font-style="italic">p</tspan><tspan dy="2.86" font-size="9.36" font-style="italic">D</tspan><tspan dy="-2.86">&#160;=&#160;</tspan><tspan font-style="italic">n</tspan><tspan dy="2.86" font-size="9.36" font-style="italic">D</tspan><tspan dy="-2.86" font-style="italic">T</tspan><tspan dy="2.86" font-size="9.36" font-style="italic">i</tspan><tspan dy="-2.86">&#160;(</tspan><tspan font-style="italic">kPa</tspan><tspan>)</tspan></text>
<path d="M329.30,190.40H352.30" stroke="#111" stroke-width="1.70"/>
<text x="354.50" y="193.20" font-size="13.00" font-weight="bold" fill="#111" stroke="#111" stroke-width="0.25" textLength="98.20" lengthAdjust="spacingAndGlyphs" style='font-family:"Liberation Serif",serif'><tspan font-style="italic">p</tspan><tspan dy="2.86" font-size="9.36" font-style="italic">i</tspan><tspan dy="-2.86">&#160;=&#160;</tspan><tspan font-style="italic">n</tspan><tspan dy="2.86" font-size="9.36" font-style="italic">i</tspan><tspan dy="-2.86" font-style="italic">T</tspan><tspan dy="2.86" font-size="9.36" font-style="italic">i</tspan><tspan dy="-2.86">&#160;(</tspan><tspan font-style="italic">kPa</tspan><tspan>)</tspan></text>
<text x="478.50" y="242.00" font-size="13.00" font-weight="bold" fill="#111" stroke="#111" stroke-width="0.25" textLength="16.20" lengthAdjust="spacingAndGlyphs" style='font-family:"Liberation Serif",serif'><tspan font-style="italic">dp</tspan></text>
<path d="M477.70,249.40H495.40" stroke="#111" stroke-width="1.30"/>
<text x="477.70" y="262.80" font-size="13.00" font-weight="bold" fill="#111" stroke="#111" stroke-width="0.25" textLength="17.70" lengthAdjust="spacingAndGlyphs" style='font-family:"Liberation Serif",serif'><tspan font-style="italic">dR</tspan></text>
<text x="498.3" y="254.8" font-size="14" fill="#111" style='font-family:"Liberation Serif",serif'>(</text>
<text x="506.20" y="242.00" font-size="13.00" font-weight="bold" fill="#111" stroke="#111" stroke-width="0.25" textLength="49.40" lengthAdjust="spacingAndGlyphs" style='font-family:"Liberation Serif",serif'><tspan>100</tspan><tspan font-style="italic">kPa</tspan></text>
<path d="M503.90,249.40H556.40" stroke="#111" stroke-width="1.30"/>
<text x="524.00" y="262.80" font-size="13.00" font-weight="bold" fill="#111" stroke="#111" stroke-width="0.25" textLength="13.10" lengthAdjust="spacingAndGlyphs" style='font-family:"Liberation Serif",serif'><tspan font-style="italic">m</tspan></text>
<text x="556.8" y="254.8" font-size="14" fill="#111" style='font-family:"Liberation Serif",serif'>)</text>
<path d="M38.10,306.60H61.70" stroke="#111" stroke-width="1.70"/>
<text x="69.80" y="312.20" font-size="13.00" font-weight="bold" fill="#111" stroke="#111" stroke-width="0.25" textLength="45.40" lengthAdjust="spacingAndGlyphs" style='font-family:"Liberation Serif",serif'><tspan>6</tspan><tspan font-style="italic">n</tspan><tspan dy="2.86" font-size="9.36" font-style="italic">C</tspan><tspan dy="-2.86">/</tspan><tspan font-style="italic">n</tspan><tspan dy="2.86" font-size="9.36" font-style="italic">e</tspan></text>
<path d="M37.30,393.60H60.00" stroke="#111" stroke-width="1.70" stroke-dasharray="6,3.5,6,3.5,2,10"/>
<text x="62.50" y="399.20" font-size="13.00" font-weight="bold" fill="#111" stroke="#111" stroke-width="0.25" textLength="60.00" lengthAdjust="spacingAndGlyphs" style='font-family:"Liberation Serif",serif'><tspan>10</tspan><tspan font-style="italic">n</tspan><tspan dy="2.86" font-size="9.36" font-style="italic">Ne</tspan><tspan dy="-2.86">/</tspan><tspan font-style="italic">n</tspan><tspan dy="2.86" font-size="9.36" font-style="italic">e</tspan></text>
<text x="205.50" y="394.90" font-size="13.50" font-weight="bold" fill="#111" stroke="#111" stroke-width="0.25" textLength="9.00" lengthAdjust="spacingAndGlyphs" style='font-family:"Liberation Serif",serif'><tspan font-style="italic">Z</tspan></text>
<text x="214.30" y="397.60" font-size="9.50" font-weight="bold" fill="#111" stroke="#111" stroke-width="0.15" textLength="16.20" lengthAdjust="spacingAndGlyphs" style='font-family:"Liberation Serif",serif'><tspan font-style="italic">eff</tspan></text>
<text x="339.90" y="395.20" font-size="13.00" font-weight="bold" fill="#111" stroke="#111" stroke-width="0.25" textLength="62.70" lengthAdjust="spacingAndGlyphs" style='font-family:"Liberation Serif",serif'><tspan font-style="italic">p</tspan><tspan dy="2.86" font-size="9.36" font-style="italic">tot</tspan><tspan dy="-2.86">&#160;(</tspan><tspan font-style="italic">kPa</tspan><tspan>)</tspan></text>
<text x="487.80" y="317.60" font-size="15.50" font-weight="normal" fill="#111" textLength="9.70" lengthAdjust="spacingAndGlyphs" style='font-family:"Liberation Serif",serif'><tspan font-style="italic" font-weight="normal">α</tspan></text>
<path d="M501.40,313.00H524.80" stroke="#111" stroke-width="1.70"/>
<text x="487.10" y="332.50" font-size="15.50" font-weight="normal" fill="#111" textLength="9.10" lengthAdjust="spacingAndGlyphs" style='font-family:"Liberation Serif",serif'><tspan font-style="italic" font-weight="normal">q</tspan></text>
<path d="M501.40,328.30H524.80" stroke="#111" stroke-width="1.70" stroke-dasharray="5.2,3.4"/>
<rect x="28.40" y="158.9" width="124.20" height="2.1" fill="#8c8c8c"/>
<rect x="177.40" y="158.9" width="124.20" height="2.1" fill="#8c8c8c"/>
<rect x="326.40" y="158.9" width="124.20" height="2.1" fill="#8c8c8c"/>
<rect x="475.40" y="158.9" width="124.20" height="2.1" fill="#8c8c8c"/>
<rect x="28.40" y="27.70" width="124.20" height="130.75" fill="none" stroke="#1a1a1a" stroke-width="1.2"/>
<path d="M36.50,159.05v-3.60M36.50,27.10v3.60M74.50,159.05v-3.60M74.50,27.10v3.60M112.50,159.05v-3.60M112.50,27.10v3.60M149.50,159.05v-3.60M149.50,27.10v3.60M27.80,158.70h3.2M153.20,158.70h-3.2M27.80,131.00h3.2M153.20,131.00h-3.2M27.80,103.30h3.2M153.20,103.30h-3.2M27.80,75.60h3.2M153.20,75.60h-3.2M27.80,47.90h3.2M153.20,47.90h-3.2" stroke="#1a1a1a" stroke-width="1.3" fill="none"/>
<path d="M44.05,159.05v-2.00M44.05,27.10v2.00M51.60,159.05v-2.00M51.60,27.10v2.00M59.15,159.05v-2.00M59.15,27.10v2.00M66.70,159.05v-2.00M66.70,27.10v2.00M81.80,159.05v-2.00M81.80,27.10v2.00M89.35,159.05v-2.00M89.35,27.10v2.00M96.90,159.05v-2.00M96.90,27.10v2.00M104.45,159.05v-2.00M104.45,27.10v2.00M119.55,159.05v-2.00M119.55,27.10v2.00M127.10,159.05v-2.00M127.10,27.10v2.00M134.65,159.05v-2.00M134.65,27.10v2.00M142.20,159.05v-2.00M142.20,27.10v2.00" stroke="#1a1a1a" stroke-width="1.0" fill="none"/>
<text x="25.00" y="162.80" font-size="13.00" text-anchor="end" fill="#1a1a1a" style='font-family:"Liberation Sans",sans-serif' stroke="#1a1a1a" stroke-width="0.2">0.0</text>
<text x="25.00" y="135.10" font-size="13.00" text-anchor="end" fill="#1a1a1a" style='font-family:"Liberation Sans",sans-serif' stroke="#1a1a1a" stroke-width="0.2">0.2</text>
<text x="25.00" y="107.40" font-size="13.00" text-anchor="end" fill="#1a1a1a" style='font-family:"Liberation Sans",sans-serif' stroke="#1a1a1a" stroke-width="0.2">0.4</text>
<text x="25.00" y="79.70" font-size="13.00" text-anchor="end" fill="#1a1a1a" style='font-family:"Liberation Sans",sans-serif' stroke="#1a1a1a" stroke-width="0.2">0.6</text>
<text x="25.00" y="52.00" font-size="13.00" text-anchor="end" fill="#1a1a1a" style='font-family:"Liberation Sans",sans-serif' stroke="#1a1a1a" stroke-width="0.2">0.8</text>
<rect x="28.40" y="161.35" width="124.20" height="130.90" fill="none" stroke="#1a1a1a" stroke-width="1.2"/>
<path d="M36.50,292.85v-3.60M36.50,160.75v3.60M74.50,292.85v-3.60M74.50,160.75v3.60M112.50,292.85v-3.60M112.50,160.75v3.60M149.50,292.85v-3.60M149.50,160.75v3.60M27.80,291.20h3.2M153.20,291.20h-3.2M27.80,269.48h3.2M153.20,269.48h-3.2M27.80,247.76h3.2M153.20,247.76h-3.2M27.80,226.04h3.2M153.20,226.04h-3.2M27.80,204.32h3.2M153.20,204.32h-3.2M27.80,182.60h3.2M153.20,182.60h-3.2" stroke="#1a1a1a" stroke-width="1.3" fill="none"/>
<path d="M44.05,292.85v-2.00M44.05,160.75v2.00M51.60,292.85v-2.00M51.60,160.75v2.00M59.15,292.85v-2.00M59.15,160.75v2.00M66.70,292.85v-2.00M66.70,160.75v2.00M81.80,292.85v-2.00M81.80,160.75v2.00M89.35,292.85v-2.00M89.35,160.75v2.00M96.90,292.85v-2.00M96.90,160.75v2.00M104.45,292.85v-2.00M104.45,160.75v2.00M119.55,292.85v-2.00M119.55,160.75v2.00M127.10,292.85v-2.00M127.10,160.75v2.00M134.65,292.85v-2.00M134.65,160.75v2.00M142.20,292.85v-2.00M142.20,160.75v2.00" stroke="#1a1a1a" stroke-width="1.0" fill="none"/>
<text x="25.00" y="295.30" font-size="13.00" text-anchor="end" fill="#1a1a1a" style='font-family:"Liberation Sans",sans-serif' stroke="#1a1a1a" stroke-width="0.2">0.0</text>
<text x="25.00" y="273.58" font-size="13.00" text-anchor="end" fill="#1a1a1a" style='font-family:"Liberation Sans",sans-serif' stroke="#1a1a1a" stroke-width="0.2">0.1</text>
<text x="25.00" y="251.86" font-size="13.00" text-anchor="end" fill="#1a1a1a" style='font-family:"Liberation Sans",sans-serif' stroke="#1a1a1a" stroke-width="0.2">0.2</text>
<text x="25.00" y="230.14" font-size="13.00" text-anchor="end" fill="#1a1a1a" style='font-family:"Liberation Sans",sans-serif' stroke="#1a1a1a" stroke-width="0.2">0.3</text>
<text x="25.00" y="208.42" font-size="13.00" text-anchor="end" fill="#1a1a1a" style='font-family:"Liberation Sans",sans-serif' stroke="#1a1a1a" stroke-width="0.2">0.4</text>
<text x="25.00" y="186.70" font-size="13.00" text-anchor="end" fill="#1a1a1a" style='font-family:"Liberation Sans",sans-serif' stroke="#1a1a1a" stroke-width="0.2">0.5</text>
<rect x="28.40" y="295.00" width="124.20" height="131.30" fill="none" stroke="#1a1a1a" stroke-width="1.2"/>
<path d="M36.50,426.90v-3.60M36.50,294.40v3.60M74.50,426.90v-3.60M74.50,294.40v3.60M112.50,426.90v-3.60M112.50,294.40v3.60M149.50,426.90v-3.60M149.50,294.40v3.60M27.80,425.60h3.2M153.20,425.60h-3.2M27.80,399.60h3.2M153.20,399.60h-3.2M27.80,373.60h3.2M153.20,373.60h-3.2M27.80,347.60h3.2M153.20,347.60h-3.2M27.80,321.60h3.2M153.20,321.60h-3.2" stroke="#1a1a1a" stroke-width="1.3" fill="none"/>
<path d="M44.05,426.90v-2.00M44.05,294.40v2.00M51.60,426.90v-2.00M51.60,294.40v2.00M59.15,426.90v-2.00M59.15,294.40v2.00M66.70,426.90v-2.00M66.70,294.40v2.00M81.80,426.90v-2.00M81.80,294.40v2.00M89.35,426.90v-2.00M89.35,294.40v2.00M96.90,426.90v-2.00M96.90,294.40v2.00M104.45,426.90v-2.00M104.45,294.40v2.00M119.55,426.90v-2.00M119.55,294.40v2.00M127.10,426.90v-2.00M127.10,294.40v2.00M134.65,426.90v-2.00M134.65,294.40v2.00M142.20,426.90v-2.00M142.20,294.40v2.00" stroke="#1a1a1a" stroke-width="1.0" fill="none"/>
<text x="25.00" y="429.70" font-size="13.00" text-anchor="end" fill="#1a1a1a" style='font-family:"Liberation Sans",sans-serif' stroke="#1a1a1a" stroke-width="0.2">0.0</text>
<text x="25.00" y="403.70" font-size="13.00" text-anchor="end" fill="#1a1a1a" style='font-family:"Liberation Sans",sans-serif' stroke="#1a1a1a" stroke-width="0.2">0.1</text>
<text x="25.00" y="377.70" font-size="13.00" text-anchor="end" fill="#1a1a1a" style='font-family:"Liberation Sans",sans-serif' stroke="#1a1a1a" stroke-width="0.2">0.2</text>
<text x="25.00" y="351.70" font-size="13.00" text-anchor="end" fill="#1a1a1a" style='font-family:"Liberation Sans",sans-serif' stroke="#1a1a1a" stroke-width="0.2">0.3</text>
<text x="25.00" y="325.70" font-size="13.00" text-anchor="end" fill="#1a1a1a" style='font-family:"Liberation Sans",sans-serif' stroke="#1a1a1a" stroke-width="0.2">0.4</text>
<text x="37.60" y="438.30" font-size="13.00" text-anchor="middle" fill="#1a1a1a" style='font-family:"Liberation Sans",sans-serif' stroke="#1a1a1a" stroke-width="0.2">0.85</text>
<text x="75.35" y="438.30" font-size="13.00" text-anchor="middle" fill="#1a1a1a" style='font-family:"Liberation Sans",sans-serif' stroke="#1a1a1a" stroke-width="0.2">0.90</text>
<text x="113.10" y="438.30" font-size="13.00" text-anchor="middle" fill="#1a1a1a" style='font-family:"Liberation Sans",sans-serif' stroke="#1a1a1a" stroke-width="0.2">0.95</text>
<text x="150.85" y="438.30" font-size="13.00" text-anchor="middle" fill="#1a1a1a" style='font-family:"Liberation Sans",sans-serif' stroke="#1a1a1a" stroke-width="0.2">1.00</text>
<text x="83.00" y="453.6" font-size="14.5" fill="#4a4a4a" style='font-family:"Liberation Serif",serif' font-style="italic">ψ<tspan font-size="9" dx="0.3" dy="1.8">N</tspan></text>
<rect x="177.40" y="27.70" width="124.20" height="130.75" fill="none" stroke="#1a1a1a" stroke-width="1.2"/>
<path d="M185.00,159.05v-3.60M185.00,27.10v3.60M222.75,159.05v-3.60M222.75,27.10v3.60M260.50,159.05v-3.60M260.50,27.10v3.60M298.25,159.05v-3.60M298.25,27.10v3.60M176.80,159.20h3.2M302.20,159.20h-3.2M176.80,125.70h3.2M302.20,125.70h-3.2M176.80,92.20h3.2M302.20,92.20h-3.2M176.80,58.70h3.2M302.20,58.70h-3.2" stroke="#1a1a1a" stroke-width="1.3" fill="none"/>
<path d="M192.55,159.05v-2.00M192.55,27.10v2.00M200.10,159.05v-2.00M200.10,27.10v2.00M207.65,159.05v-2.00M207.65,27.10v2.00M215.20,159.05v-2.00M215.20,27.10v2.00M230.30,159.05v-2.00M230.30,27.10v2.00M237.85,159.05v-2.00M237.85,27.10v2.00M245.40,159.05v-2.00M245.40,27.10v2.00M252.95,159.05v-2.00M252.95,27.10v2.00M268.05,159.05v-2.00M268.05,27.10v2.00M275.60,159.05v-2.00M275.60,27.10v2.00M283.15,159.05v-2.00M283.15,27.10v2.00M290.70,159.05v-2.00M290.70,27.10v2.00" stroke="#1a1a1a" stroke-width="1.0" fill="none"/>
<text x="174.00" y="163.30" font-size="13.00" text-anchor="end" fill="#1a1a1a" style='font-family:"Liberation Sans",sans-serif' stroke="#1a1a1a" stroke-width="0.2">0.0</text>
<text x="174.00" y="129.80" font-size="13.00" text-anchor="end" fill="#1a1a1a" style='font-family:"Liberation Sans",sans-serif' stroke="#1a1a1a" stroke-width="0.2">0.3</text>
<text x="174.00" y="96.30" font-size="13.00" text-anchor="end" fill="#1a1a1a" style='font-family:"Liberation Sans",sans-serif' stroke="#1a1a1a" stroke-width="0.2">0.6</text>
<text x="174.00" y="62.80" font-size="13.00" text-anchor="end" fill="#1a1a1a" style='font-family:"Liberation Sans",sans-serif' stroke="#1a1a1a" stroke-width="0.2">0.9</text>
<rect x="177.40" y="161.35" width="124.20" height="130.90" fill="none" stroke="#1a1a1a" stroke-width="1.2"/>
<path d="M185.00,292.85v-3.60M185.00,160.75v3.60M222.75,292.85v-3.60M222.75,160.75v3.60M260.50,292.85v-3.60M260.50,160.75v3.60M298.25,292.85v-3.60M298.25,160.75v3.60M176.80,290.30h3.2M302.20,290.30h-3.2M176.80,264.50h3.2M302.20,264.50h-3.2M176.80,238.70h3.2M302.20,238.70h-3.2M176.80,212.90h3.2M302.20,212.90h-3.2M176.80,187.10h3.2M302.20,187.10h-3.2" stroke="#1a1a1a" stroke-width="1.3" fill="none"/>
<path d="M192.55,292.85v-2.00M192.55,160.75v2.00M200.10,292.85v-2.00M200.10,160.75v2.00M207.65,292.85v-2.00M207.65,160.75v2.00M215.20,292.85v-2.00M215.20,160.75v2.00M230.30,292.85v-2.00M230.30,160.75v2.00M237.85,292.85v-2.00M237.85,160.75v2.00M245.40,292.85v-2.00M245.40,160.75v2.00M252.95,292.85v-2.00M252.95,160.75v2.00M268.05,292.85v-2.00M268.05,160.75v2.00M275.60,292.85v-2.00M275.60,160.75v2.00M283.15,292.85v-2.00M283.15,160.75v2.00M290.70,292.85v-2.00M290.70,160.75v2.00" stroke="#1a1a1a" stroke-width="1.0" fill="none"/>
<text x="174.00" y="294.40" font-size="13.00" text-anchor="end" fill="#1a1a1a" style='font-family:"Liberation Sans",sans-serif' stroke="#1a1a1a" stroke-width="0.2">0.0</text>
<text x="174.00" y="268.60" font-size="13.00" text-anchor="end" fill="#1a1a1a" style='font-family:"Liberation Sans",sans-serif' stroke="#1a1a1a" stroke-width="0.2">0.3</text>
<text x="174.00" y="242.80" font-size="13.00" text-anchor="end" fill="#1a1a1a" style='font-family:"Liberation Sans",sans-serif' stroke="#1a1a1a" stroke-width="0.2">0.6</text>
<text x="174.00" y="217.00" font-size="13.00" text-anchor="end" fill="#1a1a1a" style='font-family:"Liberation Sans",sans-serif' stroke="#1a1a1a" stroke-width="0.2">0.9</text>
<text x="174.00" y="191.20" font-size="13.00" text-anchor="end" fill="#1a1a1a" style='font-family:"Liberation Sans",sans-serif' stroke="#1a1a1a" stroke-width="0.2">1.2</text>
<rect x="177.40" y="295.00" width="124.20" height="131.30" fill="none" stroke="#1a1a1a" stroke-width="1.2"/>
<path d="M185.00,426.90v-3.60M185.00,294.40v3.60M222.75,426.90v-3.60M222.75,294.40v3.60M260.50,426.90v-3.60M260.50,294.40v3.60M298.25,426.90v-3.60M298.25,294.40v3.60M176.80,426.30h3.2M302.20,426.30h-3.2M176.80,404.40h3.2M302.20,404.40h-3.2M176.80,382.50h3.2M302.20,382.50h-3.2M176.80,360.60h3.2M302.20,360.60h-3.2M176.80,338.70h3.2M302.20,338.70h-3.2M176.80,316.80h3.2M302.20,316.80h-3.2" stroke="#1a1a1a" stroke-width="1.3" fill="none"/>
<path d="M192.55,426.90v-2.00M192.55,294.40v2.00M200.10,426.90v-2.00M200.10,294.40v2.00M207.65,426.90v-2.00M207.65,294.40v2.00M215.20,426.90v-2.00M215.20,294.40v2.00M230.30,426.90v-2.00M230.30,294.40v2.00M237.85,426.90v-2.00M237.85,294.40v2.00M245.40,426.90v-2.00M245.40,294.40v2.00M252.95,426.90v-2.00M252.95,294.40v2.00M268.05,426.90v-2.00M268.05,294.40v2.00M275.60,426.90v-2.00M275.60,294.40v2.00M283.15,426.90v-2.00M283.15,294.40v2.00M290.70,426.90v-2.00M290.70,294.40v2.00" stroke="#1a1a1a" stroke-width="1.0" fill="none"/>
<text x="174.00" y="430.40" font-size="13.00" text-anchor="end" fill="#1a1a1a" style='font-family:"Liberation Sans",sans-serif' stroke="#1a1a1a" stroke-width="0.2">1.0</text>
<text x="174.00" y="408.50" font-size="13.00" text-anchor="end" fill="#1a1a1a" style='font-family:"Liberation Sans",sans-serif' stroke="#1a1a1a" stroke-width="0.2">1.5</text>
<text x="174.00" y="386.60" font-size="13.00" text-anchor="end" fill="#1a1a1a" style='font-family:"Liberation Sans",sans-serif' stroke="#1a1a1a" stroke-width="0.2">2.0</text>
<text x="174.00" y="364.70" font-size="13.00" text-anchor="end" fill="#1a1a1a" style='font-family:"Liberation Sans",sans-serif' stroke="#1a1a1a" stroke-width="0.2">2.5</text>
<text x="174.00" y="342.80" font-size="13.00" text-anchor="end" fill="#1a1a1a" style='font-family:"Liberation Sans",sans-serif' stroke="#1a1a1a" stroke-width="0.2">3.0</text>
<text x="174.00" y="320.90" font-size="13.00" text-anchor="end" fill="#1a1a1a" style='font-family:"Liberation Sans",sans-serif' stroke="#1a1a1a" stroke-width="0.2">3.5</text>
<text x="186.10" y="438.30" font-size="13.00" text-anchor="middle" fill="#1a1a1a" style='font-family:"Liberation Sans",sans-serif' stroke="#1a1a1a" stroke-width="0.2">0.85</text>
<text x="223.85" y="438.30" font-size="13.00" text-anchor="middle" fill="#1a1a1a" style='font-family:"Liberation Sans",sans-serif' stroke="#1a1a1a" stroke-width="0.2">0.90</text>
<text x="261.60" y="438.30" font-size="13.00" text-anchor="middle" fill="#1a1a1a" style='font-family:"Liberation Sans",sans-serif' stroke="#1a1a1a" stroke-width="0.2">0.95</text>
<text x="299.35" y="438.30" font-size="13.00" text-anchor="middle" fill="#1a1a1a" style='font-family:"Liberation Sans",sans-serif' stroke="#1a1a1a" stroke-width="0.2">1.00</text>
<text x="232.00" y="453.6" font-size="14.5" fill="#4a4a4a" style='font-family:"Liberation Serif",serif' font-style="italic">ψ<tspan font-size="9" dx="0.3" dy="1.8">N</tspan></text>
<rect x="326.40" y="27.70" width="124.20" height="130.75" fill="none" stroke="#1a1a1a" stroke-width="1.2"/>
<path d="M334.00,159.05v-3.60M334.00,27.10v3.60M371.75,159.05v-3.60M371.75,27.10v3.60M409.50,159.05v-3.60M409.50,27.10v3.60M447.25,159.05v-3.60M447.25,27.10v3.60M325.80,158.00h3.2M451.20,158.00h-3.2M325.80,127.80h3.2M451.20,127.80h-3.2M325.80,97.60h3.2M451.20,97.60h-3.2M325.80,67.40h3.2M451.20,67.40h-3.2M325.80,37.20h3.2M451.20,37.20h-3.2" stroke="#1a1a1a" stroke-width="1.3" fill="none"/>
<path d="M341.55,159.05v-2.00M341.55,27.10v2.00M349.10,159.05v-2.00M349.10,27.10v2.00M356.65,159.05v-2.00M356.65,27.10v2.00M364.20,159.05v-2.00M364.20,27.10v2.00M379.30,159.05v-2.00M379.30,27.10v2.00M386.85,159.05v-2.00M386.85,27.10v2.00M394.40,159.05v-2.00M394.40,27.10v2.00M401.95,159.05v-2.00M401.95,27.10v2.00M417.05,159.05v-2.00M417.05,27.10v2.00M424.60,159.05v-2.00M424.60,27.10v2.00M432.15,159.05v-2.00M432.15,27.10v2.00M439.70,159.05v-2.00M439.70,27.10v2.00" stroke="#1a1a1a" stroke-width="1.0" fill="none"/>
<text x="323.00" y="162.10" font-size="13.00" text-anchor="end" fill="#1a1a1a" style='font-family:"Liberation Sans",sans-serif' stroke="#1a1a1a" stroke-width="0.2">0</text>
<text x="323.00" y="131.90" font-size="13.00" text-anchor="end" fill="#1a1a1a" style='font-family:"Liberation Sans",sans-serif' stroke="#1a1a1a" stroke-width="0.2">3</text>
<text x="323.00" y="101.70" font-size="13.00" text-anchor="end" fill="#1a1a1a" style='font-family:"Liberation Sans",sans-serif' stroke="#1a1a1a" stroke-width="0.2">6</text>
<text x="323.00" y="71.50" font-size="13.00" text-anchor="end" fill="#1a1a1a" style='font-family:"Liberation Sans",sans-serif' stroke="#1a1a1a" stroke-width="0.2">9</text>
<text x="323.00" y="41.30" font-size="13.00" text-anchor="end" fill="#1a1a1a" style='font-family:"Liberation Sans",sans-serif' stroke="#1a1a1a" stroke-width="0.2">12</text>
<rect x="326.40" y="161.35" width="124.20" height="130.90" fill="none" stroke="#1a1a1a" stroke-width="1.2"/>
<path d="M334.00,292.85v-3.60M334.00,160.75v3.60M371.75,292.85v-3.60M371.75,160.75v3.60M409.50,292.85v-3.60M409.50,160.75v3.60M447.25,292.85v-3.60M447.25,160.75v3.60M325.80,292.20h3.2M451.20,292.20h-3.2M325.80,269.20h3.2M451.20,269.20h-3.2M325.80,246.20h3.2M451.20,246.20h-3.2M325.80,223.20h3.2M451.20,223.20h-3.2M325.80,200.20h3.2M451.20,200.20h-3.2M325.80,177.20h3.2M451.20,177.20h-3.2" stroke="#1a1a1a" stroke-width="1.3" fill="none"/>
<path d="M341.55,292.85v-2.00M341.55,160.75v2.00M349.10,292.85v-2.00M349.10,160.75v2.00M356.65,292.85v-2.00M356.65,160.75v2.00M364.20,292.85v-2.00M364.20,160.75v2.00M379.30,292.85v-2.00M379.30,160.75v2.00M386.85,292.85v-2.00M386.85,160.75v2.00M394.40,292.85v-2.00M394.40,160.75v2.00M401.95,292.85v-2.00M401.95,160.75v2.00M417.05,292.85v-2.00M417.05,160.75v2.00M424.60,292.85v-2.00M424.60,160.75v2.00M432.15,292.85v-2.00M432.15,160.75v2.00M439.70,292.85v-2.00M439.70,160.75v2.00" stroke="#1a1a1a" stroke-width="1.0" fill="none"/>
<text x="323.00" y="296.30" font-size="13.00" text-anchor="end" fill="#1a1a1a" style='font-family:"Liberation Sans",sans-serif' stroke="#1a1a1a" stroke-width="0.2">0</text>
<text x="323.00" y="273.30" font-size="13.00" text-anchor="end" fill="#1a1a1a" style='font-family:"Liberation Sans",sans-serif' stroke="#1a1a1a" stroke-width="0.2">2</text>
<text x="323.00" y="250.30" font-size="13.00" text-anchor="end" fill="#1a1a1a" style='font-family:"Liberation Sans",sans-serif' stroke="#1a1a1a" stroke-width="0.2">4</text>
<text x="323.00" y="227.30" font-size="13.00" text-anchor="end" fill="#1a1a1a" style='font-family:"Liberation Sans",sans-serif' stroke="#1a1a1a" stroke-width="0.2">6</text>
<text x="323.00" y="204.30" font-size="13.00" text-anchor="end" fill="#1a1a1a" style='font-family:"Liberation Sans",sans-serif' stroke="#1a1a1a" stroke-width="0.2">8</text>
<text x="323.00" y="181.30" font-size="13.00" text-anchor="end" fill="#1a1a1a" style='font-family:"Liberation Sans",sans-serif' stroke="#1a1a1a" stroke-width="0.2">10</text>
<rect x="326.40" y="295.00" width="124.20" height="131.30" fill="none" stroke="#1a1a1a" stroke-width="1.2"/>
<path d="M334.00,426.90v-3.60M334.00,294.40v3.60M371.75,426.90v-3.60M371.75,294.40v3.60M409.50,426.90v-3.60M409.50,294.40v3.60M447.25,426.90v-3.60M447.25,294.40v3.60M325.80,426.50h3.2M451.20,426.50h-3.2M325.80,399.50h3.2M451.20,399.50h-3.2M325.80,372.50h3.2M451.20,372.50h-3.2M325.80,345.50h3.2M451.20,345.50h-3.2M325.80,318.50h3.2M451.20,318.50h-3.2" stroke="#1a1a1a" stroke-width="1.3" fill="none"/>
<path d="M341.55,426.90v-2.00M341.55,294.40v2.00M349.10,426.90v-2.00M349.10,294.40v2.00M356.65,426.90v-2.00M356.65,294.40v2.00M364.20,426.90v-2.00M364.20,294.40v2.00M379.30,426.90v-2.00M379.30,294.40v2.00M386.85,426.90v-2.00M386.85,294.40v2.00M394.40,426.90v-2.00M394.40,294.40v2.00M401.95,426.90v-2.00M401.95,294.40v2.00M417.05,426.90v-2.00M417.05,294.40v2.00M424.60,426.90v-2.00M424.60,294.40v2.00M432.15,426.90v-2.00M432.15,294.40v2.00M439.70,426.90v-2.00M439.70,294.40v2.00" stroke="#1a1a1a" stroke-width="1.0" fill="none"/>
<text x="323.00" y="430.60" font-size="13.00" text-anchor="end" fill="#1a1a1a" style='font-family:"Liberation Sans",sans-serif' stroke="#1a1a1a" stroke-width="0.2">0</text>
<text x="323.00" y="403.60" font-size="13.00" text-anchor="end" fill="#1a1a1a" style='font-family:"Liberation Sans",sans-serif' stroke="#1a1a1a" stroke-width="0.2">5</text>
<text x="323.00" y="376.60" font-size="13.00" text-anchor="end" fill="#1a1a1a" style='font-family:"Liberation Sans",sans-serif' stroke="#1a1a1a" stroke-width="0.2">10</text>
<text x="323.00" y="349.60" font-size="13.00" text-anchor="end" fill="#1a1a1a" style='font-family:"Liberation Sans",sans-serif' stroke="#1a1a1a" stroke-width="0.2">15</text>
<text x="323.00" y="322.60" font-size="13.00" text-anchor="end" fill="#1a1a1a" style='font-family:"Liberation Sans",sans-serif' stroke="#1a1a1a" stroke-width="0.2">20</text>
<text x="335.10" y="438.30" font-size="13.00" text-anchor="middle" fill="#1a1a1a" style='font-family:"Liberation Sans",sans-serif' stroke="#1a1a1a" stroke-width="0.2">0.85</text>
<text x="372.85" y="438.30" font-size="13.00" text-anchor="middle" fill="#1a1a1a" style='font-family:"Liberation Sans",sans-serif' stroke="#1a1a1a" stroke-width="0.2">0.90</text>
<text x="410.60" y="438.30" font-size="13.00" text-anchor="middle" fill="#1a1a1a" style='font-family:"Liberation Sans",sans-serif' stroke="#1a1a1a" stroke-width="0.2">0.95</text>
<text x="448.35" y="438.30" font-size="13.00" text-anchor="middle" fill="#1a1a1a" style='font-family:"Liberation Sans",sans-serif' stroke="#1a1a1a" stroke-width="0.2">1.00</text>
<text x="381.00" y="453.6" font-size="14.5" fill="#4a4a4a" style='font-family:"Liberation Serif",serif' font-style="italic">ψ<tspan font-size="9" dx="0.3" dy="1.8">N</tspan></text>
<rect x="475.40" y="27.70" width="124.20" height="130.75" fill="none" stroke="#1a1a1a" stroke-width="1.2"/>
<path d="M482.80,159.05v-3.60M482.80,27.10v3.60M520.55,159.05v-3.60M520.55,27.10v3.60M558.30,159.05v-3.60M558.30,27.10v3.60M596.05,159.05v-3.60M596.05,27.10v3.60M474.80,158.30h3.2M600.20,158.30h-3.2M474.80,124.10h3.2M600.20,124.10h-3.2M474.80,89.90h3.2M600.20,89.90h-3.2M474.80,55.70h3.2M600.20,55.70h-3.2" stroke="#1a1a1a" stroke-width="1.3" fill="none"/>
<path d="M490.35,159.05v-2.00M490.35,27.10v2.00M497.90,159.05v-2.00M497.90,27.10v2.00M505.45,159.05v-2.00M505.45,27.10v2.00M513.00,159.05v-2.00M513.00,27.10v2.00M528.10,159.05v-2.00M528.10,27.10v2.00M535.65,159.05v-2.00M535.65,27.10v2.00M543.20,159.05v-2.00M543.20,27.10v2.00M550.75,159.05v-2.00M550.75,27.10v2.00M565.85,159.05v-2.00M565.85,27.10v2.00M573.40,159.05v-2.00M573.40,27.10v2.00M580.95,159.05v-2.00M580.95,27.10v2.00M588.50,159.05v-2.00M588.50,27.10v2.00" stroke="#1a1a1a" stroke-width="1.0" fill="none"/>
<text x="472.00" y="162.40" font-size="13.00" text-anchor="end" fill="#1a1a1a" style='font-family:"Liberation Sans",sans-serif' stroke="#1a1a1a" stroke-width="0.2">0.0</text>
<text x="472.00" y="128.20" font-size="13.00" text-anchor="end" fill="#1a1a1a" style='font-family:"Liberation Sans",sans-serif' stroke="#1a1a1a" stroke-width="0.2">0.2</text>
<text x="472.00" y="94.00" font-size="13.00" text-anchor="end" fill="#1a1a1a" style='font-family:"Liberation Sans",sans-serif' stroke="#1a1a1a" stroke-width="0.2">0.4</text>
<text x="472.00" y="59.80" font-size="13.00" text-anchor="end" fill="#1a1a1a" style='font-family:"Liberation Sans",sans-serif' stroke="#1a1a1a" stroke-width="0.2">0.6</text>
<rect x="475.40" y="161.35" width="124.20" height="130.90" fill="none" stroke="#1a1a1a" stroke-width="1.2"/>
<path d="M482.80,292.85v-3.60M482.80,160.75v3.60M520.55,292.85v-3.60M520.55,160.75v3.60M558.30,292.85v-3.60M558.30,160.75v3.60M596.05,292.85v-3.60M596.05,160.75v3.60M474.80,291.40h3.2M600.20,291.40h-3.2M474.80,262.45h3.2M600.20,262.45h-3.2M474.80,233.50h3.2M600.20,233.50h-3.2M474.80,204.55h3.2M600.20,204.55h-3.2M474.80,175.60h3.2M600.20,175.60h-3.2" stroke="#1a1a1a" stroke-width="1.3" fill="none"/>
<path d="M490.35,292.85v-2.00M490.35,160.75v2.00M497.90,292.85v-2.00M497.90,160.75v2.00M505.45,292.85v-2.00M505.45,160.75v2.00M513.00,292.85v-2.00M513.00,160.75v2.00M528.10,292.85v-2.00M528.10,160.75v2.00M535.65,292.85v-2.00M535.65,160.75v2.00M543.20,292.85v-2.00M543.20,160.75v2.00M550.75,292.85v-2.00M550.75,160.75v2.00M565.85,292.85v-2.00M565.85,160.75v2.00M573.40,292.85v-2.00M573.40,160.75v2.00M580.95,292.85v-2.00M580.95,160.75v2.00M588.50,292.85v-2.00M588.50,160.75v2.00" stroke="#1a1a1a" stroke-width="1.0" fill="none"/>
<text x="472.00" y="295.50" font-size="13.00" text-anchor="end" fill="#1a1a1a" style='font-family:"Liberation Sans",sans-serif' stroke="#1a1a1a" stroke-width="0.2">−9</text>
<text x="472.00" y="266.55" font-size="13.00" text-anchor="end" fill="#1a1a1a" style='font-family:"Liberation Sans",sans-serif' stroke="#1a1a1a" stroke-width="0.2">−7</text>
<text x="472.00" y="237.60" font-size="13.00" text-anchor="end" fill="#1a1a1a" style='font-family:"Liberation Sans",sans-serif' stroke="#1a1a1a" stroke-width="0.2">−5</text>
<text x="472.00" y="208.65" font-size="13.00" text-anchor="end" fill="#1a1a1a" style='font-family:"Liberation Sans",sans-serif' stroke="#1a1a1a" stroke-width="0.2">−3</text>
<text x="472.00" y="179.70" font-size="13.00" text-anchor="end" fill="#1a1a1a" style='font-family:"Liberation Sans",sans-serif' stroke="#1a1a1a" stroke-width="0.2">−1</text>
<rect x="475.40" y="295.00" width="124.20" height="131.30" fill="none" stroke="#1a1a1a" stroke-width="1.2"/>
<path d="M482.80,426.90v-3.60M482.80,294.40v3.60M520.55,426.90v-3.60M520.55,294.40v3.60M558.30,426.90v-3.60M558.30,294.40v3.60M596.05,426.90v-3.60M596.05,294.40v3.60M474.80,426.00h3.2M600.20,426.00h-3.2M474.80,388.00h3.2M600.20,388.00h-3.2M474.80,350.00h3.2M600.20,350.00h-3.2M474.80,312.00h3.2M600.20,312.00h-3.2" stroke="#1a1a1a" stroke-width="1.3" fill="none"/>
<path d="M490.35,426.90v-2.00M490.35,294.40v2.00M497.90,426.90v-2.00M497.90,294.40v2.00M505.45,426.90v-2.00M505.45,294.40v2.00M513.00,426.90v-2.00M513.00,294.40v2.00M528.10,426.90v-2.00M528.10,294.40v2.00M535.65,426.90v-2.00M535.65,294.40v2.00M543.20,426.90v-2.00M543.20,294.40v2.00M550.75,426.90v-2.00M550.75,294.40v2.00M565.85,426.90v-2.00M565.85,294.40v2.00M573.40,426.90v-2.00M573.40,294.40v2.00M580.95,426.90v-2.00M580.95,294.40v2.00M588.50,426.90v-2.00M588.50,294.40v2.00" stroke="#1a1a1a" stroke-width="1.0" fill="none"/>
<text x="472.00" y="430.10" font-size="13.00" text-anchor="end" fill="#1a1a1a" style='font-family:"Liberation Sans",sans-serif' stroke="#1a1a1a" stroke-width="0.2">0</text>
<text x="472.00" y="392.10" font-size="13.00" text-anchor="end" fill="#1a1a1a" style='font-family:"Liberation Sans",sans-serif' stroke="#1a1a1a" stroke-width="0.2">2</text>
<text x="472.00" y="354.10" font-size="13.00" text-anchor="end" fill="#1a1a1a" style='font-family:"Liberation Sans",sans-serif' stroke="#1a1a1a" stroke-width="0.2">4</text>
<text x="472.00" y="316.10" font-size="13.00" text-anchor="end" fill="#1a1a1a" style='font-family:"Liberation Sans",sans-serif' stroke="#1a1a1a" stroke-width="0.2">6</text>
<text x="483.90" y="438.30" font-size="13.00" text-anchor="middle" fill="#1a1a1a" style='font-family:"Liberation Sans",sans-serif' stroke="#1a1a1a" stroke-width="0.2">0.85</text>
<text x="521.65" y="438.30" font-size="13.00" text-anchor="middle" fill="#1a1a1a" style='font-family:"Liberation Sans",sans-serif' stroke="#1a1a1a" stroke-width="0.2">0.90</text>
<text x="559.40" y="438.30" font-size="13.00" text-anchor="middle" fill="#1a1a1a" style='font-family:"Liberation Sans",sans-serif' stroke="#1a1a1a" stroke-width="0.2">0.95</text>
<text x="597.15" y="438.30" font-size="13.00" text-anchor="middle" fill="#1a1a1a" style='font-family:"Liberation Sans",sans-serif' stroke="#1a1a1a" stroke-width="0.2">1.00</text>
<text x="530.00" y="453.6" font-size="14.5" fill="#4a4a4a" style='font-family:"Liberation Serif",serif' font-style="italic">ψ<tspan font-size="9" dx="0.3" dy="1.8">N</tspan></text>
</svg></body></html>
